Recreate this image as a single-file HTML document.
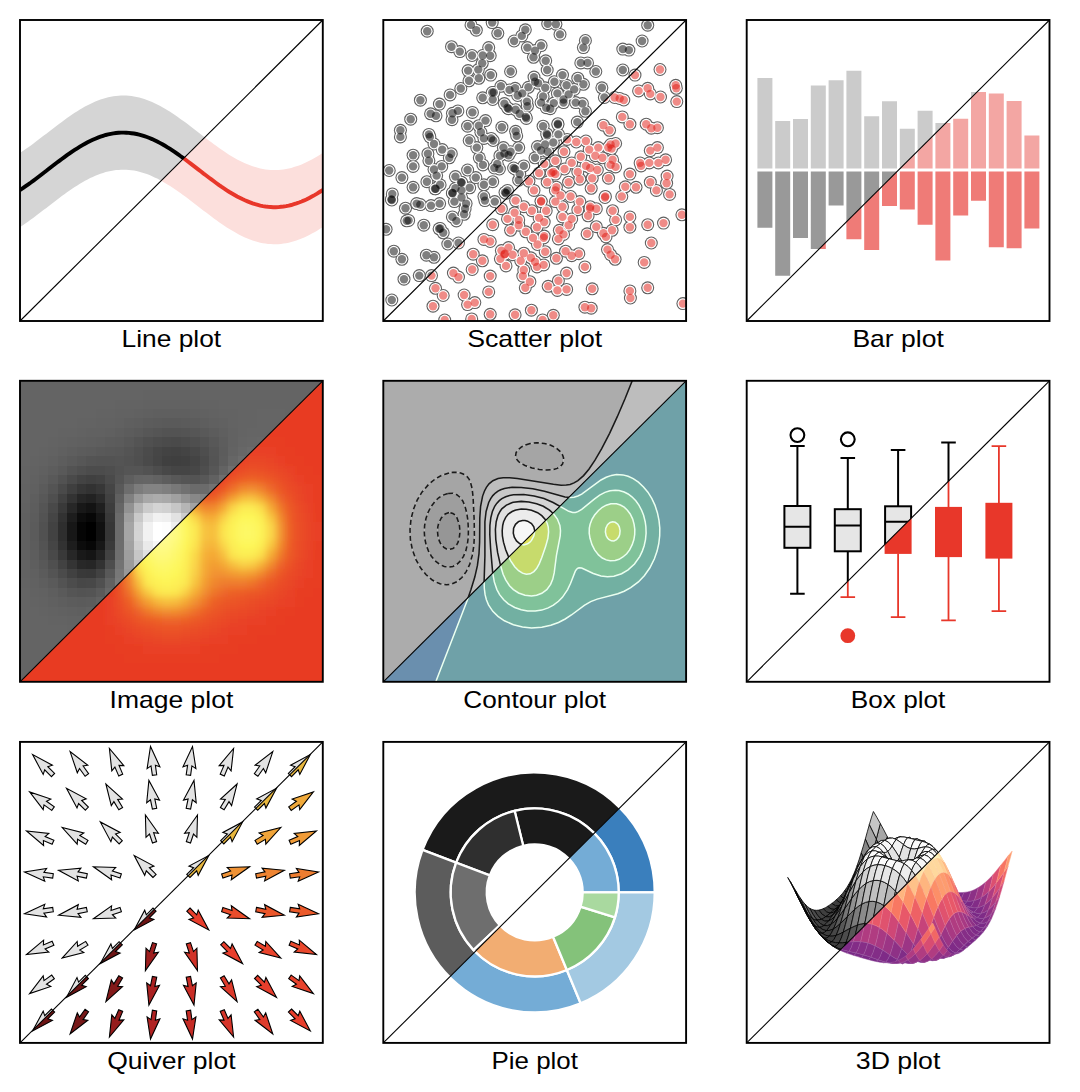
<!DOCTYPE html><html><head><meta charset="utf-8"><style>html,body{margin:0;padding:0;background:#fff;width:1080px;height:1092px;overflow:hidden}svg text{font-family:"Liberation Sans",sans-serif}</style></head><body><svg width="1080" height="1092" viewBox="0 0 1080 1092" style="position:absolute;left:0;top:0" font-family="Liberation Sans, sans-serif" font-size="23.6" fill="#000"><defs><g id="scr"><circle cx="427.2" cy="31.2" r="6.5"/><circle cx="471" cy="24.9" r="6.5"/><circle cx="476.3" cy="30.2" r="6.5"/><circle cx="451.5" cy="46.7" r="6.5"/><circle cx="459.8" cy="51.6" r="6.5"/><circle cx="472" cy="55.5" r="6.5"/><circle cx="482.7" cy="55.5" r="6.5"/><circle cx="482.2" cy="63.3" r="6.5"/><circle cx="468.1" cy="70.6" r="6.5"/><circle cx="478.3" cy="69.6" r="6.5"/><circle cx="469" cy="80.8" r="6.5"/><circle cx="478.8" cy="78.3" r="6.5"/><circle cx="460.8" cy="88.5" r="6.5"/><circle cx="450.1" cy="94.9" r="6.5"/><circle cx="420.4" cy="100.2" r="6.5"/><circle cx="439.4" cy="104.1" r="6.5"/><circle cx="482.7" cy="97.8" r="6.5"/><circle cx="430.6" cy="113.8" r="6.5"/><circle cx="436" cy="115.8" r="6.5"/><circle cx="452.5" cy="113.3" r="6.5"/><circle cx="457.9" cy="110.9" r="6.5"/><circle cx="452" cy="119.7" r="6.5"/><circle cx="472.4" cy="112.4" r="6.5"/><circle cx="410.7" cy="119.2" r="6.5"/><circle cx="492.2" cy="22.6" r="6.5"/><circle cx="497.8" cy="33.3" r="6.5"/><circle cx="525.3" cy="29.8" r="6.5"/><circle cx="521.8" cy="35.9" r="6.5"/><circle cx="514.1" cy="41" r="6.5"/><circle cx="547.7" cy="23.7" r="6.5"/><circle cx="555.9" cy="24.2" r="6.5"/><circle cx="560" cy="34.4" r="6.5"/><circle cx="585.4" cy="40.5" r="6.5"/><circle cx="583.4" cy="47.6" r="6.5"/><circle cx="488.7" cy="47.6" r="6.5"/><circle cx="490.2" cy="55.7" r="6.5"/><circle cx="527.4" cy="47.6" r="6.5"/><circle cx="535" cy="50.6" r="6.5"/><circle cx="541.1" cy="45.6" r="6.5"/><circle cx="533.5" cy="57.3" r="6.5"/><circle cx="545.7" cy="60.8" r="6.5"/><circle cx="547.2" cy="70" r="6.5"/><circle cx="580.8" cy="62.9" r="6.5"/><circle cx="587.5" cy="62.9" r="6.5"/><circle cx="510.6" cy="71.5" r="6.5"/><circle cx="490.7" cy="75.1" r="6.5"/><circle cx="534" cy="77.1" r="6.5"/><circle cx="535" cy="81.7" r="6.5"/><circle cx="538.1" cy="83.2" r="6.5"/><circle cx="528.4" cy="87.3" r="6.5"/><circle cx="562.5" cy="75.1" r="6.5"/><circle cx="554.4" cy="81.7" r="6.5"/><circle cx="577.8" cy="78.2" r="6.5"/><circle cx="583.4" cy="84.3" r="6.5"/><circle cx="566.6" cy="85.3" r="6.5"/><circle cx="574.2" cy="89.4" r="6.5"/><circle cx="545.2" cy="87.8" r="6.5"/><circle cx="500.9" cy="86.3" r="6.5"/><circle cx="493.8" cy="92.4" r="6.5"/><circle cx="509.5" cy="89.9" r="6.5"/><circle cx="515.1" cy="88.3" r="6.5"/><circle cx="522.3" cy="93.4" r="6.5"/><circle cx="517.7" cy="95.5" r="6.5"/><circle cx="492.7" cy="99.5" r="6.5"/><circle cx="543.1" cy="96.5" r="6.5"/><circle cx="541.1" cy="102.6" r="6.5"/><circle cx="557.4" cy="93.4" r="6.5"/><circle cx="568.6" cy="94.4" r="6.5"/><circle cx="563.5" cy="99.5" r="6.5"/><circle cx="563.5" cy="102.6" r="6.5"/><circle cx="553.8" cy="103.1" r="6.5"/><circle cx="546.2" cy="107.7" r="6.5"/><circle cx="550.3" cy="108.7" r="6.5"/><circle cx="526.9" cy="101.6" r="6.5"/><circle cx="527.4" cy="106.2" r="6.5"/><circle cx="504.4" cy="103.6" r="6.5"/><circle cx="508.5" cy="108.7" r="6.5"/><circle cx="515.6" cy="109.7" r="6.5"/><circle cx="519.7" cy="113.8" r="6.5"/><circle cx="526.3" cy="118.4" r="6.5"/><circle cx="575.7" cy="102.6" r="6.5"/><circle cx="582.4" cy="103.6" r="6.5"/><circle cx="585.4" cy="111.3" r="6.5"/><circle cx="647.7" cy="25.2" r="6.5"/><circle cx="642.1" cy="41" r="6.5"/><circle cx="622.8" cy="49.1" r="6.5"/><circle cx="628.9" cy="50.1" r="6.5"/><circle cx="595.8" cy="71.5" r="6.5"/><circle cx="622.8" cy="70" r="6.5"/><circle cx="635" cy="75.1" r="6.5"/><circle cx="660" cy="69.5" r="6.5"/><circle cx="601.9" cy="87.8" r="6.5"/><circle cx="604.4" cy="97.5" r="6.5"/><circle cx="614.6" cy="97.5" r="6.5"/><circle cx="619.7" cy="98.5" r="6.5"/><circle cx="623.8" cy="100" r="6.5"/><circle cx="638.6" cy="90.9" r="6.5"/><circle cx="647.7" cy="88.3" r="6.5"/><circle cx="650.3" cy="93.9" r="6.5"/><circle cx="660.5" cy="97" r="6.5"/><circle cx="675.7" cy="85.3" r="6.5"/><circle cx="676.3" cy="88.3" r="6.5"/><circle cx="676.8" cy="101.6" r="6.5"/><circle cx="622.3" cy="116.9" r="6.5"/><circle cx="485.5" cy="120.6" r="6.5"/><circle cx="400.4" cy="130.3" r="6.5"/><circle cx="400.4" cy="136.9" r="6.5"/><circle cx="428.9" cy="134.4" r="6.5"/><circle cx="429.9" cy="136.9" r="6.5"/><circle cx="434" cy="144" r="6.5"/><circle cx="442.2" cy="149.6" r="6.5"/><circle cx="451.3" cy="153.7" r="6.5"/><circle cx="449.3" cy="157.8" r="6.5"/><circle cx="467.6" cy="126.2" r="6.5"/><circle cx="478.8" cy="125.7" r="6.5"/><circle cx="480.9" cy="132.3" r="6.5"/><circle cx="483.9" cy="138.4" r="6.5"/><circle cx="469.2" cy="140.5" r="6.5"/><circle cx="476.8" cy="147.6" r="6.5"/><circle cx="413.1" cy="155.2" r="6.5"/><circle cx="413.1" cy="166.4" r="6.5"/><circle cx="427.9" cy="153.7" r="6.5"/><circle cx="428.9" cy="160.8" r="6.5"/><circle cx="389.2" cy="170.5" r="6.5"/><circle cx="401.9" cy="177.6" r="6.5"/><circle cx="434" cy="169.5" r="6.5"/><circle cx="441.7" cy="166.4" r="6.5"/><circle cx="436.6" cy="175.6" r="6.5"/><circle cx="467.6" cy="170" r="6.5"/><circle cx="479.3" cy="157.8" r="6.5"/><circle cx="482.9" cy="164.9" r="6.5"/><circle cx="475.8" cy="177.6" r="6.5"/><circle cx="413.1" cy="187.3" r="6.5"/><circle cx="426.9" cy="181.7" r="6.5"/><circle cx="440.1" cy="184.8" r="6.5"/><circle cx="435" cy="188.8" r="6.5"/><circle cx="455.4" cy="176.6" r="6.5"/><circle cx="461" cy="182.2" r="6.5"/><circle cx="452.4" cy="192.9" r="6.5"/><circle cx="455.4" cy="188.3" r="6.5"/><circle cx="461.5" cy="190.4" r="6.5"/><circle cx="469.7" cy="187.8" r="6.5"/><circle cx="483.9" cy="184.8" r="6.5"/><circle cx="392.3" cy="193.9" r="6.5"/><circle cx="391.8" cy="200" r="6.5"/><circle cx="405.5" cy="208.2" r="6.5"/><circle cx="416.7" cy="203.6" r="6.5"/><circle cx="420.3" cy="204.6" r="6.5"/><circle cx="431" cy="205.6" r="6.5"/><circle cx="439.6" cy="203.6" r="6.5"/><circle cx="454.4" cy="201.6" r="6.5"/><circle cx="461.5" cy="197.5" r="6.5"/><circle cx="466.1" cy="203.6" r="6.5"/><circle cx="465.1" cy="208.7" r="6.5"/><circle cx="464.1" cy="214.3" r="6.5"/><circle cx="483.9" cy="196.5" r="6.5"/><circle cx="484.9" cy="200.6" r="6.5"/><circle cx="452.4" cy="216.9" r="6.5"/><circle cx="456.4" cy="220.9" r="6.5"/><circle cx="408.6" cy="220.4" r="6.5"/><circle cx="501.9" cy="127.2" r="6.5"/><circle cx="515.6" cy="131.3" r="6.5"/><circle cx="516.7" cy="135.9" r="6.5"/><circle cx="491.2" cy="138.4" r="6.5"/><circle cx="493.2" cy="140.5" r="6.5"/><circle cx="503.4" cy="147.6" r="6.5"/><circle cx="510.6" cy="151.7" r="6.5"/><circle cx="508.5" cy="155.2" r="6.5"/><circle cx="499.9" cy="155.7" r="6.5"/><circle cx="518.7" cy="147.6" r="6.5"/><circle cx="497.3" cy="163.9" r="6.5"/><circle cx="499.4" cy="169" r="6.5"/><circle cx="494.3" cy="168" r="6.5"/><circle cx="513.6" cy="168" r="6.5"/><circle cx="523.8" cy="165.9" r="6.5"/><circle cx="519.7" cy="174.1" r="6.5"/><circle cx="518.7" cy="180.2" r="6.5"/><circle cx="492.7" cy="181.7" r="6.5"/><circle cx="494.8" cy="201.6" r="6.5"/><circle cx="505" cy="192.4" r="6.5"/><circle cx="507.5" cy="190.4" r="6.5"/><circle cx="543.1" cy="126.2" r="6.5"/><circle cx="557.9" cy="123.7" r="6.5"/><circle cx="577.3" cy="122.1" r="6.5"/><circle cx="546.7" cy="133.8" r="6.5"/><circle cx="558.4" cy="134.4" r="6.5"/><circle cx="553.3" cy="142.5" r="6.5"/><circle cx="537.5" cy="146.6" r="6.5"/><circle cx="545.2" cy="144.5" r="6.5"/><circle cx="547.7" cy="151.7" r="6.5"/><circle cx="535" cy="157.8" r="6.5"/><circle cx="567.1" cy="139.4" r="6.5"/><circle cx="576.3" cy="142" r="6.5"/><circle cx="585.9" cy="141" r="6.5"/><circle cx="564" cy="151.7" r="6.5"/><circle cx="555.4" cy="160.8" r="6.5"/><circle cx="580.8" cy="156.8" r="6.5"/><circle cx="544.2" cy="163.9" r="6.5"/><circle cx="539.1" cy="173.1" r="6.5"/><circle cx="551.3" cy="173.1" r="6.5"/><circle cx="555.4" cy="174.1" r="6.5"/><circle cx="564.5" cy="169" r="6.5"/><circle cx="571.7" cy="162.9" r="6.5"/><circle cx="577.8" cy="172" r="6.5"/><circle cx="585.9" cy="165.9" r="6.5"/><circle cx="528.9" cy="181.2" r="6.5"/><circle cx="547.2" cy="182.2" r="6.5"/><circle cx="555.4" cy="190.4" r="6.5"/><circle cx="568.6" cy="182.2" r="6.5"/><circle cx="579.8" cy="179.2" r="6.5"/><circle cx="534" cy="190.4" r="6.5"/><circle cx="560.5" cy="195.5" r="6.5"/><circle cx="541.1" cy="201.6" r="6.5"/><circle cx="555.4" cy="201.6" r="6.5"/><circle cx="570.6" cy="196.5" r="6.5"/><circle cx="579.8" cy="201.6" r="6.5"/><circle cx="501.4" cy="208.7" r="6.5"/><circle cx="515.6" cy="200.6" r="6.5"/><circle cx="523.8" cy="206.7" r="6.5"/><circle cx="514.6" cy="212.8" r="6.5"/><circle cx="531.9" cy="210.7" r="6.5"/><circle cx="546.2" cy="210.7" r="6.5"/><circle cx="562.5" cy="206.7" r="6.5"/><circle cx="577.8" cy="209.7" r="6.5"/><circle cx="507.5" cy="218.9" r="6.5"/><circle cx="518.7" cy="219.9" r="6.5"/><circle cx="539.1" cy="217.9" r="6.5"/><circle cx="562.5" cy="216.9" r="6.5"/><circle cx="571.7" cy="218.9" r="6.5"/><circle cx="629.9" cy="124.2" r="6.5"/><circle cx="603.4" cy="125.2" r="6.5"/><circle cx="609.5" cy="130.3" r="6.5"/><circle cx="646.2" cy="124.2" r="6.5"/><circle cx="651.3" cy="128.2" r="6.5"/><circle cx="657.4" cy="127.7" r="6.5"/><circle cx="598.3" cy="147.6" r="6.5"/><circle cx="589.2" cy="149.6" r="6.5"/><circle cx="610.6" cy="144.5" r="6.5"/><circle cx="615.6" cy="143.5" r="6.5"/><circle cx="611.6" cy="148.6" r="6.5"/><circle cx="595.3" cy="155.7" r="6.5"/><circle cx="602.4" cy="157.8" r="6.5"/><circle cx="590.2" cy="168" r="6.5"/><circle cx="597.3" cy="170" r="6.5"/><circle cx="612.6" cy="159.8" r="6.5"/><circle cx="610.6" cy="164.9" r="6.5"/><circle cx="615.6" cy="166.9" r="6.5"/><circle cx="592.2" cy="178.2" r="6.5"/><circle cx="608.5" cy="178.2" r="6.5"/><circle cx="591.2" cy="188.3" r="6.5"/><circle cx="650.3" cy="150.6" r="6.5"/><circle cx="657.4" cy="147.6" r="6.5"/><circle cx="640.1" cy="162.9" r="6.5"/><circle cx="641.1" cy="165.9" r="6.5"/><circle cx="649.3" cy="162.9" r="6.5"/><circle cx="658.4" cy="162.9" r="6.5"/><circle cx="665.6" cy="159.8" r="6.5"/><circle cx="629.9" cy="174.1" r="6.5"/><circle cx="625.3" cy="186.8" r="6.5"/><circle cx="636" cy="187.3" r="6.5"/><circle cx="621.8" cy="196.5" r="6.5"/><circle cx="605" cy="197.5" r="6.5"/><circle cx="650.3" cy="182.2" r="6.5"/><circle cx="656.4" cy="190.4" r="6.5"/><circle cx="667.1" cy="176.1" r="6.5"/><circle cx="666.6" cy="183.2" r="6.5"/><circle cx="669.6" cy="194.4" r="6.5"/><circle cx="590.2" cy="206.7" r="6.5"/><circle cx="596.3" cy="208.7" r="6.5"/><circle cx="588.1" cy="215.8" r="6.5"/><circle cx="612.6" cy="210.7" r="6.5"/><circle cx="615.6" cy="219.9" r="6.5"/><circle cx="629.9" cy="216.9" r="6.5"/><circle cx="681.9" cy="214.8" r="6.5"/><circle cx="423.8" cy="225.2" r="6.5"/><circle cx="386.1" cy="229.3" r="6.5"/><circle cx="439.1" cy="228.8" r="6.5"/><circle cx="443.2" cy="232.8" r="6.5"/><circle cx="447.8" cy="244" r="6.5"/><circle cx="458.5" cy="243" r="6.5"/><circle cx="393.8" cy="251.2" r="6.5"/><circle cx="401.9" cy="259.3" r="6.5"/><circle cx="426.4" cy="255.2" r="6.5"/><circle cx="434" cy="257.3" r="6.5"/><circle cx="404" cy="279.2" r="6.5"/><circle cx="419.3" cy="275.6" r="6.5"/><circle cx="431.5" cy="275.6" r="6.5"/><circle cx="391.8" cy="300" r="6.5"/><circle cx="483.9" cy="239.4" r="6.5"/><circle cx="473.2" cy="254.2" r="6.5"/><circle cx="482.4" cy="260.8" r="6.5"/><circle cx="472.2" cy="269.5" r="6.5"/><circle cx="453.4" cy="273.1" r="6.5"/><circle cx="458.5" cy="277.1" r="6.5"/><circle cx="435.5" cy="288.3" r="6.5"/><circle cx="443.2" cy="295.5" r="6.5"/><circle cx="464.1" cy="295" r="6.5"/><circle cx="467.6" cy="304.6" r="6.5"/><circle cx="474.8" cy="302.6" r="6.5"/><circle cx="433" cy="306.2" r="6.5"/><circle cx="444.7" cy="320" r="6.5"/><circle cx="471.7" cy="318.9" r="6.5"/><circle cx="492.7" cy="224.7" r="6.5"/><circle cx="518.7" cy="225.2" r="6.5"/><circle cx="510.6" cy="230.3" r="6.5"/><circle cx="525.8" cy="231.8" r="6.5"/><circle cx="544.2" cy="222.1" r="6.5"/><circle cx="537" cy="227.2" r="6.5"/><circle cx="533" cy="237.9" r="6.5"/><circle cx="543.7" cy="237.9" r="6.5"/><circle cx="537.5" cy="244.5" r="6.5"/><circle cx="568.6" cy="225.2" r="6.5"/><circle cx="559.4" cy="230.3" r="6.5"/><circle cx="563.5" cy="234.4" r="6.5"/><circle cx="558.4" cy="238.9" r="6.5"/><circle cx="490.2" cy="241.5" r="6.5"/><circle cx="501.4" cy="250.6" r="6.5"/><circle cx="505" cy="253.7" r="6.5"/><circle cx="508.5" cy="247.6" r="6.5"/><circle cx="512.6" cy="254.7" r="6.5"/><circle cx="500.4" cy="258.8" r="6.5"/><circle cx="506" cy="265.9" r="6.5"/><circle cx="523.8" cy="253.2" r="6.5"/><circle cx="520.7" cy="260.8" r="6.5"/><circle cx="530.9" cy="257.8" r="6.5"/><circle cx="535" cy="261.9" r="6.5"/><circle cx="537" cy="266.9" r="6.5"/><circle cx="543.7" cy="264.9" r="6.5"/><circle cx="523.8" cy="270" r="6.5"/><circle cx="522.8" cy="276.1" r="6.5"/><circle cx="529.9" cy="281.7" r="6.5"/><circle cx="525.3" cy="287.8" r="6.5"/><circle cx="545.2" cy="251.7" r="6.5"/><circle cx="556.4" cy="258.3" r="6.5"/><circle cx="565.6" cy="251.2" r="6.5"/><circle cx="571.7" cy="255.7" r="6.5"/><circle cx="578.8" cy="253.7" r="6.5"/><circle cx="584.9" cy="266.9" r="6.5"/><circle cx="490.2" cy="276.1" r="6.5"/><circle cx="488.7" cy="291.9" r="6.5"/><circle cx="566.6" cy="273.1" r="6.5"/><circle cx="558.4" cy="280.7" r="6.5"/><circle cx="548.2" cy="286.3" r="6.5"/><circle cx="557.4" cy="290.4" r="6.5"/><circle cx="566.6" cy="289.4" r="6.5"/><circle cx="490.2" cy="314.3" r="6.5"/><circle cx="515.1" cy="314.8" r="6.5"/><circle cx="531.4" cy="310.2" r="6.5"/><circle cx="553.3" cy="315.3" r="6.5"/><circle cx="542.6" cy="319.9" r="6.5"/><circle cx="584.9" cy="307.2" r="6.5"/><circle cx="629.9" cy="227.2" r="6.5"/><circle cx="647.7" cy="224.7" r="6.5"/><circle cx="663.5" cy="223.1" r="6.5"/><circle cx="596.3" cy="226.7" r="6.5"/><circle cx="587.1" cy="233.8" r="6.5"/><circle cx="603.4" cy="233.3" r="6.5"/><circle cx="606" cy="236.9" r="6.5"/><circle cx="612.1" cy="230.3" r="6.5"/><circle cx="651.3" cy="243" r="6.5"/><circle cx="607.5" cy="249.6" r="6.5"/><circle cx="610.6" cy="254.7" r="6.5"/><circle cx="615.1" cy="259.3" r="6.5"/><circle cx="644.2" cy="262.4" r="6.5"/><circle cx="592.2" cy="288.8" r="6.5"/><circle cx="629.9" cy="290.9" r="6.5"/><circle cx="630.4" cy="298" r="6.5"/><circle cx="647.7" cy="287.8" r="6.5"/><circle cx="591.2" cy="308.2" r="6.5"/><circle cx="682.9" cy="303.6" r="6.5"/><circle cx="507.5" cy="107.8" r="6.5"/><circle cx="525.8" cy="116.9" r="6.5"/><circle cx="492.2" cy="92.5" r="6.5"/><circle cx="504.4" cy="153.6" r="6.5"/><circle cx="515.1" cy="168.9" r="6.5"/><circle cx="547.2" cy="135.3" r="6.5"/><circle cx="541.1" cy="150.5" r="6.5"/><circle cx="461.7" cy="182.6" r="6.5"/><circle cx="452.5" cy="193.3" r="6.5"/><circle cx="435.7" cy="188.7" r="6.5"/><circle cx="391.4" cy="199.4" r="6.5"/><circle cx="406.7" cy="220.8" r="6.5"/><circle cx="440.3" cy="228.5" r="6.5"/><circle cx="506" cy="193.3" r="6.5"/><circle cx="557.9" cy="124.6" r="6.5"/><circle cx="553.3" cy="171.9" r="6.5"/><circle cx="556.4" cy="187.2" r="6.5"/><circle cx="541.1" cy="201" r="6.5"/><circle cx="608.3" cy="147.5" r="6.5"/><circle cx="590" cy="208.6" r="6.5"/><circle cx="605.3" cy="196.4" r="6.5"/><circle cx="504.4" cy="254.4" r="6.5"/><circle cx="544.2" cy="236.1" r="6.5"/></g><g id="scw"><circle cx="427.2" cy="31.2" r="5.4"/><circle cx="471" cy="24.9" r="5.4"/><circle cx="476.3" cy="30.2" r="5.4"/><circle cx="451.5" cy="46.7" r="5.4"/><circle cx="459.8" cy="51.6" r="5.4"/><circle cx="472" cy="55.5" r="5.4"/><circle cx="482.7" cy="55.5" r="5.4"/><circle cx="482.2" cy="63.3" r="5.4"/><circle cx="468.1" cy="70.6" r="5.4"/><circle cx="478.3" cy="69.6" r="5.4"/><circle cx="469" cy="80.8" r="5.4"/><circle cx="478.8" cy="78.3" r="5.4"/><circle cx="460.8" cy="88.5" r="5.4"/><circle cx="450.1" cy="94.9" r="5.4"/><circle cx="420.4" cy="100.2" r="5.4"/><circle cx="439.4" cy="104.1" r="5.4"/><circle cx="482.7" cy="97.8" r="5.4"/><circle cx="430.6" cy="113.8" r="5.4"/><circle cx="436" cy="115.8" r="5.4"/><circle cx="452.5" cy="113.3" r="5.4"/><circle cx="457.9" cy="110.9" r="5.4"/><circle cx="452" cy="119.7" r="5.4"/><circle cx="472.4" cy="112.4" r="5.4"/><circle cx="410.7" cy="119.2" r="5.4"/><circle cx="492.2" cy="22.6" r="5.4"/><circle cx="497.8" cy="33.3" r="5.4"/><circle cx="525.3" cy="29.8" r="5.4"/><circle cx="521.8" cy="35.9" r="5.4"/><circle cx="514.1" cy="41" r="5.4"/><circle cx="547.7" cy="23.7" r="5.4"/><circle cx="555.9" cy="24.2" r="5.4"/><circle cx="560" cy="34.4" r="5.4"/><circle cx="585.4" cy="40.5" r="5.4"/><circle cx="583.4" cy="47.6" r="5.4"/><circle cx="488.7" cy="47.6" r="5.4"/><circle cx="490.2" cy="55.7" r="5.4"/><circle cx="527.4" cy="47.6" r="5.4"/><circle cx="535" cy="50.6" r="5.4"/><circle cx="541.1" cy="45.6" r="5.4"/><circle cx="533.5" cy="57.3" r="5.4"/><circle cx="545.7" cy="60.8" r="5.4"/><circle cx="547.2" cy="70" r="5.4"/><circle cx="580.8" cy="62.9" r="5.4"/><circle cx="587.5" cy="62.9" r="5.4"/><circle cx="510.6" cy="71.5" r="5.4"/><circle cx="490.7" cy="75.1" r="5.4"/><circle cx="534" cy="77.1" r="5.4"/><circle cx="535" cy="81.7" r="5.4"/><circle cx="538.1" cy="83.2" r="5.4"/><circle cx="528.4" cy="87.3" r="5.4"/><circle cx="562.5" cy="75.1" r="5.4"/><circle cx="554.4" cy="81.7" r="5.4"/><circle cx="577.8" cy="78.2" r="5.4"/><circle cx="583.4" cy="84.3" r="5.4"/><circle cx="566.6" cy="85.3" r="5.4"/><circle cx="574.2" cy="89.4" r="5.4"/><circle cx="545.2" cy="87.8" r="5.4"/><circle cx="500.9" cy="86.3" r="5.4"/><circle cx="493.8" cy="92.4" r="5.4"/><circle cx="509.5" cy="89.9" r="5.4"/><circle cx="515.1" cy="88.3" r="5.4"/><circle cx="522.3" cy="93.4" r="5.4"/><circle cx="517.7" cy="95.5" r="5.4"/><circle cx="492.7" cy="99.5" r="5.4"/><circle cx="543.1" cy="96.5" r="5.4"/><circle cx="541.1" cy="102.6" r="5.4"/><circle cx="557.4" cy="93.4" r="5.4"/><circle cx="568.6" cy="94.4" r="5.4"/><circle cx="563.5" cy="99.5" r="5.4"/><circle cx="563.5" cy="102.6" r="5.4"/><circle cx="553.8" cy="103.1" r="5.4"/><circle cx="546.2" cy="107.7" r="5.4"/><circle cx="550.3" cy="108.7" r="5.4"/><circle cx="526.9" cy="101.6" r="5.4"/><circle cx="527.4" cy="106.2" r="5.4"/><circle cx="504.4" cy="103.6" r="5.4"/><circle cx="508.5" cy="108.7" r="5.4"/><circle cx="515.6" cy="109.7" r="5.4"/><circle cx="519.7" cy="113.8" r="5.4"/><circle cx="526.3" cy="118.4" r="5.4"/><circle cx="575.7" cy="102.6" r="5.4"/><circle cx="582.4" cy="103.6" r="5.4"/><circle cx="585.4" cy="111.3" r="5.4"/><circle cx="647.7" cy="25.2" r="5.4"/><circle cx="642.1" cy="41" r="5.4"/><circle cx="622.8" cy="49.1" r="5.4"/><circle cx="628.9" cy="50.1" r="5.4"/><circle cx="595.8" cy="71.5" r="5.4"/><circle cx="622.8" cy="70" r="5.4"/><circle cx="635" cy="75.1" r="5.4"/><circle cx="660" cy="69.5" r="5.4"/><circle cx="601.9" cy="87.8" r="5.4"/><circle cx="604.4" cy="97.5" r="5.4"/><circle cx="614.6" cy="97.5" r="5.4"/><circle cx="619.7" cy="98.5" r="5.4"/><circle cx="623.8" cy="100" r="5.4"/><circle cx="638.6" cy="90.9" r="5.4"/><circle cx="647.7" cy="88.3" r="5.4"/><circle cx="650.3" cy="93.9" r="5.4"/><circle cx="660.5" cy="97" r="5.4"/><circle cx="675.7" cy="85.3" r="5.4"/><circle cx="676.3" cy="88.3" r="5.4"/><circle cx="676.8" cy="101.6" r="5.4"/><circle cx="622.3" cy="116.9" r="5.4"/><circle cx="485.5" cy="120.6" r="5.4"/><circle cx="400.4" cy="130.3" r="5.4"/><circle cx="400.4" cy="136.9" r="5.4"/><circle cx="428.9" cy="134.4" r="5.4"/><circle cx="429.9" cy="136.9" r="5.4"/><circle cx="434" cy="144" r="5.4"/><circle cx="442.2" cy="149.6" r="5.4"/><circle cx="451.3" cy="153.7" r="5.4"/><circle cx="449.3" cy="157.8" r="5.4"/><circle cx="467.6" cy="126.2" r="5.4"/><circle cx="478.8" cy="125.7" r="5.4"/><circle cx="480.9" cy="132.3" r="5.4"/><circle cx="483.9" cy="138.4" r="5.4"/><circle cx="469.2" cy="140.5" r="5.4"/><circle cx="476.8" cy="147.6" r="5.4"/><circle cx="413.1" cy="155.2" r="5.4"/><circle cx="413.1" cy="166.4" r="5.4"/><circle cx="427.9" cy="153.7" r="5.4"/><circle cx="428.9" cy="160.8" r="5.4"/><circle cx="389.2" cy="170.5" r="5.4"/><circle cx="401.9" cy="177.6" r="5.4"/><circle cx="434" cy="169.5" r="5.4"/><circle cx="441.7" cy="166.4" r="5.4"/><circle cx="436.6" cy="175.6" r="5.4"/><circle cx="467.6" cy="170" r="5.4"/><circle cx="479.3" cy="157.8" r="5.4"/><circle cx="482.9" cy="164.9" r="5.4"/><circle cx="475.8" cy="177.6" r="5.4"/><circle cx="413.1" cy="187.3" r="5.4"/><circle cx="426.9" cy="181.7" r="5.4"/><circle cx="440.1" cy="184.8" r="5.4"/><circle cx="435" cy="188.8" r="5.4"/><circle cx="455.4" cy="176.6" r="5.4"/><circle cx="461" cy="182.2" r="5.4"/><circle cx="452.4" cy="192.9" r="5.4"/><circle cx="455.4" cy="188.3" r="5.4"/><circle cx="461.5" cy="190.4" r="5.4"/><circle cx="469.7" cy="187.8" r="5.4"/><circle cx="483.9" cy="184.8" r="5.4"/><circle cx="392.3" cy="193.9" r="5.4"/><circle cx="391.8" cy="200" r="5.4"/><circle cx="405.5" cy="208.2" r="5.4"/><circle cx="416.7" cy="203.6" r="5.4"/><circle cx="420.3" cy="204.6" r="5.4"/><circle cx="431" cy="205.6" r="5.4"/><circle cx="439.6" cy="203.6" r="5.4"/><circle cx="454.4" cy="201.6" r="5.4"/><circle cx="461.5" cy="197.5" r="5.4"/><circle cx="466.1" cy="203.6" r="5.4"/><circle cx="465.1" cy="208.7" r="5.4"/><circle cx="464.1" cy="214.3" r="5.4"/><circle cx="483.9" cy="196.5" r="5.4"/><circle cx="484.9" cy="200.6" r="5.4"/><circle cx="452.4" cy="216.9" r="5.4"/><circle cx="456.4" cy="220.9" r="5.4"/><circle cx="408.6" cy="220.4" r="5.4"/><circle cx="501.9" cy="127.2" r="5.4"/><circle cx="515.6" cy="131.3" r="5.4"/><circle cx="516.7" cy="135.9" r="5.4"/><circle cx="491.2" cy="138.4" r="5.4"/><circle cx="493.2" cy="140.5" r="5.4"/><circle cx="503.4" cy="147.6" r="5.4"/><circle cx="510.6" cy="151.7" r="5.4"/><circle cx="508.5" cy="155.2" r="5.4"/><circle cx="499.9" cy="155.7" r="5.4"/><circle cx="518.7" cy="147.6" r="5.4"/><circle cx="497.3" cy="163.9" r="5.4"/><circle cx="499.4" cy="169" r="5.4"/><circle cx="494.3" cy="168" r="5.4"/><circle cx="513.6" cy="168" r="5.4"/><circle cx="523.8" cy="165.9" r="5.4"/><circle cx="519.7" cy="174.1" r="5.4"/><circle cx="518.7" cy="180.2" r="5.4"/><circle cx="492.7" cy="181.7" r="5.4"/><circle cx="494.8" cy="201.6" r="5.4"/><circle cx="505" cy="192.4" r="5.4"/><circle cx="507.5" cy="190.4" r="5.4"/><circle cx="543.1" cy="126.2" r="5.4"/><circle cx="557.9" cy="123.7" r="5.4"/><circle cx="577.3" cy="122.1" r="5.4"/><circle cx="546.7" cy="133.8" r="5.4"/><circle cx="558.4" cy="134.4" r="5.4"/><circle cx="553.3" cy="142.5" r="5.4"/><circle cx="537.5" cy="146.6" r="5.4"/><circle cx="545.2" cy="144.5" r="5.4"/><circle cx="547.7" cy="151.7" r="5.4"/><circle cx="535" cy="157.8" r="5.4"/><circle cx="567.1" cy="139.4" r="5.4"/><circle cx="576.3" cy="142" r="5.4"/><circle cx="585.9" cy="141" r="5.4"/><circle cx="564" cy="151.7" r="5.4"/><circle cx="555.4" cy="160.8" r="5.4"/><circle cx="580.8" cy="156.8" r="5.4"/><circle cx="544.2" cy="163.9" r="5.4"/><circle cx="539.1" cy="173.1" r="5.4"/><circle cx="551.3" cy="173.1" r="5.4"/><circle cx="555.4" cy="174.1" r="5.4"/><circle cx="564.5" cy="169" r="5.4"/><circle cx="571.7" cy="162.9" r="5.4"/><circle cx="577.8" cy="172" r="5.4"/><circle cx="585.9" cy="165.9" r="5.4"/><circle cx="528.9" cy="181.2" r="5.4"/><circle cx="547.2" cy="182.2" r="5.4"/><circle cx="555.4" cy="190.4" r="5.4"/><circle cx="568.6" cy="182.2" r="5.4"/><circle cx="579.8" cy="179.2" r="5.4"/><circle cx="534" cy="190.4" r="5.4"/><circle cx="560.5" cy="195.5" r="5.4"/><circle cx="541.1" cy="201.6" r="5.4"/><circle cx="555.4" cy="201.6" r="5.4"/><circle cx="570.6" cy="196.5" r="5.4"/><circle cx="579.8" cy="201.6" r="5.4"/><circle cx="501.4" cy="208.7" r="5.4"/><circle cx="515.6" cy="200.6" r="5.4"/><circle cx="523.8" cy="206.7" r="5.4"/><circle cx="514.6" cy="212.8" r="5.4"/><circle cx="531.9" cy="210.7" r="5.4"/><circle cx="546.2" cy="210.7" r="5.4"/><circle cx="562.5" cy="206.7" r="5.4"/><circle cx="577.8" cy="209.7" r="5.4"/><circle cx="507.5" cy="218.9" r="5.4"/><circle cx="518.7" cy="219.9" r="5.4"/><circle cx="539.1" cy="217.9" r="5.4"/><circle cx="562.5" cy="216.9" r="5.4"/><circle cx="571.7" cy="218.9" r="5.4"/><circle cx="629.9" cy="124.2" r="5.4"/><circle cx="603.4" cy="125.2" r="5.4"/><circle cx="609.5" cy="130.3" r="5.4"/><circle cx="646.2" cy="124.2" r="5.4"/><circle cx="651.3" cy="128.2" r="5.4"/><circle cx="657.4" cy="127.7" r="5.4"/><circle cx="598.3" cy="147.6" r="5.4"/><circle cx="589.2" cy="149.6" r="5.4"/><circle cx="610.6" cy="144.5" r="5.4"/><circle cx="615.6" cy="143.5" r="5.4"/><circle cx="611.6" cy="148.6" r="5.4"/><circle cx="595.3" cy="155.7" r="5.4"/><circle cx="602.4" cy="157.8" r="5.4"/><circle cx="590.2" cy="168" r="5.4"/><circle cx="597.3" cy="170" r="5.4"/><circle cx="612.6" cy="159.8" r="5.4"/><circle cx="610.6" cy="164.9" r="5.4"/><circle cx="615.6" cy="166.9" r="5.4"/><circle cx="592.2" cy="178.2" r="5.4"/><circle cx="608.5" cy="178.2" r="5.4"/><circle cx="591.2" cy="188.3" r="5.4"/><circle cx="650.3" cy="150.6" r="5.4"/><circle cx="657.4" cy="147.6" r="5.4"/><circle cx="640.1" cy="162.9" r="5.4"/><circle cx="641.1" cy="165.9" r="5.4"/><circle cx="649.3" cy="162.9" r="5.4"/><circle cx="658.4" cy="162.9" r="5.4"/><circle cx="665.6" cy="159.8" r="5.4"/><circle cx="629.9" cy="174.1" r="5.4"/><circle cx="625.3" cy="186.8" r="5.4"/><circle cx="636" cy="187.3" r="5.4"/><circle cx="621.8" cy="196.5" r="5.4"/><circle cx="605" cy="197.5" r="5.4"/><circle cx="650.3" cy="182.2" r="5.4"/><circle cx="656.4" cy="190.4" r="5.4"/><circle cx="667.1" cy="176.1" r="5.4"/><circle cx="666.6" cy="183.2" r="5.4"/><circle cx="669.6" cy="194.4" r="5.4"/><circle cx="590.2" cy="206.7" r="5.4"/><circle cx="596.3" cy="208.7" r="5.4"/><circle cx="588.1" cy="215.8" r="5.4"/><circle cx="612.6" cy="210.7" r="5.4"/><circle cx="615.6" cy="219.9" r="5.4"/><circle cx="629.9" cy="216.9" r="5.4"/><circle cx="681.9" cy="214.8" r="5.4"/><circle cx="423.8" cy="225.2" r="5.4"/><circle cx="386.1" cy="229.3" r="5.4"/><circle cx="439.1" cy="228.8" r="5.4"/><circle cx="443.2" cy="232.8" r="5.4"/><circle cx="447.8" cy="244" r="5.4"/><circle cx="458.5" cy="243" r="5.4"/><circle cx="393.8" cy="251.2" r="5.4"/><circle cx="401.9" cy="259.3" r="5.4"/><circle cx="426.4" cy="255.2" r="5.4"/><circle cx="434" cy="257.3" r="5.4"/><circle cx="404" cy="279.2" r="5.4"/><circle cx="419.3" cy="275.6" r="5.4"/><circle cx="431.5" cy="275.6" r="5.4"/><circle cx="391.8" cy="300" r="5.4"/><circle cx="483.9" cy="239.4" r="5.4"/><circle cx="473.2" cy="254.2" r="5.4"/><circle cx="482.4" cy="260.8" r="5.4"/><circle cx="472.2" cy="269.5" r="5.4"/><circle cx="453.4" cy="273.1" r="5.4"/><circle cx="458.5" cy="277.1" r="5.4"/><circle cx="435.5" cy="288.3" r="5.4"/><circle cx="443.2" cy="295.5" r="5.4"/><circle cx="464.1" cy="295" r="5.4"/><circle cx="467.6" cy="304.6" r="5.4"/><circle cx="474.8" cy="302.6" r="5.4"/><circle cx="433" cy="306.2" r="5.4"/><circle cx="444.7" cy="320" r="5.4"/><circle cx="471.7" cy="318.9" r="5.4"/><circle cx="492.7" cy="224.7" r="5.4"/><circle cx="518.7" cy="225.2" r="5.4"/><circle cx="510.6" cy="230.3" r="5.4"/><circle cx="525.8" cy="231.8" r="5.4"/><circle cx="544.2" cy="222.1" r="5.4"/><circle cx="537" cy="227.2" r="5.4"/><circle cx="533" cy="237.9" r="5.4"/><circle cx="543.7" cy="237.9" r="5.4"/><circle cx="537.5" cy="244.5" r="5.4"/><circle cx="568.6" cy="225.2" r="5.4"/><circle cx="559.4" cy="230.3" r="5.4"/><circle cx="563.5" cy="234.4" r="5.4"/><circle cx="558.4" cy="238.9" r="5.4"/><circle cx="490.2" cy="241.5" r="5.4"/><circle cx="501.4" cy="250.6" r="5.4"/><circle cx="505" cy="253.7" r="5.4"/><circle cx="508.5" cy="247.6" r="5.4"/><circle cx="512.6" cy="254.7" r="5.4"/><circle cx="500.4" cy="258.8" r="5.4"/><circle cx="506" cy="265.9" r="5.4"/><circle cx="523.8" cy="253.2" r="5.4"/><circle cx="520.7" cy="260.8" r="5.4"/><circle cx="530.9" cy="257.8" r="5.4"/><circle cx="535" cy="261.9" r="5.4"/><circle cx="537" cy="266.9" r="5.4"/><circle cx="543.7" cy="264.9" r="5.4"/><circle cx="523.8" cy="270" r="5.4"/><circle cx="522.8" cy="276.1" r="5.4"/><circle cx="529.9" cy="281.7" r="5.4"/><circle cx="525.3" cy="287.8" r="5.4"/><circle cx="545.2" cy="251.7" r="5.4"/><circle cx="556.4" cy="258.3" r="5.4"/><circle cx="565.6" cy="251.2" r="5.4"/><circle cx="571.7" cy="255.7" r="5.4"/><circle cx="578.8" cy="253.7" r="5.4"/><circle cx="584.9" cy="266.9" r="5.4"/><circle cx="490.2" cy="276.1" r="5.4"/><circle cx="488.7" cy="291.9" r="5.4"/><circle cx="566.6" cy="273.1" r="5.4"/><circle cx="558.4" cy="280.7" r="5.4"/><circle cx="548.2" cy="286.3" r="5.4"/><circle cx="557.4" cy="290.4" r="5.4"/><circle cx="566.6" cy="289.4" r="5.4"/><circle cx="490.2" cy="314.3" r="5.4"/><circle cx="515.1" cy="314.8" r="5.4"/><circle cx="531.4" cy="310.2" r="5.4"/><circle cx="553.3" cy="315.3" r="5.4"/><circle cx="542.6" cy="319.9" r="5.4"/><circle cx="584.9" cy="307.2" r="5.4"/><circle cx="629.9" cy="227.2" r="5.4"/><circle cx="647.7" cy="224.7" r="5.4"/><circle cx="663.5" cy="223.1" r="5.4"/><circle cx="596.3" cy="226.7" r="5.4"/><circle cx="587.1" cy="233.8" r="5.4"/><circle cx="603.4" cy="233.3" r="5.4"/><circle cx="606" cy="236.9" r="5.4"/><circle cx="612.1" cy="230.3" r="5.4"/><circle cx="651.3" cy="243" r="5.4"/><circle cx="607.5" cy="249.6" r="5.4"/><circle cx="610.6" cy="254.7" r="5.4"/><circle cx="615.1" cy="259.3" r="5.4"/><circle cx="644.2" cy="262.4" r="5.4"/><circle cx="592.2" cy="288.8" r="5.4"/><circle cx="629.9" cy="290.9" r="5.4"/><circle cx="630.4" cy="298" r="5.4"/><circle cx="647.7" cy="287.8" r="5.4"/><circle cx="591.2" cy="308.2" r="5.4"/><circle cx="682.9" cy="303.6" r="5.4"/><circle cx="507.5" cy="107.8" r="5.4"/><circle cx="525.8" cy="116.9" r="5.4"/><circle cx="492.2" cy="92.5" r="5.4"/><circle cx="504.4" cy="153.6" r="5.4"/><circle cx="515.1" cy="168.9" r="5.4"/><circle cx="547.2" cy="135.3" r="5.4"/><circle cx="541.1" cy="150.5" r="5.4"/><circle cx="461.7" cy="182.6" r="5.4"/><circle cx="452.5" cy="193.3" r="5.4"/><circle cx="435.7" cy="188.7" r="5.4"/><circle cx="391.4" cy="199.4" r="5.4"/><circle cx="406.7" cy="220.8" r="5.4"/><circle cx="440.3" cy="228.5" r="5.4"/><circle cx="506" cy="193.3" r="5.4"/><circle cx="557.9" cy="124.6" r="5.4"/><circle cx="553.3" cy="171.9" r="5.4"/><circle cx="556.4" cy="187.2" r="5.4"/><circle cx="541.1" cy="201" r="5.4"/><circle cx="608.3" cy="147.5" r="5.4"/><circle cx="590" cy="208.6" r="5.4"/><circle cx="605.3" cy="196.4" r="5.4"/><circle cx="504.4" cy="254.4" r="5.4"/><circle cx="544.2" cy="236.1" r="5.4"/></g><g id="scc"><circle cx="427.2" cy="31.2" r="4.2"/><circle cx="471" cy="24.9" r="4.2"/><circle cx="476.3" cy="30.2" r="4.2"/><circle cx="451.5" cy="46.7" r="4.2"/><circle cx="459.8" cy="51.6" r="4.2"/><circle cx="472" cy="55.5" r="4.2"/><circle cx="482.7" cy="55.5" r="4.2"/><circle cx="482.2" cy="63.3" r="4.2"/><circle cx="468.1" cy="70.6" r="4.2"/><circle cx="478.3" cy="69.6" r="4.2"/><circle cx="469" cy="80.8" r="4.2"/><circle cx="478.8" cy="78.3" r="4.2"/><circle cx="460.8" cy="88.5" r="4.2"/><circle cx="450.1" cy="94.9" r="4.2"/><circle cx="420.4" cy="100.2" r="4.2"/><circle cx="439.4" cy="104.1" r="4.2"/><circle cx="482.7" cy="97.8" r="4.2"/><circle cx="430.6" cy="113.8" r="4.2"/><circle cx="436" cy="115.8" r="4.2"/><circle cx="452.5" cy="113.3" r="4.2"/><circle cx="457.9" cy="110.9" r="4.2"/><circle cx="452" cy="119.7" r="4.2"/><circle cx="472.4" cy="112.4" r="4.2"/><circle cx="410.7" cy="119.2" r="4.2"/><circle cx="492.2" cy="22.6" r="4.2"/><circle cx="497.8" cy="33.3" r="4.2"/><circle cx="525.3" cy="29.8" r="4.2"/><circle cx="521.8" cy="35.9" r="4.2"/><circle cx="514.1" cy="41" r="4.2"/><circle cx="547.7" cy="23.7" r="4.2"/><circle cx="555.9" cy="24.2" r="4.2"/><circle cx="560" cy="34.4" r="4.2"/><circle cx="585.4" cy="40.5" r="4.2"/><circle cx="583.4" cy="47.6" r="4.2"/><circle cx="488.7" cy="47.6" r="4.2"/><circle cx="490.2" cy="55.7" r="4.2"/><circle cx="527.4" cy="47.6" r="4.2"/><circle cx="535" cy="50.6" r="4.2"/><circle cx="541.1" cy="45.6" r="4.2"/><circle cx="533.5" cy="57.3" r="4.2"/><circle cx="545.7" cy="60.8" r="4.2"/><circle cx="547.2" cy="70" r="4.2"/><circle cx="580.8" cy="62.9" r="4.2"/><circle cx="587.5" cy="62.9" r="4.2"/><circle cx="510.6" cy="71.5" r="4.2"/><circle cx="490.7" cy="75.1" r="4.2"/><circle cx="534" cy="77.1" r="4.2"/><circle cx="535" cy="81.7" r="4.2"/><circle cx="538.1" cy="83.2" r="4.2"/><circle cx="528.4" cy="87.3" r="4.2"/><circle cx="562.5" cy="75.1" r="4.2"/><circle cx="554.4" cy="81.7" r="4.2"/><circle cx="577.8" cy="78.2" r="4.2"/><circle cx="583.4" cy="84.3" r="4.2"/><circle cx="566.6" cy="85.3" r="4.2"/><circle cx="574.2" cy="89.4" r="4.2"/><circle cx="545.2" cy="87.8" r="4.2"/><circle cx="500.9" cy="86.3" r="4.2"/><circle cx="493.8" cy="92.4" r="4.2"/><circle cx="509.5" cy="89.9" r="4.2"/><circle cx="515.1" cy="88.3" r="4.2"/><circle cx="522.3" cy="93.4" r="4.2"/><circle cx="517.7" cy="95.5" r="4.2"/><circle cx="492.7" cy="99.5" r="4.2"/><circle cx="543.1" cy="96.5" r="4.2"/><circle cx="541.1" cy="102.6" r="4.2"/><circle cx="557.4" cy="93.4" r="4.2"/><circle cx="568.6" cy="94.4" r="4.2"/><circle cx="563.5" cy="99.5" r="4.2"/><circle cx="563.5" cy="102.6" r="4.2"/><circle cx="553.8" cy="103.1" r="4.2"/><circle cx="546.2" cy="107.7" r="4.2"/><circle cx="550.3" cy="108.7" r="4.2"/><circle cx="526.9" cy="101.6" r="4.2"/><circle cx="527.4" cy="106.2" r="4.2"/><circle cx="504.4" cy="103.6" r="4.2"/><circle cx="508.5" cy="108.7" r="4.2"/><circle cx="515.6" cy="109.7" r="4.2"/><circle cx="519.7" cy="113.8" r="4.2"/><circle cx="526.3" cy="118.4" r="4.2"/><circle cx="575.7" cy="102.6" r="4.2"/><circle cx="582.4" cy="103.6" r="4.2"/><circle cx="585.4" cy="111.3" r="4.2"/><circle cx="647.7" cy="25.2" r="4.2"/><circle cx="642.1" cy="41" r="4.2"/><circle cx="622.8" cy="49.1" r="4.2"/><circle cx="628.9" cy="50.1" r="4.2"/><circle cx="595.8" cy="71.5" r="4.2"/><circle cx="622.8" cy="70" r="4.2"/><circle cx="635" cy="75.1" r="4.2"/><circle cx="660" cy="69.5" r="4.2"/><circle cx="601.9" cy="87.8" r="4.2"/><circle cx="604.4" cy="97.5" r="4.2"/><circle cx="614.6" cy="97.5" r="4.2"/><circle cx="619.7" cy="98.5" r="4.2"/><circle cx="623.8" cy="100" r="4.2"/><circle cx="638.6" cy="90.9" r="4.2"/><circle cx="647.7" cy="88.3" r="4.2"/><circle cx="650.3" cy="93.9" r="4.2"/><circle cx="660.5" cy="97" r="4.2"/><circle cx="675.7" cy="85.3" r="4.2"/><circle cx="676.3" cy="88.3" r="4.2"/><circle cx="676.8" cy="101.6" r="4.2"/><circle cx="622.3" cy="116.9" r="4.2"/><circle cx="485.5" cy="120.6" r="4.2"/><circle cx="400.4" cy="130.3" r="4.2"/><circle cx="400.4" cy="136.9" r="4.2"/><circle cx="428.9" cy="134.4" r="4.2"/><circle cx="429.9" cy="136.9" r="4.2"/><circle cx="434" cy="144" r="4.2"/><circle cx="442.2" cy="149.6" r="4.2"/><circle cx="451.3" cy="153.7" r="4.2"/><circle cx="449.3" cy="157.8" r="4.2"/><circle cx="467.6" cy="126.2" r="4.2"/><circle cx="478.8" cy="125.7" r="4.2"/><circle cx="480.9" cy="132.3" r="4.2"/><circle cx="483.9" cy="138.4" r="4.2"/><circle cx="469.2" cy="140.5" r="4.2"/><circle cx="476.8" cy="147.6" r="4.2"/><circle cx="413.1" cy="155.2" r="4.2"/><circle cx="413.1" cy="166.4" r="4.2"/><circle cx="427.9" cy="153.7" r="4.2"/><circle cx="428.9" cy="160.8" r="4.2"/><circle cx="389.2" cy="170.5" r="4.2"/><circle cx="401.9" cy="177.6" r="4.2"/><circle cx="434" cy="169.5" r="4.2"/><circle cx="441.7" cy="166.4" r="4.2"/><circle cx="436.6" cy="175.6" r="4.2"/><circle cx="467.6" cy="170" r="4.2"/><circle cx="479.3" cy="157.8" r="4.2"/><circle cx="482.9" cy="164.9" r="4.2"/><circle cx="475.8" cy="177.6" r="4.2"/><circle cx="413.1" cy="187.3" r="4.2"/><circle cx="426.9" cy="181.7" r="4.2"/><circle cx="440.1" cy="184.8" r="4.2"/><circle cx="435" cy="188.8" r="4.2"/><circle cx="455.4" cy="176.6" r="4.2"/><circle cx="461" cy="182.2" r="4.2"/><circle cx="452.4" cy="192.9" r="4.2"/><circle cx="455.4" cy="188.3" r="4.2"/><circle cx="461.5" cy="190.4" r="4.2"/><circle cx="469.7" cy="187.8" r="4.2"/><circle cx="483.9" cy="184.8" r="4.2"/><circle cx="392.3" cy="193.9" r="4.2"/><circle cx="391.8" cy="200" r="4.2"/><circle cx="405.5" cy="208.2" r="4.2"/><circle cx="416.7" cy="203.6" r="4.2"/><circle cx="420.3" cy="204.6" r="4.2"/><circle cx="431" cy="205.6" r="4.2"/><circle cx="439.6" cy="203.6" r="4.2"/><circle cx="454.4" cy="201.6" r="4.2"/><circle cx="461.5" cy="197.5" r="4.2"/><circle cx="466.1" cy="203.6" r="4.2"/><circle cx="465.1" cy="208.7" r="4.2"/><circle cx="464.1" cy="214.3" r="4.2"/><circle cx="483.9" cy="196.5" r="4.2"/><circle cx="484.9" cy="200.6" r="4.2"/><circle cx="452.4" cy="216.9" r="4.2"/><circle cx="456.4" cy="220.9" r="4.2"/><circle cx="408.6" cy="220.4" r="4.2"/><circle cx="501.9" cy="127.2" r="4.2"/><circle cx="515.6" cy="131.3" r="4.2"/><circle cx="516.7" cy="135.9" r="4.2"/><circle cx="491.2" cy="138.4" r="4.2"/><circle cx="493.2" cy="140.5" r="4.2"/><circle cx="503.4" cy="147.6" r="4.2"/><circle cx="510.6" cy="151.7" r="4.2"/><circle cx="508.5" cy="155.2" r="4.2"/><circle cx="499.9" cy="155.7" r="4.2"/><circle cx="518.7" cy="147.6" r="4.2"/><circle cx="497.3" cy="163.9" r="4.2"/><circle cx="499.4" cy="169" r="4.2"/><circle cx="494.3" cy="168" r="4.2"/><circle cx="513.6" cy="168" r="4.2"/><circle cx="523.8" cy="165.9" r="4.2"/><circle cx="519.7" cy="174.1" r="4.2"/><circle cx="518.7" cy="180.2" r="4.2"/><circle cx="492.7" cy="181.7" r="4.2"/><circle cx="494.8" cy="201.6" r="4.2"/><circle cx="505" cy="192.4" r="4.2"/><circle cx="507.5" cy="190.4" r="4.2"/><circle cx="543.1" cy="126.2" r="4.2"/><circle cx="557.9" cy="123.7" r="4.2"/><circle cx="577.3" cy="122.1" r="4.2"/><circle cx="546.7" cy="133.8" r="4.2"/><circle cx="558.4" cy="134.4" r="4.2"/><circle cx="553.3" cy="142.5" r="4.2"/><circle cx="537.5" cy="146.6" r="4.2"/><circle cx="545.2" cy="144.5" r="4.2"/><circle cx="547.7" cy="151.7" r="4.2"/><circle cx="535" cy="157.8" r="4.2"/><circle cx="567.1" cy="139.4" r="4.2"/><circle cx="576.3" cy="142" r="4.2"/><circle cx="585.9" cy="141" r="4.2"/><circle cx="564" cy="151.7" r="4.2"/><circle cx="555.4" cy="160.8" r="4.2"/><circle cx="580.8" cy="156.8" r="4.2"/><circle cx="544.2" cy="163.9" r="4.2"/><circle cx="539.1" cy="173.1" r="4.2"/><circle cx="551.3" cy="173.1" r="4.2"/><circle cx="555.4" cy="174.1" r="4.2"/><circle cx="564.5" cy="169" r="4.2"/><circle cx="571.7" cy="162.9" r="4.2"/><circle cx="577.8" cy="172" r="4.2"/><circle cx="585.9" cy="165.9" r="4.2"/><circle cx="528.9" cy="181.2" r="4.2"/><circle cx="547.2" cy="182.2" r="4.2"/><circle cx="555.4" cy="190.4" r="4.2"/><circle cx="568.6" cy="182.2" r="4.2"/><circle cx="579.8" cy="179.2" r="4.2"/><circle cx="534" cy="190.4" r="4.2"/><circle cx="560.5" cy="195.5" r="4.2"/><circle cx="541.1" cy="201.6" r="4.2"/><circle cx="555.4" cy="201.6" r="4.2"/><circle cx="570.6" cy="196.5" r="4.2"/><circle cx="579.8" cy="201.6" r="4.2"/><circle cx="501.4" cy="208.7" r="4.2"/><circle cx="515.6" cy="200.6" r="4.2"/><circle cx="523.8" cy="206.7" r="4.2"/><circle cx="514.6" cy="212.8" r="4.2"/><circle cx="531.9" cy="210.7" r="4.2"/><circle cx="546.2" cy="210.7" r="4.2"/><circle cx="562.5" cy="206.7" r="4.2"/><circle cx="577.8" cy="209.7" r="4.2"/><circle cx="507.5" cy="218.9" r="4.2"/><circle cx="518.7" cy="219.9" r="4.2"/><circle cx="539.1" cy="217.9" r="4.2"/><circle cx="562.5" cy="216.9" r="4.2"/><circle cx="571.7" cy="218.9" r="4.2"/><circle cx="629.9" cy="124.2" r="4.2"/><circle cx="603.4" cy="125.2" r="4.2"/><circle cx="609.5" cy="130.3" r="4.2"/><circle cx="646.2" cy="124.2" r="4.2"/><circle cx="651.3" cy="128.2" r="4.2"/><circle cx="657.4" cy="127.7" r="4.2"/><circle cx="598.3" cy="147.6" r="4.2"/><circle cx="589.2" cy="149.6" r="4.2"/><circle cx="610.6" cy="144.5" r="4.2"/><circle cx="615.6" cy="143.5" r="4.2"/><circle cx="611.6" cy="148.6" r="4.2"/><circle cx="595.3" cy="155.7" r="4.2"/><circle cx="602.4" cy="157.8" r="4.2"/><circle cx="590.2" cy="168" r="4.2"/><circle cx="597.3" cy="170" r="4.2"/><circle cx="612.6" cy="159.8" r="4.2"/><circle cx="610.6" cy="164.9" r="4.2"/><circle cx="615.6" cy="166.9" r="4.2"/><circle cx="592.2" cy="178.2" r="4.2"/><circle cx="608.5" cy="178.2" r="4.2"/><circle cx="591.2" cy="188.3" r="4.2"/><circle cx="650.3" cy="150.6" r="4.2"/><circle cx="657.4" cy="147.6" r="4.2"/><circle cx="640.1" cy="162.9" r="4.2"/><circle cx="641.1" cy="165.9" r="4.2"/><circle cx="649.3" cy="162.9" r="4.2"/><circle cx="658.4" cy="162.9" r="4.2"/><circle cx="665.6" cy="159.8" r="4.2"/><circle cx="629.9" cy="174.1" r="4.2"/><circle cx="625.3" cy="186.8" r="4.2"/><circle cx="636" cy="187.3" r="4.2"/><circle cx="621.8" cy="196.5" r="4.2"/><circle cx="605" cy="197.5" r="4.2"/><circle cx="650.3" cy="182.2" r="4.2"/><circle cx="656.4" cy="190.4" r="4.2"/><circle cx="667.1" cy="176.1" r="4.2"/><circle cx="666.6" cy="183.2" r="4.2"/><circle cx="669.6" cy="194.4" r="4.2"/><circle cx="590.2" cy="206.7" r="4.2"/><circle cx="596.3" cy="208.7" r="4.2"/><circle cx="588.1" cy="215.8" r="4.2"/><circle cx="612.6" cy="210.7" r="4.2"/><circle cx="615.6" cy="219.9" r="4.2"/><circle cx="629.9" cy="216.9" r="4.2"/><circle cx="681.9" cy="214.8" r="4.2"/><circle cx="423.8" cy="225.2" r="4.2"/><circle cx="386.1" cy="229.3" r="4.2"/><circle cx="439.1" cy="228.8" r="4.2"/><circle cx="443.2" cy="232.8" r="4.2"/><circle cx="447.8" cy="244" r="4.2"/><circle cx="458.5" cy="243" r="4.2"/><circle cx="393.8" cy="251.2" r="4.2"/><circle cx="401.9" cy="259.3" r="4.2"/><circle cx="426.4" cy="255.2" r="4.2"/><circle cx="434" cy="257.3" r="4.2"/><circle cx="404" cy="279.2" r="4.2"/><circle cx="419.3" cy="275.6" r="4.2"/><circle cx="431.5" cy="275.6" r="4.2"/><circle cx="391.8" cy="300" r="4.2"/><circle cx="483.9" cy="239.4" r="4.2"/><circle cx="473.2" cy="254.2" r="4.2"/><circle cx="482.4" cy="260.8" r="4.2"/><circle cx="472.2" cy="269.5" r="4.2"/><circle cx="453.4" cy="273.1" r="4.2"/><circle cx="458.5" cy="277.1" r="4.2"/><circle cx="435.5" cy="288.3" r="4.2"/><circle cx="443.2" cy="295.5" r="4.2"/><circle cx="464.1" cy="295" r="4.2"/><circle cx="467.6" cy="304.6" r="4.2"/><circle cx="474.8" cy="302.6" r="4.2"/><circle cx="433" cy="306.2" r="4.2"/><circle cx="444.7" cy="320" r="4.2"/><circle cx="471.7" cy="318.9" r="4.2"/><circle cx="492.7" cy="224.7" r="4.2"/><circle cx="518.7" cy="225.2" r="4.2"/><circle cx="510.6" cy="230.3" r="4.2"/><circle cx="525.8" cy="231.8" r="4.2"/><circle cx="544.2" cy="222.1" r="4.2"/><circle cx="537" cy="227.2" r="4.2"/><circle cx="533" cy="237.9" r="4.2"/><circle cx="543.7" cy="237.9" r="4.2"/><circle cx="537.5" cy="244.5" r="4.2"/><circle cx="568.6" cy="225.2" r="4.2"/><circle cx="559.4" cy="230.3" r="4.2"/><circle cx="563.5" cy="234.4" r="4.2"/><circle cx="558.4" cy="238.9" r="4.2"/><circle cx="490.2" cy="241.5" r="4.2"/><circle cx="501.4" cy="250.6" r="4.2"/><circle cx="505" cy="253.7" r="4.2"/><circle cx="508.5" cy="247.6" r="4.2"/><circle cx="512.6" cy="254.7" r="4.2"/><circle cx="500.4" cy="258.8" r="4.2"/><circle cx="506" cy="265.9" r="4.2"/><circle cx="523.8" cy="253.2" r="4.2"/><circle cx="520.7" cy="260.8" r="4.2"/><circle cx="530.9" cy="257.8" r="4.2"/><circle cx="535" cy="261.9" r="4.2"/><circle cx="537" cy="266.9" r="4.2"/><circle cx="543.7" cy="264.9" r="4.2"/><circle cx="523.8" cy="270" r="4.2"/><circle cx="522.8" cy="276.1" r="4.2"/><circle cx="529.9" cy="281.7" r="4.2"/><circle cx="525.3" cy="287.8" r="4.2"/><circle cx="545.2" cy="251.7" r="4.2"/><circle cx="556.4" cy="258.3" r="4.2"/><circle cx="565.6" cy="251.2" r="4.2"/><circle cx="571.7" cy="255.7" r="4.2"/><circle cx="578.8" cy="253.7" r="4.2"/><circle cx="584.9" cy="266.9" r="4.2"/><circle cx="490.2" cy="276.1" r="4.2"/><circle cx="488.7" cy="291.9" r="4.2"/><circle cx="566.6" cy="273.1" r="4.2"/><circle cx="558.4" cy="280.7" r="4.2"/><circle cx="548.2" cy="286.3" r="4.2"/><circle cx="557.4" cy="290.4" r="4.2"/><circle cx="566.6" cy="289.4" r="4.2"/><circle cx="490.2" cy="314.3" r="4.2"/><circle cx="515.1" cy="314.8" r="4.2"/><circle cx="531.4" cy="310.2" r="4.2"/><circle cx="553.3" cy="315.3" r="4.2"/><circle cx="542.6" cy="319.9" r="4.2"/><circle cx="584.9" cy="307.2" r="4.2"/><circle cx="629.9" cy="227.2" r="4.2"/><circle cx="647.7" cy="224.7" r="4.2"/><circle cx="663.5" cy="223.1" r="4.2"/><circle cx="596.3" cy="226.7" r="4.2"/><circle cx="587.1" cy="233.8" r="4.2"/><circle cx="603.4" cy="233.3" r="4.2"/><circle cx="606" cy="236.9" r="4.2"/><circle cx="612.1" cy="230.3" r="4.2"/><circle cx="651.3" cy="243" r="4.2"/><circle cx="607.5" cy="249.6" r="4.2"/><circle cx="610.6" cy="254.7" r="4.2"/><circle cx="615.1" cy="259.3" r="4.2"/><circle cx="644.2" cy="262.4" r="4.2"/><circle cx="592.2" cy="288.8" r="4.2"/><circle cx="629.9" cy="290.9" r="4.2"/><circle cx="630.4" cy="298" r="4.2"/><circle cx="647.7" cy="287.8" r="4.2"/><circle cx="591.2" cy="308.2" r="4.2"/><circle cx="682.9" cy="303.6" r="4.2"/><circle cx="507.5" cy="107.8" r="4.2"/><circle cx="525.8" cy="116.9" r="4.2"/><circle cx="492.2" cy="92.5" r="4.2"/><circle cx="504.4" cy="153.6" r="4.2"/><circle cx="515.1" cy="168.9" r="4.2"/><circle cx="547.2" cy="135.3" r="4.2"/><circle cx="541.1" cy="150.5" r="4.2"/><circle cx="461.7" cy="182.6" r="4.2"/><circle cx="452.5" cy="193.3" r="4.2"/><circle cx="435.7" cy="188.7" r="4.2"/><circle cx="391.4" cy="199.4" r="4.2"/><circle cx="406.7" cy="220.8" r="4.2"/><circle cx="440.3" cy="228.5" r="4.2"/><circle cx="506" cy="193.3" r="4.2"/><circle cx="557.9" cy="124.6" r="4.2"/><circle cx="553.3" cy="171.9" r="4.2"/><circle cx="556.4" cy="187.2" r="4.2"/><circle cx="541.1" cy="201" r="4.2"/><circle cx="608.3" cy="147.5" r="4.2"/><circle cx="590" cy="208.6" r="4.2"/><circle cx="605.3" cy="196.4" r="4.2"/><circle cx="504.4" cy="254.4" r="4.2"/><circle cx="544.2" cy="236.1" r="4.2"/></g><clipPath id="u0"><path d="M20 20H322.8L20 321Z"/></clipPath><clipPath id="l0"><path d="M322.8 20V321H20Z"/></clipPath><clipPath id="u1"><path d="M383.3 20H686.1L383.3 321Z"/></clipPath><clipPath id="l1"><path d="M686.1 20V321H383.3Z"/></clipPath><clipPath id="u2"><path d="M746.7 20H1049.5L746.7 321Z"/></clipPath><clipPath id="l2"><path d="M1049.5 20V321H746.7Z"/></clipPath><clipPath id="u3"><path d="M20 380.8H322.8L20 681.8Z"/></clipPath><clipPath id="l3"><path d="M322.8 380.8V681.8H20Z"/></clipPath><clipPath id="u4"><path d="M383.3 380.8H686.1L383.3 681.8Z"/></clipPath><clipPath id="l4"><path d="M686.1 380.8V681.8H383.3Z"/></clipPath><clipPath id="u5"><path d="M746.7 380.8H1049.5L746.7 681.8Z"/></clipPath><clipPath id="l5"><path d="M1049.5 380.8V681.8H746.7Z"/></clipPath><clipPath id="u6"><path d="M20 741.9H322.8L20 1042.9Z"/></clipPath><clipPath id="l6"><path d="M322.8 741.9V1042.9H20Z"/></clipPath><clipPath id="u7"><path d="M383.3 741.9H686.1L383.3 1042.9Z"/></clipPath><clipPath id="l7"><path d="M686.1 741.9V1042.9H383.3Z"/></clipPath><clipPath id="u8"><path d="M746.7 741.9H1049.5L746.7 1042.9Z"/></clipPath><clipPath id="l8"><path d="M1049.5 741.9V1042.9H746.7Z"/></clipPath></defs><rect width="1080" height="1092" fill="#fff"/><g clip-path="url(#u0)"><path d="M18 154.2 20.6 152.5 23.2 150.8 25.7 149 28.3 147.2 30.9 145.4 33.5 143.5 36 141.6 38.6 139.6 41.2 137.6 43.8 135.6 46.4 133.7 48.9 131.7 51.5 129.7 54.1 127.7 56.7 125.7 59.3 123.8 61.8 121.9 64.4 120 67 118.1 69.6 116.3 72.1 114.5 74.7 112.8 77.3 111.2 79.9 109.6 82.5 108 85 106.6 87.6 105.2 90.2 103.9 92.8 102.7 95.3 101.6 97.9 100.5 100.5 99.6 103.1 98.7 105.7 97.9 108.2 97.3 110.8 96.7 113.4 96.3 116 95.9 118.5 95.7 121.1 95.5 123.7 95.5 126.3 95.6 128.9 95.8 131.4 96.1 134 96.4 136.6 96.9 139.2 97.5 141.8 98.2 144.3 99 146.9 99.9 149.5 100.9 152.1 102 154.6 103.2 157.2 104.4 159.8 105.8 162.4 107.2 165 108.7 167.5 110.2 170.1 111.8 172.7 113.5 175.3 115.2 177.8 117 180.4 118.9 183 120.7 185.6 122.6 188.2 124.6 190.7 126.5 193.3 128.5 195.9 130.5 198.5 132.5 201 134.5 203.6 136.5 206.2 138.4 208.8 140.4 211.4 142.3 213.9 144.2 216.5 146.1 219.1 148 221.7 149.8 224.3 151.5 226.8 153.2 229.4 154.9 232 156.4 234.6 157.9 237.1 159.4 239.7 160.7 242.3 162 244.9 163.2 247.5 164.3 250 165.3 252.6 166.3 255.2 167.1 257.8 167.8 260.3 168.5 262.9 169 265.5 169.4 268.1 169.7 270.7 169.9 273.2 170.1 275.8 170.1 278.4 170 281 169.7 283.5 169.4 286.1 169 288.7 168.5 291.3 167.9 293.9 167.1 296.4 166.3 299 165.4 301.6 164.4 304.2 163.3 306.8 162.1 309.3 160.8 311.9 159.4 314.5 158 317.1 156.5 319.6 154.9 322.2 153.3 324.8 151.6 324.8 225.8 322.2 227.5 319.6 229.1 317.1 230.7 314.5 232.2 311.9 233.6 309.3 235 306.8 236.3 304.2 237.5 301.6 238.6 299 239.6 296.4 240.5 293.9 241.3 291.3 242.1 288.7 242.7 286.1 243.2 283.5 243.6 281 243.9 278.4 244.2 275.8 244.3 273.2 244.3 270.7 244.1 268.1 243.9 265.5 243.6 262.9 243.2 260.3 242.7 257.8 242 255.2 241.3 252.6 240.5 250 239.5 247.5 238.5 244.9 237.4 242.3 236.2 239.7 234.9 237.1 233.6 234.6 232.1 232 230.6 229.4 229.1 226.8 227.4 224.3 225.7 221.7 224 219.1 222.2 216.5 220.3 213.9 218.4 211.4 216.5 208.8 214.6 206.2 212.6 203.6 210.7 201 208.7 198.5 206.7 195.9 204.7 193.3 202.7 190.7 200.7 188.2 198.8 185.6 196.8 183 194.9 180.4 193.1 177.8 191.2 175.3 189.4 172.7 187.7 170.1 186 167.5 184.4 165 182.9 162.4 181.4 159.8 180 157.2 178.6 154.6 177.4 152.1 176.2 149.5 175.1 146.9 174.1 144.3 173.2 141.8 172.4 139.2 171.7 136.6 171.1 134 170.6 131.4 170.3 128.9 170 126.3 169.8 123.7 169.7 121.1 169.7 118.5 169.9 116 170.1 113.4 170.5 110.8 170.9 108.2 171.5 105.7 172.1 103.1 172.9 100.5 173.8 97.9 174.7 95.3 175.8 92.8 176.9 90.2 178.1 87.6 179.4 85 180.8 82.5 182.2 79.9 183.8 77.3 185.4 74.7 187 72.1 188.7 69.6 190.5 67 192.3 64.4 194.2 61.8 196.1 59.3 198 56.7 199.9 54.1 201.9 51.5 203.9 48.9 205.9 46.4 207.9 43.8 209.8 41.2 211.8 38.6 213.8 36 215.8 33.5 217.7 30.9 219.6 28.3 221.4 25.7 223.2 23.2 225 20.6 226.7 18 228.4Z" fill="#d5d5d5"/><path d="M18 191.3 20.6 189.6 23.2 187.9 25.7 186.1 28.3 184.3 30.9 182.5 33.5 180.6 36 178.7 38.6 176.7 41.2 174.7 43.8 172.7 46.4 170.8 48.9 168.8 51.5 166.8 54.1 164.8 56.7 162.8 59.3 160.9 61.8 159 64.4 157.1 67 155.2 69.6 153.4 72.1 151.6 74.7 149.9 77.3 148.3 79.9 146.7 82.5 145.1 85 143.7 87.6 142.3 90.2 141 92.8 139.8 95.3 138.7 97.9 137.6 100.5 136.7 103.1 135.8 105.7 135 108.2 134.4 110.8 133.8 113.4 133.4 116 133 118.5 132.8 121.1 132.6 123.7 132.6 126.3 132.7 128.9 132.9 131.4 133.2 134 133.5 136.6 134 139.2 134.6 141.8 135.3 144.3 136.1 146.9 137 149.5 138 152.1 139.1 154.6 140.3 157.2 141.5 159.8 142.9 162.4 144.3 165 145.8 167.5 147.3 170.1 148.9 172.7 150.6 175.3 152.3 177.8 154.1 180.4 156 183 157.8 185.6 159.7 188.2 161.7 190.7 163.6 193.3 165.6 195.9 167.6 198.5 169.6 201 171.6 203.6 173.6 206.2 175.5 208.8 177.5 211.4 179.4 213.9 181.3 216.5 183.2 219.1 185.1 221.7 186.9 224.3 188.6 226.8 190.3 229.4 192 232 193.5 234.6 195 237.1 196.5 239.7 197.8 242.3 199.1 244.9 200.3 247.5 201.4 250 202.4 252.6 203.4 255.2 204.2 257.8 204.9 260.3 205.6 262.9 206.1 265.5 206.5 268.1 206.8 270.7 207 273.2 207.2 275.8 207.2 278.4 207.1 281 206.8 283.5 206.5 286.1 206.1 288.7 205.6 291.3 205 293.9 204.2 296.4 203.4 299 202.5 301.6 201.5 304.2 200.4 306.8 199.2 309.3 197.9 311.9 196.5 314.5 195.1 317.1 193.6 319.6 192 322.2 190.4 324.8 188.7" fill="none" stroke="#000" stroke-width="3.9"/></g><g clip-path="url(#l0)"><path d="M18 154.2 20.6 152.5 23.2 150.8 25.7 149 28.3 147.2 30.9 145.4 33.5 143.5 36 141.6 38.6 139.6 41.2 137.6 43.8 135.6 46.4 133.7 48.9 131.7 51.5 129.7 54.1 127.7 56.7 125.7 59.3 123.8 61.8 121.9 64.4 120 67 118.1 69.6 116.3 72.1 114.5 74.7 112.8 77.3 111.2 79.9 109.6 82.5 108 85 106.6 87.6 105.2 90.2 103.9 92.8 102.7 95.3 101.6 97.9 100.5 100.5 99.6 103.1 98.7 105.7 97.9 108.2 97.3 110.8 96.7 113.4 96.3 116 95.9 118.5 95.7 121.1 95.5 123.7 95.5 126.3 95.6 128.9 95.8 131.4 96.1 134 96.4 136.6 96.9 139.2 97.5 141.8 98.2 144.3 99 146.9 99.9 149.5 100.9 152.1 102 154.6 103.2 157.2 104.4 159.8 105.8 162.4 107.2 165 108.7 167.5 110.2 170.1 111.8 172.7 113.5 175.3 115.2 177.8 117 180.4 118.9 183 120.7 185.6 122.6 188.2 124.6 190.7 126.5 193.3 128.5 195.9 130.5 198.5 132.5 201 134.5 203.6 136.5 206.2 138.4 208.8 140.4 211.4 142.3 213.9 144.2 216.5 146.1 219.1 148 221.7 149.8 224.3 151.5 226.8 153.2 229.4 154.9 232 156.4 234.6 157.9 237.1 159.4 239.7 160.7 242.3 162 244.9 163.2 247.5 164.3 250 165.3 252.6 166.3 255.2 167.1 257.8 167.8 260.3 168.5 262.9 169 265.5 169.4 268.1 169.7 270.7 169.9 273.2 170.1 275.8 170.1 278.4 170 281 169.7 283.5 169.4 286.1 169 288.7 168.5 291.3 167.9 293.9 167.1 296.4 166.3 299 165.4 301.6 164.4 304.2 163.3 306.8 162.1 309.3 160.8 311.9 159.4 314.5 158 317.1 156.5 319.6 154.9 322.2 153.3 324.8 151.6 324.8 225.8 322.2 227.5 319.6 229.1 317.1 230.7 314.5 232.2 311.9 233.6 309.3 235 306.8 236.3 304.2 237.5 301.6 238.6 299 239.6 296.4 240.5 293.9 241.3 291.3 242.1 288.7 242.7 286.1 243.2 283.5 243.6 281 243.9 278.4 244.2 275.8 244.3 273.2 244.3 270.7 244.1 268.1 243.9 265.5 243.6 262.9 243.2 260.3 242.7 257.8 242 255.2 241.3 252.6 240.5 250 239.5 247.5 238.5 244.9 237.4 242.3 236.2 239.7 234.9 237.1 233.6 234.6 232.1 232 230.6 229.4 229.1 226.8 227.4 224.3 225.7 221.7 224 219.1 222.2 216.5 220.3 213.9 218.4 211.4 216.5 208.8 214.6 206.2 212.6 203.6 210.7 201 208.7 198.5 206.7 195.9 204.7 193.3 202.7 190.7 200.7 188.2 198.8 185.6 196.8 183 194.9 180.4 193.1 177.8 191.2 175.3 189.4 172.7 187.7 170.1 186 167.5 184.4 165 182.9 162.4 181.4 159.8 180 157.2 178.6 154.6 177.4 152.1 176.2 149.5 175.1 146.9 174.1 144.3 173.2 141.8 172.4 139.2 171.7 136.6 171.1 134 170.6 131.4 170.3 128.9 170 126.3 169.8 123.7 169.7 121.1 169.7 118.5 169.9 116 170.1 113.4 170.5 110.8 170.9 108.2 171.5 105.7 172.1 103.1 172.9 100.5 173.8 97.9 174.7 95.3 175.8 92.8 176.9 90.2 178.1 87.6 179.4 85 180.8 82.5 182.2 79.9 183.8 77.3 185.4 74.7 187 72.1 188.7 69.6 190.5 67 192.3 64.4 194.2 61.8 196.1 59.3 198 56.7 199.9 54.1 201.9 51.5 203.9 48.9 205.9 46.4 207.9 43.8 209.8 41.2 211.8 38.6 213.8 36 215.8 33.5 217.7 30.9 219.6 28.3 221.4 25.7 223.2 23.2 225 20.6 226.7 18 228.4Z" fill="#fcdfdc"/><path d="M18 191.3 20.6 189.6 23.2 187.9 25.7 186.1 28.3 184.3 30.9 182.5 33.5 180.6 36 178.7 38.6 176.7 41.2 174.7 43.8 172.7 46.4 170.8 48.9 168.8 51.5 166.8 54.1 164.8 56.7 162.8 59.3 160.9 61.8 159 64.4 157.1 67 155.2 69.6 153.4 72.1 151.6 74.7 149.9 77.3 148.3 79.9 146.7 82.5 145.1 85 143.7 87.6 142.3 90.2 141 92.8 139.8 95.3 138.7 97.9 137.6 100.5 136.7 103.1 135.8 105.7 135 108.2 134.4 110.8 133.8 113.4 133.4 116 133 118.5 132.8 121.1 132.6 123.7 132.6 126.3 132.7 128.9 132.9 131.4 133.2 134 133.5 136.6 134 139.2 134.6 141.8 135.3 144.3 136.1 146.9 137 149.5 138 152.1 139.1 154.6 140.3 157.2 141.5 159.8 142.9 162.4 144.3 165 145.8 167.5 147.3 170.1 148.9 172.7 150.6 175.3 152.3 177.8 154.1 180.4 156 183 157.8 185.6 159.7 188.2 161.7 190.7 163.6 193.3 165.6 195.9 167.6 198.5 169.6 201 171.6 203.6 173.6 206.2 175.5 208.8 177.5 211.4 179.4 213.9 181.3 216.5 183.2 219.1 185.1 221.7 186.9 224.3 188.6 226.8 190.3 229.4 192 232 193.5 234.6 195 237.1 196.5 239.7 197.8 242.3 199.1 244.9 200.3 247.5 201.4 250 202.4 252.6 203.4 255.2 204.2 257.8 204.9 260.3 205.6 262.9 206.1 265.5 206.5 268.1 206.8 270.7 207 273.2 207.2 275.8 207.2 278.4 207.1 281 206.8 283.5 206.5 286.1 206.1 288.7 205.6 291.3 205 293.9 204.2 296.4 203.4 299 202.5 301.6 201.5 304.2 200.4 306.8 199.2 309.3 197.9 311.9 196.5 314.5 195.1 317.1 193.6 319.6 192 322.2 190.4 324.8 188.7" fill="none" stroke="#e8372a" stroke-width="3.9"/></g><path d="M20 321L322.8 20" stroke="#000" stroke-width="1.1"/><rect x="20" y="20" width="302.8" height="301" fill="none" stroke="#000" stroke-width="1.9"/><text x="171.4" y="347.4" text-anchor="middle" textLength="99.6" lengthAdjust="spacingAndGlyphs">Line plot</text><g clip-path="url(#u1)"><use href="#scr" fill="#606060"/><use href="#scw" fill="#fff"/><use href="#scc" fill="#000" fill-opacity="0.5"/></g><g clip-path="url(#l1)"><use href="#scr" fill="#606060"/><use href="#scw" fill="#fff"/><use href="#scc" fill="#e01810" fill-opacity="0.5"/></g><path d="M383.3 321L686.1 20" stroke="#000" stroke-width="1.1"/><rect x="383.3" y="20" width="302.8" height="301" fill="none" stroke="#000" stroke-width="1.9"/><text x="534.7" y="347.4" text-anchor="middle" textLength="135.0" lengthAdjust="spacingAndGlyphs">Scatter plot</text><g clip-path="url(#u2)"><path d="M757.4 78.1h15V168.6h-15ZM775.2 121.1h15V168.6h-15ZM793 119h15V168.6h-15ZM810.8 85.5h15V168.6h-15ZM828.6 80.2h15V168.6h-15ZM846.4 70.7h15V168.6h-15ZM864.2 116.3h15V168.6h-15ZM882 101.2h15V168.6h-15ZM899.8 128.8h15V168.6h-15ZM917.6 110.7h15V168.6h-15ZM935.4 123.1h15V168.6h-15ZM953.2 118.7h15V168.6h-15ZM971 92h15V168.6h-15ZM988.8 93.5h15V168.6h-15ZM1006.6 100.9h15V168.6h-15ZM1024.4 135.6h15V168.6h-15Z" fill="#cbcbcb"/><path d="M757.4 171.4h15V227.7h-15ZM775.2 171.4h15V275.7h-15ZM793 171.4h15V238.1h-15ZM810.8 171.4h15V249.1h-15ZM828.6 171.4h15V205.5h-15ZM846.4 171.4h15V239.3h-15ZM864.2 171.4h15V250h-15ZM882 171.4h15V206.1h-15ZM899.8 171.4h15V209.4h-15ZM917.6 171.4h15V224.8h-15ZM935.4 171.4h15V260.6h-15ZM953.2 171.4h15V215.6h-15ZM971 171.4h15V200.8h-15ZM988.8 171.4h15V247.3h-15ZM1006.6 171.4h15V248.2h-15ZM1024.4 171.4h15V228.6h-15Z" fill="#999999"/></g><g clip-path="url(#l2)"><path d="M757.4 78.1h15V168.6h-15ZM775.2 121.1h15V168.6h-15ZM793 119h15V168.6h-15ZM810.8 85.5h15V168.6h-15ZM828.6 80.2h15V168.6h-15ZM846.4 70.7h15V168.6h-15ZM864.2 116.3h15V168.6h-15ZM882 101.2h15V168.6h-15ZM899.8 128.8h15V168.6h-15ZM917.6 110.7h15V168.6h-15ZM935.4 123.1h15V168.6h-15ZM953.2 118.7h15V168.6h-15ZM971 92h15V168.6h-15ZM988.8 93.5h15V168.6h-15ZM1006.6 100.9h15V168.6h-15ZM1024.4 135.6h15V168.6h-15Z" fill="#f3a6a3"/><path d="M757.4 171.4h15V227.7h-15ZM775.2 171.4h15V275.7h-15ZM793 171.4h15V238.1h-15ZM810.8 171.4h15V249.1h-15ZM828.6 171.4h15V205.5h-15ZM846.4 171.4h15V239.3h-15ZM864.2 171.4h15V250h-15ZM882 171.4h15V206.1h-15ZM899.8 171.4h15V209.4h-15ZM917.6 171.4h15V224.8h-15ZM935.4 171.4h15V260.6h-15ZM953.2 171.4h15V215.6h-15ZM971 171.4h15V200.8h-15ZM988.8 171.4h15V247.3h-15ZM1006.6 171.4h15V248.2h-15ZM1024.4 171.4h15V228.6h-15Z" fill="#ef7b77"/></g><path d="M746.7 321L1049.5 20" stroke="#000" stroke-width="1.1"/><rect x="746.7" y="20" width="302.8" height="301" fill="none" stroke="#000" stroke-width="1.9"/><text x="898.1" y="347.4" text-anchor="middle" textLength="91.4" lengthAdjust="spacingAndGlyphs">Bar plot</text><g clip-path="url(#u3)"><g shape-rendering="crispEdges"><path d="M20 380.8h302.8v9.4h-302.8ZM20 390.2h123v9.4h-123ZM199.8 390.2h123v9.4h-123ZM20 399.6h94.6v9.4h-94.6ZM218.7 399.6h104.1v9.4h-104.1ZM20 409h75.7v9.4h-75.7ZM237.6 409h18.9v9.4h-18.9ZM284.9 409h37.9v9.4h-37.9ZM20 418.4h56.8v9.4h-56.8ZM237.6 418.4h18.9v9.4h-18.9ZM303.9 418.4h18.9v9.4h-18.9ZM20 427.8h37.9v9.4h-37.9ZM237.6 427.8h9.5v9.4h-9.5ZM313.3 427.8h9.5v9.4h-9.5ZM20 437.2h28.4v9.4h-28.4ZM20 446.6h18.9v9.4h-18.9ZM20 456.1h9.5v9.4h-9.5ZM133.6 474.9h9.5v9.4h-9.5ZM20 587.7h9.5v9.4h-9.5ZM20 597.1h9.5v9.4h-9.5ZM20 606.5h18.9v9.4h-18.9ZM95.7 606.5h9.5v9.4h-9.5ZM20 616h28.4v9.4h-28.4ZM20 625.4h47.3v9.4h-47.3ZM76.8 625.4h18.9v9.4h-18.9ZM313.3 625.4h9.5v9.4h-9.5ZM20 634.8h75.7v9.4h-75.7ZM303.9 634.8h18.9v9.4h-18.9ZM20 644.2h66.2v9.4h-66.2ZM294.4 644.2h28.4v9.4h-28.4ZM20 653.6h75.7v9.4h-75.7ZM275.5 653.6h47.3v9.4h-47.3ZM20 663h75.7v9.4h-75.7ZM256.6 663h66.2v9.4h-66.2ZM20 672.4h85.2v9.4h-85.2ZM237.6 672.4h85.2v9.4h-85.2Z" fill="#646464"/><path d="M143 390.2h56.8v9.4h-56.8ZM114.6 399.6h28.4v9.4h-28.4ZM199.8 399.6h18.9v9.4h-18.9ZM95.7 409h18.9v9.4h-18.9ZM218.7 409h18.9v9.4h-18.9ZM76.8 418.4h18.9v9.4h-18.9ZM228.2 418.4h9.5v9.4h-9.5ZM57.9 427.8h18.9v9.4h-18.9ZM48.4 437.2h9.5v9.4h-9.5ZM38.9 446.6h9.5v9.4h-9.5ZM228.2 446.6h9.5v9.4h-9.5ZM29.5 456.1h9.5v9.4h-9.5ZM20 465.5h9.5v9.4h-9.5ZM218.7 465.5h9.5v9.4h-9.5ZM20 474.9h9.5v9.4h-9.5ZM20 578.3h9.5v9.4h-9.5ZM29.5 597.1h9.5v9.4h-9.5ZM38.9 606.5h9.5v9.4h-9.5ZM48.4 616h18.9v9.4h-18.9ZM86.2 616h9.5v9.4h-9.5ZM67.3 625.4h9.5v9.4h-9.5Z" fill="#636363"/><path d="M143 399.6h56.8v9.4h-56.8ZM114.6 409h18.9v9.4h-18.9ZM209.2 409h9.5v9.4h-9.5ZM95.7 418.4h18.9v9.4h-18.9ZM76.8 427.8h9.5v9.4h-9.5ZM228.2 427.8h9.5v9.4h-9.5ZM57.9 437.2h9.5v9.4h-9.5ZM228.2 437.2h9.5v9.4h-9.5ZM48.4 446.6h9.5v9.4h-9.5ZM38.9 456.1h9.5v9.4h-9.5ZM29.5 465.5h9.5v9.4h-9.5ZM152.5 474.9h9.5v9.4h-9.5ZM20 484.3h9.5v9.4h-9.5ZM20 493.7h9.5v9.4h-9.5ZM20 559.5h9.5v9.4h-9.5ZM20 568.9h9.5v9.4h-9.5ZM29.5 587.7h9.5v9.4h-9.5ZM38.9 597.1h9.5v9.4h-9.5ZM48.4 606.5h9.5v9.4h-9.5ZM67.3 616h18.9v9.4h-18.9Z" fill="#626262"/><path d="M133.6 409h9.5v9.4h-9.5ZM199.8 409h9.5v9.4h-9.5ZM114.6 418.4h9.5v9.4h-9.5ZM218.7 418.4h9.5v9.4h-9.5ZM86.2 427.8h18.9v9.4h-18.9ZM67.3 437.2h9.5v9.4h-9.5ZM29.5 474.9h9.5v9.4h-9.5ZM209.2 474.9h9.5v9.4h-9.5ZM20 503.1h9.5v9.4h-9.5ZM20 550.1h9.5v9.4h-9.5ZM29.5 578.3h9.5v9.4h-9.5ZM105.2 578.3h9.5v9.4h-9.5ZM38.9 587.7h9.5v9.4h-9.5ZM95.7 597.1h9.5v9.4h-9.5ZM57.9 606.5h9.5v9.4h-9.5ZM86.2 606.5h9.5v9.4h-9.5Z" fill="#616161"/><path d="M143 409h9.5v9.4h-9.5ZM190.3 409h9.5v9.4h-9.5ZM209.2 418.4h9.5v9.4h-9.5ZM105.2 427.8h9.5v9.4h-9.5ZM76.8 437.2h9.5v9.4h-9.5ZM57.9 446.6h9.5v9.4h-9.5ZM48.4 456.1h9.5v9.4h-9.5ZM38.9 465.5h9.5v9.4h-9.5ZM29.5 484.3h9.5v9.4h-9.5ZM114.6 493.7h9.5v9.4h-9.5ZM20 512.5h9.5v9.4h-9.5ZM20 521.9h9.5v9.4h-9.5ZM20 531.3h9.5v9.4h-9.5ZM20 540.7h9.5v9.4h-9.5ZM29.5 568.9h9.5v9.4h-9.5ZM48.4 597.1h9.5v9.4h-9.5ZM67.3 606.5h9.5v9.4h-9.5Z" fill="#606060"/><path d="M152.5 409h37.9v9.4h-37.9ZM124.1 418.4h9.5v9.4h-9.5ZM218.7 427.8h9.5v9.4h-9.5ZM86.2 437.2h9.5v9.4h-9.5ZM76.8 606.5h9.5v9.4h-9.5Z" fill="#5f5f5f"/><path d="M256.6 409h28.4v9.4h-28.4ZM256.6 418.4h47.3v9.4h-47.3ZM247.1 427.8h66.2v9.4h-66.2ZM237.6 437.2h9.5v9.4h-9.5ZM294.4 437.2h28.4v9.4h-28.4ZM303.9 446.6h18.9v9.4h-18.9ZM313.3 456.1h9.5v9.4h-9.5ZM313.3 465.5h9.5v9.4h-9.5ZM143 474.9h9.5v9.4h-9.5ZM313.3 587.7h9.5v9.4h-9.5ZM313.3 597.1h9.5v9.4h-9.5ZM303.9 606.5h18.9v9.4h-18.9ZM95.7 616h9.5v9.4h-9.5ZM294.4 616h28.4v9.4h-28.4ZM95.7 625.4h9.5v9.4h-9.5ZM275.5 625.4h37.9v9.4h-37.9ZM95.7 634.8h9.5v9.4h-9.5ZM266 634.8h37.9v9.4h-37.9ZM86.2 644.2h18.9v9.4h-18.9ZM237.6 644.2h56.8v9.4h-56.8ZM95.7 653.6h28.4v9.4h-28.4ZM218.7 653.6h56.8v9.4h-56.8ZM95.7 663h56.8v9.4h-56.8ZM190.3 663h66.2v9.4h-66.2ZM105.2 672.4h132.5v9.4h-132.5Z" fill="#656565"/><path d="M133.6 418.4h9.5v9.4h-9.5ZM199.8 418.4h9.5v9.4h-9.5ZM114.6 427.8h9.5v9.4h-9.5ZM95.7 437.2h9.5v9.4h-9.5ZM67.3 446.6h9.5v9.4h-9.5ZM38.9 474.9h9.5v9.4h-9.5ZM124.1 474.9h9.5v9.4h-9.5ZM29.5 493.7h9.5v9.4h-9.5ZM29.5 559.5h9.5v9.4h-9.5ZM38.9 578.3h9.5v9.4h-9.5ZM48.4 587.7h9.5v9.4h-9.5ZM57.9 597.1h9.5v9.4h-9.5Z" fill="#5e5e5e"/><path d="M143 418.4h9.5v9.4h-9.5ZM190.3 418.4h9.5v9.4h-9.5ZM124.1 427.8h9.5v9.4h-9.5ZM209.2 427.8h9.5v9.4h-9.5ZM105.2 437.2h9.5v9.4h-9.5ZM76.8 446.6h9.5v9.4h-9.5ZM218.7 446.6h9.5v9.4h-9.5ZM29.5 512.5h9.5v9.4h-9.5ZM29.5 540.7h9.5v9.4h-9.5ZM67.3 597.1h9.5v9.4h-9.5ZM86.2 597.1h9.5v9.4h-9.5Z" fill="#5c5c5c"/><path d="M152.5 418.4h9.5v9.4h-9.5ZM180.9 418.4h9.5v9.4h-9.5ZM114.6 437.2h9.5v9.4h-9.5ZM86.2 446.6h9.5v9.4h-9.5ZM38.9 484.3h9.5v9.4h-9.5ZM29.5 521.9h9.5v9.4h-9.5ZM29.5 531.3h9.5v9.4h-9.5ZM38.9 568.9h9.5v9.4h-9.5ZM76.8 597.1h9.5v9.4h-9.5Z" fill="#5b5b5b"/><path d="M161.9 418.4h18.9v9.4h-18.9ZM133.6 427.8h9.5v9.4h-9.5ZM67.3 456.1h9.5v9.4h-9.5ZM48.4 578.3h9.5v9.4h-9.5ZM57.9 587.7h9.5v9.4h-9.5ZM95.7 587.7h9.5v9.4h-9.5Z" fill="#5a5a5a"/><path d="M143 427.8h9.5v9.4h-9.5ZM114.6 446.6h9.5v9.4h-9.5ZM76.8 456.1h9.5v9.4h-9.5ZM209.2 465.5h9.5v9.4h-9.5Z" fill="#575757"/><path d="M152.5 427.8h9.5v9.4h-9.5ZM209.2 446.6h9.5v9.4h-9.5ZM124.1 465.5h18.9v9.4h-18.9ZM180.9 474.9h9.5v9.4h-9.5ZM38.9 503.1h9.5v9.4h-9.5ZM38.9 550.1h9.5v9.4h-9.5ZM67.3 587.7h9.5v9.4h-9.5Z" fill="#555555"/><path d="M161.9 427.8h18.9v9.4h-18.9ZM199.8 437.2h9.5v9.4h-9.5ZM95.7 456.1h18.9v9.4h-18.9ZM67.3 465.5h9.5v9.4h-9.5ZM38.9 512.5h9.5v9.4h-9.5ZM38.9 540.7h9.5v9.4h-9.5ZM57.9 578.3h9.5v9.4h-9.5ZM76.8 587.7h9.5v9.4h-9.5Z" fill="#535353"/><path d="M180.9 427.8h9.5v9.4h-9.5ZM133.6 437.2h9.5v9.4h-9.5ZM124.1 446.6h9.5v9.4h-9.5ZM86.2 456.1h9.5v9.4h-9.5ZM114.6 456.1h9.5v9.4h-9.5ZM209.2 456.1h9.5v9.4h-9.5ZM114.6 474.9h9.5v9.4h-9.5ZM190.3 474.9h9.5v9.4h-9.5ZM48.4 484.3h9.5v9.4h-9.5ZM48.4 568.9h9.5v9.4h-9.5ZM86.2 587.7h9.5v9.4h-9.5Z" fill="#545454"/><path d="M190.3 427.8h9.5v9.4h-9.5Z" fill="#565656"/><path d="M199.8 427.8h9.5v9.4h-9.5ZM95.7 446.6h9.5v9.4h-9.5ZM57.9 465.5h9.5v9.4h-9.5ZM48.4 474.9h9.5v9.4h-9.5ZM114.6 484.3h9.5v9.4h-9.5Z" fill="#595959"/><path d="M124.1 437.2h9.5v9.4h-9.5ZM209.2 437.2h9.5v9.4h-9.5ZM105.2 446.6h9.5v9.4h-9.5ZM171.4 474.9h9.5v9.4h-9.5ZM199.8 474.9h9.5v9.4h-9.5ZM38.9 493.7h9.5v9.4h-9.5ZM38.9 559.5h9.5v9.4h-9.5ZM105.2 568.9h9.5v9.4h-9.5Z" fill="#585858"/><path d="M143 437.2h9.5v9.4h-9.5ZM133.6 446.6h9.5v9.4h-9.5ZM95.7 578.3h9.5v9.4h-9.5Z" fill="#505050"/><path d="M152.5 437.2h9.5v9.4h-9.5ZM152.5 465.5h9.5v9.4h-9.5ZM105.2 559.5h9.5v9.4h-9.5Z" fill="#4d4d4d"/><path d="M161.9 437.2h9.5v9.4h-9.5ZM143 446.6h9.5v9.4h-9.5ZM199.8 456.1h9.5v9.4h-9.5ZM57.9 568.9h9.5v9.4h-9.5Z" fill="#4b4b4b"/><path d="M171.4 437.2h9.5v9.4h-9.5ZM143 456.1h9.5v9.4h-9.5ZM67.3 474.9h9.5v9.4h-9.5ZM105.2 474.9h9.5v9.4h-9.5ZM57.9 484.3h9.5v9.4h-9.5Z" fill="#4a4a4a"/><path d="M180.9 437.2h9.5v9.4h-9.5ZM86.2 465.5h18.9v9.4h-18.9ZM67.3 578.3h9.5v9.4h-9.5Z" fill="#4c4c4c"/><path d="M190.3 437.2h9.5v9.4h-9.5ZM133.6 456.1h9.5v9.4h-9.5ZM76.8 465.5h9.5v9.4h-9.5ZM48.4 493.7h9.5v9.4h-9.5ZM48.4 559.5h9.5v9.4h-9.5Z" fill="#4f4f4f"/><path d="M218.7 437.2h9.5v9.4h-9.5ZM57.9 456.1h9.5v9.4h-9.5ZM218.7 456.1h9.5v9.4h-9.5ZM48.4 465.5h9.5v9.4h-9.5ZM161.9 474.9h9.5v9.4h-9.5ZM29.5 503.1h9.5v9.4h-9.5ZM29.5 550.1h9.5v9.4h-9.5Z" fill="#5d5d5d"/><path d="M247.1 437.2h9.5v9.4h-9.5ZM275.5 437.2h18.9v9.4h-18.9ZM294.4 446.6h9.5v9.4h-9.5ZM228.2 456.1h9.5v9.4h-9.5ZM303.9 456.1h9.5v9.4h-9.5ZM303.9 465.5h9.5v9.4h-9.5ZM313.3 474.9h9.5v9.4h-9.5ZM313.3 484.3h9.5v9.4h-9.5ZM114.6 503.1h9.5v9.4h-9.5ZM313.3 568.9h9.5v9.4h-9.5ZM313.3 578.3h9.5v9.4h-9.5ZM303.9 587.7h9.5v9.4h-9.5ZM303.9 597.1h9.5v9.4h-9.5ZM294.4 606.5h9.5v9.4h-9.5ZM284.9 616h9.5v9.4h-9.5ZM266 625.4h9.5v9.4h-9.5ZM105.2 634.8h9.5v9.4h-9.5ZM247.1 634.8h18.9v9.4h-18.9ZM105.2 644.2h18.9v9.4h-18.9ZM228.2 644.2h9.5v9.4h-9.5ZM124.1 653.6h18.9v9.4h-18.9ZM199.8 653.6h18.9v9.4h-18.9ZM152.5 663h37.9v9.4h-37.9Z" fill="#666666"/><path d="M256.6 437.2h18.9v9.4h-18.9ZM237.6 446.6h9.5v9.4h-9.5ZM284.9 446.6h9.5v9.4h-9.5ZM294.4 456.1h9.5v9.4h-9.5ZM313.3 493.7h9.5v9.4h-9.5ZM313.3 559.5h9.5v9.4h-9.5ZM105.2 587.7h9.5v9.4h-9.5ZM294.4 597.1h9.5v9.4h-9.5ZM284.9 606.5h9.5v9.4h-9.5ZM275.5 616h9.5v9.4h-9.5ZM256.6 625.4h9.5v9.4h-9.5ZM237.6 634.8h9.5v9.4h-9.5ZM124.1 644.2h9.5v9.4h-9.5ZM209.2 644.2h18.9v9.4h-18.9ZM143 653.6h56.8v9.4h-56.8Z" fill="#676767"/><path d="M152.5 446.6h9.5v9.4h-9.5Z" fill="#464646"/><path d="M161.9 446.6h9.5v9.4h-9.5ZM76.8 474.9h9.5v9.4h-9.5Z" fill="#434343"/><path d="M171.4 446.6h9.5v9.4h-9.5ZM95.7 474.9h9.5v9.4h-9.5ZM48.4 521.9h9.5v9.4h-9.5ZM48.4 531.3h9.5v9.4h-9.5ZM105.2 550.1h9.5v9.4h-9.5ZM57.9 559.5h9.5v9.4h-9.5ZM95.7 568.9h9.5v9.4h-9.5Z" fill="#424242"/><path d="M180.9 446.6h9.5v9.4h-9.5ZM190.3 456.1h9.5v9.4h-9.5Z" fill="#444444"/><path d="M190.3 446.6h9.5v9.4h-9.5ZM161.9 465.5h9.5v9.4h-9.5ZM86.2 578.3h9.5v9.4h-9.5Z" fill="#484848"/><path d="M199.8 446.6h9.5v9.4h-9.5ZM105.2 465.5h9.5v9.4h-9.5ZM199.8 465.5h9.5v9.4h-9.5Z" fill="#4e4e4e"/><path d="M247.1 446.6h18.9v9.4h-18.9ZM105.2 597.1h9.5v9.4h-9.5ZM105.2 606.5h9.5v9.4h-9.5ZM228.2 625.4h9.5v9.4h-9.5ZM124.1 634.8h9.5v9.4h-9.5ZM209.2 634.8h9.5v9.4h-9.5ZM143 644.2h18.9v9.4h-18.9ZM180.9 644.2h9.5v9.4h-9.5Z" fill="#6a6a6a"/><path d="M266 446.6h9.5v9.4h-9.5ZM284.9 456.1h9.5v9.4h-9.5ZM303.9 484.3h9.5v9.4h-9.5ZM313.3 521.9h9.5v9.4h-9.5ZM313.3 531.3h9.5v9.4h-9.5ZM303.9 568.9h9.5v9.4h-9.5ZM284.9 597.1h9.5v9.4h-9.5ZM275.5 606.5h9.5v9.4h-9.5ZM105.2 616h9.5v9.4h-9.5ZM256.6 616h9.5v9.4h-9.5ZM237.6 625.4h9.5v9.4h-9.5ZM218.7 634.8h9.5v9.4h-9.5ZM133.6 644.2h9.5v9.4h-9.5ZM190.3 644.2h9.5v9.4h-9.5Z" fill="#696969"/><path d="M275.5 446.6h9.5v9.4h-9.5ZM294.4 465.5h9.5v9.4h-9.5ZM303.9 474.9h9.5v9.4h-9.5ZM313.3 503.1h9.5v9.4h-9.5ZM313.3 512.5h9.5v9.4h-9.5ZM313.3 540.7h9.5v9.4h-9.5ZM313.3 550.1h9.5v9.4h-9.5ZM303.9 578.3h9.5v9.4h-9.5ZM294.4 587.7h9.5v9.4h-9.5ZM266 616h9.5v9.4h-9.5ZM105.2 625.4h9.5v9.4h-9.5ZM247.1 625.4h9.5v9.4h-9.5ZM114.6 634.8h9.5v9.4h-9.5ZM228.2 634.8h9.5v9.4h-9.5ZM199.8 644.2h9.5v9.4h-9.5Z" fill="#686868"/><path d="M124.1 456.1h9.5v9.4h-9.5ZM114.6 465.5h9.5v9.4h-9.5ZM143 465.5h9.5v9.4h-9.5ZM57.9 474.9h9.5v9.4h-9.5Z" fill="#525252"/><path d="M152.5 456.1h9.5v9.4h-9.5ZM171.4 465.5h18.9v9.4h-18.9ZM105.2 484.3h9.5v9.4h-9.5ZM48.4 512.5h9.5v9.4h-9.5ZM48.4 540.7h9.5v9.4h-9.5Z" fill="#454545"/><path d="M161.9 456.1h9.5v9.4h-9.5ZM180.9 456.1h9.5v9.4h-9.5ZM86.2 474.9h9.5v9.4h-9.5Z" fill="#404040"/><path d="M171.4 456.1h9.5v9.4h-9.5ZM67.3 484.3h9.5v9.4h-9.5Z" fill="#3f3f3f"/><path d="M237.6 456.1h9.5v9.4h-9.5ZM303.9 503.1h9.5v9.4h-9.5ZM114.6 521.9h9.5v9.4h-9.5ZM114.6 531.3h9.5v9.4h-9.5ZM303.9 550.1h9.5v9.4h-9.5ZM284.9 587.7h9.5v9.4h-9.5ZM275.5 597.1h9.5v9.4h-9.5ZM237.6 616h9.5v9.4h-9.5ZM218.7 625.4h9.5v9.4h-9.5ZM133.6 634.8h9.5v9.4h-9.5ZM199.8 634.8h9.5v9.4h-9.5Z" fill="#6c6c6c"/><path d="M247.1 456.1h18.9v9.4h-18.9ZM114.6 550.1h9.5v9.4h-9.5ZM266 597.1h9.5v9.4h-9.5ZM247.1 606.5h9.5v9.4h-9.5ZM114.6 616h9.5v9.4h-9.5ZM228.2 616h9.5v9.4h-9.5ZM124.1 625.4h9.5v9.4h-9.5ZM209.2 625.4h9.5v9.4h-9.5ZM143 634.8h9.5v9.4h-9.5Z" fill="#6f6f6f"/><path d="M266 456.1h9.5v9.4h-9.5ZM228.2 465.5h9.5v9.4h-9.5ZM218.7 474.9h9.5v9.4h-9.5ZM294.4 484.3h9.5v9.4h-9.5ZM303.9 521.9h9.5v9.4h-9.5ZM303.9 531.3h9.5v9.4h-9.5ZM294.4 568.9h9.5v9.4h-9.5ZM190.3 634.8h9.5v9.4h-9.5Z" fill="#6e6e6e"/><path d="M275.5 456.1h9.5v9.4h-9.5ZM284.9 465.5h9.5v9.4h-9.5ZM294.4 474.9h9.5v9.4h-9.5ZM190.3 484.3h18.9v9.4h-18.9ZM303.9 493.7h9.5v9.4h-9.5ZM114.6 512.5h9.5v9.4h-9.5ZM303.9 559.5h9.5v9.4h-9.5ZM294.4 578.3h9.5v9.4h-9.5ZM266 606.5h9.5v9.4h-9.5ZM247.1 616h9.5v9.4h-9.5ZM114.6 625.4h9.5v9.4h-9.5ZM161.9 644.2h18.9v9.4h-18.9Z" fill="#6b6b6b"/><path d="M190.3 465.5h9.5v9.4h-9.5ZM76.8 578.3h9.5v9.4h-9.5Z" fill="#474747"/><path d="M237.6 465.5h9.5v9.4h-9.5ZM275.5 474.9h9.5v9.4h-9.5ZM294.4 512.5h9.5v9.4h-9.5ZM294.4 540.7h9.5v9.4h-9.5ZM266 587.7h9.5v9.4h-9.5ZM209.2 616h9.5v9.4h-9.5ZM190.3 625.4h9.5v9.4h-9.5Z" fill="#767676"/><path d="M247.1 465.5h9.5v9.4h-9.5ZM152.5 625.4h9.5v9.4h-9.5ZM180.9 625.4h9.5v9.4h-9.5Z" fill="#797979"/><path d="M256.6 465.5h9.5v9.4h-9.5ZM171.4 484.3h9.5v9.4h-9.5ZM294.4 521.9h9.5v9.4h-9.5ZM294.4 531.3h9.5v9.4h-9.5ZM218.7 606.5h9.5v9.4h-9.5Z" fill="#787878"/><path d="M266 465.5h9.5v9.4h-9.5ZM294.4 503.1h9.5v9.4h-9.5ZM294.4 550.1h9.5v9.4h-9.5Z" fill="#747474"/><path d="M275.5 465.5h9.5v9.4h-9.5ZM284.9 474.9h9.5v9.4h-9.5ZM284.9 578.3h9.5v9.4h-9.5ZM152.5 634.8h9.5v9.4h-9.5ZM180.9 634.8h9.5v9.4h-9.5Z" fill="#707070"/><path d="M228.2 474.9h9.5v9.4h-9.5ZM284.9 493.7h9.5v9.4h-9.5ZM284.9 559.5h9.5v9.4h-9.5ZM199.8 616h9.5v9.4h-9.5ZM161.9 625.4h18.9v9.4h-18.9Z" fill="#7b7b7b"/><path d="M237.6 474.9h9.5v9.4h-9.5Z" fill="#848484"/><path d="M247.1 474.9h9.5v9.4h-9.5ZM190.3 493.7h9.5v9.4h-9.5ZM275.5 493.7h9.5v9.4h-9.5ZM133.6 606.5h9.5v9.4h-9.5ZM171.4 616h9.5v9.4h-9.5Z" fill="#888888"/><path d="M256.6 474.9h9.5v9.4h-9.5ZM284.9 512.5h9.5v9.4h-9.5ZM284.9 540.7h9.5v9.4h-9.5ZM237.6 587.7h9.5v9.4h-9.5ZM199.8 606.5h9.5v9.4h-9.5ZM180.9 616h9.5v9.4h-9.5Z" fill="#858585"/><path d="M266 474.9h9.5v9.4h-9.5ZM209.2 606.5h9.5v9.4h-9.5Z" fill="#7e7e7e"/><path d="M76.8 484.3h9.5v9.4h-9.5ZM105.2 521.9h9.5v9.4h-9.5ZM105.2 531.3h9.5v9.4h-9.5Z" fill="#363636"/><path d="M86.2 484.3h9.5v9.4h-9.5ZM57.9 512.5h9.5v9.4h-9.5ZM57.9 540.7h9.5v9.4h-9.5ZM95.7 559.5h9.5v9.4h-9.5Z" fill="#323232"/><path d="M95.7 484.3h9.5v9.4h-9.5Z" fill="#373737"/><path d="M124.1 484.3h9.5v9.4h-9.5ZM303.9 512.5h9.5v9.4h-9.5ZM114.6 540.7h9.5v9.4h-9.5ZM303.9 540.7h9.5v9.4h-9.5ZM256.6 606.5h9.5v9.4h-9.5Z" fill="#6d6d6d"/><path d="M133.6 484.3h9.5v9.4h-9.5ZM256.6 587.7h9.5v9.4h-9.5ZM133.6 616h9.5v9.4h-9.5Z" fill="#7c7c7c"/><path d="M143 484.3h18.9v9.4h-18.9Z" fill="#838383"/><path d="M161.9 484.3h9.5v9.4h-9.5ZM218.7 484.3h9.5v9.4h-9.5ZM275.5 484.3h9.5v9.4h-9.5ZM275.5 568.9h9.5v9.4h-9.5Z" fill="#7f7f7f"/><path d="M180.9 484.3h9.5v9.4h-9.5ZM294.4 493.7h9.5v9.4h-9.5ZM294.4 559.5h9.5v9.4h-9.5ZM275.5 587.7h9.5v9.4h-9.5ZM218.7 616h9.5v9.4h-9.5ZM161.9 634.8h18.9v9.4h-18.9Z" fill="#717171"/><path d="M209.2 484.3h9.5v9.4h-9.5ZM237.6 606.5h9.5v9.4h-9.5ZM199.8 625.4h9.5v9.4h-9.5Z" fill="#727272"/><path d="M228.2 484.3h9.5v9.4h-9.5ZM190.3 606.5h9.5v9.4h-9.5Z" fill="#8d8d8d"/><path d="M237.6 484.3h9.5v9.4h-9.5ZM266 493.7h9.5v9.4h-9.5ZM199.8 503.1h9.5v9.4h-9.5ZM124.1 568.9h9.5v9.4h-9.5ZM256.6 568.9h9.5v9.4h-9.5Z" fill="#989898"/><path d="M247.1 484.3h9.5v9.4h-9.5ZM199.8 587.7h9.5v9.4h-9.5ZM161.9 606.5h9.5v9.4h-9.5Z" fill="#9a9a9a"/><path d="M256.6 484.3h9.5v9.4h-9.5ZM133.6 597.1h9.5v9.4h-9.5ZM180.9 606.5h9.5v9.4h-9.5Z" fill="#959595"/><path d="M266 484.3h9.5v9.4h-9.5ZM218.7 587.7h9.5v9.4h-9.5Z" fill="#8a8a8a"/><path d="M284.9 484.3h9.5v9.4h-9.5ZM284.9 568.9h9.5v9.4h-9.5ZM228.2 606.5h9.5v9.4h-9.5ZM124.1 616h9.5v9.4h-9.5Z" fill="#757575"/><path d="M57.9 493.7h9.5v9.4h-9.5ZM105.2 493.7h9.5v9.4h-9.5ZM67.3 568.9h9.5v9.4h-9.5Z" fill="#414141"/><path d="M67.3 493.7h9.5v9.4h-9.5Z" fill="#333333"/><path d="M76.8 493.7h9.5v9.4h-9.5ZM86.2 559.5h9.5v9.4h-9.5Z" fill="#262626"/><path d="M86.2 493.7h9.5v9.4h-9.5Z" fill="#222222"/><path d="M95.7 493.7h9.5v9.4h-9.5Z" fill="#2b2b2b"/><path d="M124.1 493.7h9.5v9.4h-9.5ZM284.9 503.1h9.5v9.4h-9.5ZM284.9 550.1h9.5v9.4h-9.5ZM266 578.3h9.5v9.4h-9.5ZM190.3 616h9.5v9.4h-9.5Z" fill="#808080"/><path d="M133.6 493.7h9.5v9.4h-9.5ZM209.2 503.1h9.5v9.4h-9.5ZM275.5 512.5h9.5v9.4h-9.5ZM275.5 540.7h9.5v9.4h-9.5ZM266 559.5h9.5v9.4h-9.5ZM171.4 606.5h9.5v9.4h-9.5Z" fill="#999999"/><path d="M143 493.7h9.5v9.4h-9.5ZM199.8 512.5h9.5v9.4h-9.5ZM199.8 550.1h9.5v9.4h-9.5Z" fill="#a8a8a8"/><path d="M152.5 493.7h9.5v9.4h-9.5ZM199.8 540.7h9.5v9.4h-9.5ZM171.4 597.1h9.5v9.4h-9.5Z" fill="#acacac"/><path d="M161.9 493.7h9.5v9.4h-9.5ZM256.6 559.5h9.5v9.4h-9.5Z" fill="#a9a9a9"/><path d="M171.4 493.7h9.5v9.4h-9.5ZM228.2 568.9h9.5v9.4h-9.5ZM247.1 568.9h9.5v9.4h-9.5Z" fill="#a0a0a0"/><path d="M180.9 493.7h9.5v9.4h-9.5ZM218.7 578.3h18.9v9.4h-18.9Z" fill="#939393"/><path d="M199.8 493.7h9.5v9.4h-9.5ZM143 616h9.5v9.4h-9.5Z" fill="#828282"/><path d="M209.2 493.7h9.5v9.4h-9.5ZM124.1 597.1h9.5v9.4h-9.5Z" fill="#868686"/><path d="M218.7 493.7h9.5v9.4h-9.5ZM124.1 503.1h9.5v9.4h-9.5ZM275.5 550.1h9.5v9.4h-9.5ZM237.6 578.3h9.5v9.4h-9.5Z" fill="#929292"/><path d="M228.2 493.7h9.5v9.4h-9.5ZM124.1 540.7h9.5v9.4h-9.5ZM133.6 587.7h9.5v9.4h-9.5Z" fill="#a2a2a2"/><path d="M237.6 493.7h9.5v9.4h-9.5ZM133.6 578.3h9.5v9.4h-9.5Z" fill="#adadad"/><path d="M247.1 493.7h9.5v9.4h-9.5ZM199.8 521.9h9.5v9.4h-9.5ZM199.8 531.3h9.5v9.4h-9.5Z" fill="#afafaf"/><path d="M256.6 493.7h9.5v9.4h-9.5ZM209.2 512.5h9.5v9.4h-9.5ZM190.3 587.7h9.5v9.4h-9.5Z" fill="#a7a7a7"/><path d="M48.4 503.1h9.5v9.4h-9.5ZM48.4 550.1h9.5v9.4h-9.5Z" fill="#494949"/><path d="M57.9 503.1h9.5v9.4h-9.5ZM105.2 512.5h9.5v9.4h-9.5ZM57.9 550.1h9.5v9.4h-9.5ZM76.8 568.9h9.5v9.4h-9.5Z" fill="#393939"/><path d="M67.3 503.1h9.5v9.4h-9.5ZM67.3 550.1h9.5v9.4h-9.5Z" fill="#272727"/><path d="M76.8 503.1h9.5v9.4h-9.5Z" fill="#181818"/><path d="M86.2 503.1h9.5v9.4h-9.5Z" fill="#131313"/><path d="M95.7 503.1h9.5v9.4h-9.5Z" fill="#1f1f1f"/><path d="M105.2 503.1h9.5v9.4h-9.5Z" fill="#3d3d3d"/><path d="M133.6 503.1h9.5v9.4h-9.5ZM180.9 503.1h9.5v9.4h-9.5ZM237.6 559.5h9.5v9.4h-9.5Z" fill="#b5b5b5"/><path d="M143 503.1h9.5v9.4h-9.5ZM171.4 578.3h9.5v9.4h-9.5Z" fill="#cbcbcb"/><path d="M152.5 503.1h9.5v9.4h-9.5ZM247.1 512.5h9.5v9.4h-9.5ZM133.6 531.3h9.5v9.4h-9.5ZM237.6 540.7h18.9v9.4h-18.9Z" fill="#d4d4d4"/><path d="M161.9 503.1h9.5v9.4h-9.5Z" fill="#d1d1d1"/><path d="M171.4 503.1h9.5v9.4h-9.5ZM228.2 512.5h9.5v9.4h-9.5ZM256.6 512.5h9.5v9.4h-9.5ZM256.6 540.7h9.5v9.4h-9.5ZM133.6 550.1h9.5v9.4h-9.5ZM237.6 550.1h9.5v9.4h-9.5Z" fill="#c6c6c6"/><path d="M190.3 503.1h9.5v9.4h-9.5ZM237.6 568.9h9.5v9.4h-9.5Z" fill="#a3a3a3"/><path d="M218.7 503.1h9.5v9.4h-9.5ZM124.1 521.9h9.5v9.4h-9.5ZM124.1 531.3h9.5v9.4h-9.5ZM209.2 550.1h9.5v9.4h-9.5ZM218.7 559.5h9.5v9.4h-9.5ZM199.8 568.9h9.5v9.4h-9.5ZM180.9 597.1h9.5v9.4h-9.5Z" fill="#a5a5a5"/><path d="M228.2 503.1h9.5v9.4h-9.5Z" fill="#b7b7b7"/><path d="M237.6 503.1h18.9v9.4h-18.9Z" fill="#c3c3c3"/><path d="M256.6 503.1h9.5v9.4h-9.5ZM190.3 550.1h9.5v9.4h-9.5Z" fill="#b8b8b8"/><path d="M266 503.1h9.5v9.4h-9.5ZM266 550.1h9.5v9.4h-9.5ZM199.8 559.5h9.5v9.4h-9.5Z" fill="#a6a6a6"/><path d="M275.5 503.1h9.5v9.4h-9.5ZM143 606.5h9.5v9.4h-9.5Z" fill="#919191"/><path d="M67.3 512.5h9.5v9.4h-9.5ZM67.3 540.7h9.5v9.4h-9.5Z" fill="#1d1d1d"/><path d="M76.8 512.5h9.5v9.4h-9.5ZM76.8 540.7h9.5v9.4h-9.5Z" fill="#0c0c0c"/><path d="M86.2 512.5h9.5v9.4h-9.5ZM86.2 540.7h9.5v9.4h-9.5Z" fill="#070707"/><path d="M95.7 512.5h9.5v9.4h-9.5Z" fill="#161616"/><path d="M124.1 512.5h9.5v9.4h-9.5Z" fill="#9f9f9f"/><path d="M133.6 512.5h9.5v9.4h-9.5ZM180.9 559.5h9.5v9.4h-9.5Z" fill="#c9c9c9"/><path d="M143 512.5h9.5v9.4h-9.5Z" fill="#e5e5e5"/><path d="M152.5 512.5h9.5v9.4h-9.5Z" fill="#f1f1f1"/><path d="M161.9 512.5h9.5v9.4h-9.5ZM171.4 521.9h9.5v9.4h-9.5ZM171.4 531.3h9.5v9.4h-9.5Z" fill="#efefef"/><path d="M171.4 512.5h9.5v9.4h-9.5ZM152.5 559.5h9.5v9.4h-9.5Z" fill="#e2e2e2"/><path d="M180.9 512.5h9.5v9.4h-9.5ZM180.9 550.1h9.5v9.4h-9.5Z" fill="#cdcdcd"/><path d="M190.3 512.5h9.5v9.4h-9.5ZM266 521.9h9.5v9.4h-9.5ZM266 531.3h9.5v9.4h-9.5ZM218.7 540.7h9.5v9.4h-9.5ZM190.3 559.5h9.5v9.4h-9.5ZM133.6 568.9h9.5v9.4h-9.5Z" fill="#b6b6b6"/><path d="M218.7 512.5h9.5v9.4h-9.5ZM190.3 568.9h9.5v9.4h-9.5ZM180.9 587.7h9.5v9.4h-9.5Z" fill="#b4b4b4"/><path d="M237.6 512.5h9.5v9.4h-9.5ZM133.6 521.9h9.5v9.4h-9.5ZM180.9 540.7h9.5v9.4h-9.5ZM171.4 568.9h9.5v9.4h-9.5Z" fill="#d3d3d3"/><path d="M266 512.5h9.5v9.4h-9.5ZM266 540.7h9.5v9.4h-9.5ZM190.3 578.3h9.5v9.4h-9.5Z" fill="#b0b0b0"/><path d="M38.9 521.9h9.5v9.4h-9.5ZM38.9 531.3h9.5v9.4h-9.5Z" fill="#515151"/><path d="M57.9 521.9h9.5v9.4h-9.5ZM57.9 531.3h9.5v9.4h-9.5Z" fill="#2e2e2e"/><path d="M67.3 521.9h9.5v9.4h-9.5ZM67.3 531.3h9.5v9.4h-9.5ZM95.7 540.7h9.5v9.4h-9.5Z" fill="#171717"/><path d="M76.8 521.9h9.5v9.4h-9.5ZM76.8 531.3h9.5v9.4h-9.5Z" fill="#050505"/><path d="M86.2 521.9h9.5v9.4h-9.5ZM86.2 531.3h9.5v9.4h-9.5Z" fill="#000000"/><path d="M95.7 521.9h9.5v9.4h-9.5ZM95.7 531.3h9.5v9.4h-9.5Z" fill="#101010"/><path d="M143 521.9h9.5v9.4h-9.5ZM143 531.3h9.5v9.4h-9.5Z" fill="#f2f2f2"/><path d="M152.5 521.9h9.5v9.4h-9.5ZM152.5 531.3h9.5v9.4h-9.5Z" fill="#ffffff"/><path d="M161.9 521.9h9.5v9.4h-9.5ZM161.9 531.3h9.5v9.4h-9.5Z" fill="#fdfdfd"/><path d="M180.9 521.9h9.5v9.4h-9.5ZM180.9 531.3h9.5v9.4h-9.5ZM152.5 568.9h9.5v9.4h-9.5Z" fill="#d8d8d8"/><path d="M190.3 521.9h9.5v9.4h-9.5ZM190.3 531.3h9.5v9.4h-9.5ZM143 578.3h9.5v9.4h-9.5ZM161.9 587.7h9.5v9.4h-9.5Z" fill="#c0c0c0"/><path d="M209.2 521.9h9.5v9.4h-9.5ZM209.2 531.3h9.5v9.4h-9.5ZM218.7 550.1h9.5v9.4h-9.5ZM228.2 559.5h9.5v9.4h-9.5ZM161.9 597.1h9.5v9.4h-9.5Z" fill="#aeaeae"/><path d="M218.7 521.9h9.5v9.4h-9.5ZM218.7 531.3h9.5v9.4h-9.5Z" fill="#bbbbbb"/><path d="M228.2 521.9h9.5v9.4h-9.5ZM228.2 531.3h9.5v9.4h-9.5ZM161.9 578.3h9.5v9.4h-9.5Z" fill="#cfcfcf"/><path d="M237.6 521.9h9.5v9.4h-9.5ZM237.6 531.3h9.5v9.4h-9.5Z" fill="#dddddd"/><path d="M247.1 521.9h9.5v9.4h-9.5ZM247.1 531.3h9.5v9.4h-9.5Z" fill="#dcdcdc"/><path d="M256.6 521.9h9.5v9.4h-9.5ZM256.6 531.3h9.5v9.4h-9.5ZM133.6 540.7h9.5v9.4h-9.5Z" fill="#cecece"/><path d="M275.5 521.9h9.5v9.4h-9.5ZM275.5 531.3h9.5v9.4h-9.5ZM209.2 568.9h9.5v9.4h-9.5Z" fill="#9d9d9d"/><path d="M284.9 521.9h9.5v9.4h-9.5ZM284.9 531.3h9.5v9.4h-9.5ZM228.2 587.7h9.5v9.4h-9.5ZM209.2 597.1h9.5v9.4h-9.5ZM152.5 616h9.5v9.4h-9.5Z" fill="#878787"/><path d="M105.2 540.7h9.5v9.4h-9.5Z" fill="#3a3a3a"/><path d="M143 540.7h9.5v9.4h-9.5Z" fill="#eaeaea"/><path d="M152.5 540.7h9.5v9.4h-9.5Z" fill="#f7f7f7"/><path d="M161.9 540.7h9.5v9.4h-9.5Z" fill="#f5f5f5"/><path d="M171.4 540.7h9.5v9.4h-9.5Z" fill="#e8e8e8"/><path d="M190.3 540.7h9.5v9.4h-9.5ZM228.2 550.1h9.5v9.4h-9.5ZM152.5 587.7h9.5v9.4h-9.5Z" fill="#bcbcbc"/><path d="M209.2 540.7h9.5v9.4h-9.5ZM152.5 597.1h9.5v9.4h-9.5Z" fill="#aaaaaa"/><path d="M228.2 540.7h9.5v9.4h-9.5Z" fill="#c8c8c8"/><path d="M76.8 550.1h9.5v9.4h-9.5Z" fill="#191919"/><path d="M86.2 550.1h9.5v9.4h-9.5Z" fill="#151515"/><path d="M95.7 550.1h9.5v9.4h-9.5Z" fill="#232323"/><path d="M124.1 550.1h9.5v9.4h-9.5Z" fill="#9e9e9e"/><path d="M143 550.1h9.5v9.4h-9.5ZM171.4 550.1h9.5v9.4h-9.5Z" fill="#e0e0e0"/><path d="M152.5 550.1h18.9v9.4h-18.9Z" fill="#ececec"/><path d="M247.1 550.1h9.5v9.4h-9.5ZM180.9 568.9h9.5v9.4h-9.5Z" fill="#c5c5c5"/><path d="M256.6 550.1h9.5v9.4h-9.5Z" fill="#b9b9b9"/><path d="M67.3 559.5h9.5v9.4h-9.5Z" fill="#343434"/><path d="M76.8 559.5h9.5v9.4h-9.5Z" fill="#282828"/><path d="M114.6 559.5h9.5v9.4h-9.5ZM256.6 597.1h9.5v9.4h-9.5ZM114.6 606.5h9.5v9.4h-9.5ZM133.6 625.4h9.5v9.4h-9.5Z" fill="#737373"/><path d="M124.1 559.5h9.5v9.4h-9.5ZM190.3 597.1h9.5v9.4h-9.5Z" fill="#9b9b9b"/><path d="M133.6 559.5h9.5v9.4h-9.5Z" fill="#bebebe"/><path d="M143 559.5h9.5v9.4h-9.5Z" fill="#d6d6d6"/><path d="M161.9 559.5h9.5v9.4h-9.5Z" fill="#e3e3e3"/><path d="M171.4 559.5h9.5v9.4h-9.5ZM161.9 568.9h9.5v9.4h-9.5Z" fill="#dadada"/><path d="M209.2 559.5h9.5v9.4h-9.5ZM199.8 578.3h9.5v9.4h-9.5ZM143 597.1h9.5v9.4h-9.5Z" fill="#a1a1a1"/><path d="M247.1 559.5h9.5v9.4h-9.5Z" fill="#b3b3b3"/><path d="M275.5 559.5h9.5v9.4h-9.5ZM256.6 578.3h9.5v9.4h-9.5ZM161.9 616h9.5v9.4h-9.5Z" fill="#898989"/><path d="M86.2 568.9h9.5v9.4h-9.5Z" fill="#383838"/><path d="M114.6 568.9h9.5v9.4h-9.5ZM275.5 578.3h9.5v9.4h-9.5ZM114.6 597.1h9.5v9.4h-9.5ZM247.1 597.1h9.5v9.4h-9.5ZM143 625.4h9.5v9.4h-9.5Z" fill="#777777"/><path d="M143 568.9h9.5v9.4h-9.5ZM152.5 578.3h9.5v9.4h-9.5Z" fill="#cccccc"/><path d="M218.7 568.9h9.5v9.4h-9.5Z" fill="#9c9c9c"/><path d="M266 568.9h9.5v9.4h-9.5Z" fill="#8c8c8c"/><path d="M114.6 578.3h9.5v9.4h-9.5ZM114.6 587.7h9.5v9.4h-9.5ZM237.6 597.1h9.5v9.4h-9.5Z" fill="#7a7a7a"/><path d="M124.1 578.3h9.5v9.4h-9.5Z" fill="#949494"/><path d="M180.9 578.3h9.5v9.4h-9.5Z" fill="#bfbfbf"/><path d="M209.2 578.3h9.5v9.4h-9.5ZM152.5 606.5h9.5v9.4h-9.5Z" fill="#979797"/><path d="M247.1 578.3h9.5v9.4h-9.5Z" fill="#8f8f8f"/><path d="M124.1 587.7h9.5v9.4h-9.5Z" fill="#8e8e8e"/><path d="M143 587.7h9.5v9.4h-9.5Z" fill="#b2b2b2"/><path d="M171.4 587.7h9.5v9.4h-9.5Z" fill="#bdbdbd"/><path d="M209.2 587.7h9.5v9.4h-9.5ZM199.8 597.1h9.5v9.4h-9.5Z" fill="#909090"/><path d="M247.1 587.7h9.5v9.4h-9.5ZM218.7 597.1h9.5v9.4h-9.5Z" fill="#818181"/><path d="M228.2 597.1h9.5v9.4h-9.5ZM124.1 606.5h9.5v9.4h-9.5Z" fill="#7d7d7d"/></g></g><g clip-path="url(#l3)"><filter id="imblur" filterUnits="userSpaceOnUse" x="-40" y="320.8" width="422.8" height="421"><feGaussianBlur stdDeviation="3.6"/></filter><g filter="url(#imblur)" shape-rendering="crispEdges"><rect x="-8.4" y="352.6" width="359.6" height="357.4" fill="#e83a24"/><path d="M247.1 427.8h47.3v9.4h-47.3ZM285 437.2h18.9v9.4h-18.9ZM294.4 446.6h18.9v9.4h-18.9ZM303.9 456.1h18.9v9.4h-18.9ZM313.3 465.5h9.5v9.4h-9.5ZM322.8 474.9h9.5v9.4h-9.5ZM322.8 484.3h9.5v9.4h-9.5ZM322.8 493.7h9.5v9.4h-9.5ZM332.3 503.1h9.5v9.4h-9.5ZM332.3 512.5h9.5v9.4h-9.5ZM332.3 521.9h9.5v9.4h-9.5ZM332.3 531.3h9.5v9.4h-9.5ZM332.3 540.7h9.5v9.4h-9.5ZM332.3 550.1h9.5v9.4h-9.5ZM322.8 559.5h9.5v9.4h-9.5ZM322.8 568.9h9.5v9.4h-9.5ZM322.8 578.3h9.5v9.4h-9.5ZM313.3 587.7h9.5v9.4h-9.5ZM303.9 597.1h18.9v9.4h-18.9ZM294.4 606.5h18.9v9.4h-18.9ZM95.7 616h9.5v9.4h-9.5ZM285 616h18.9v9.4h-18.9ZM95.7 625.4h9.5v9.4h-9.5ZM275.5 625.4h18.9v9.4h-18.9ZM95.7 634.8h9.5v9.4h-9.5ZM256.6 634.8h28.4v9.4h-28.4ZM95.7 644.2h18.9v9.4h-18.9ZM237.6 644.2h28.4v9.4h-28.4ZM105.2 653.6h18.9v9.4h-18.9ZM218.7 653.6h28.4v9.4h-28.4ZM124.1 663h94.6v9.4h-94.6ZM152.5 672.4h37.9v9.4h-37.9Z" fill="#e83b24"/><path d="M247.1 437.2h9.5v9.4h-9.5ZM275.5 437.2h9.5v9.4h-9.5ZM285 446.6h9.5v9.4h-9.5ZM228.2 456.1h9.5v9.4h-9.5ZM303.9 465.5h9.5v9.4h-9.5ZM313.3 474.9h9.5v9.4h-9.5ZM313.3 484.3h9.5v9.4h-9.5ZM114.6 503.1h9.5v9.4h-9.5ZM322.8 503.1h9.5v9.4h-9.5ZM322.8 512.5h9.5v9.4h-9.5ZM322.8 521.9h9.5v9.4h-9.5ZM322.8 531.3h9.5v9.4h-9.5ZM322.8 540.7h9.5v9.4h-9.5ZM322.8 550.1h9.5v9.4h-9.5ZM313.3 568.9h9.5v9.4h-9.5ZM313.3 578.3h9.5v9.4h-9.5ZM303.9 587.7h9.5v9.4h-9.5ZM275.5 616h9.5v9.4h-9.5ZM266 625.4h9.5v9.4h-9.5ZM105.2 634.8h9.5v9.4h-9.5ZM237.6 634.8h18.9v9.4h-18.9ZM114.6 644.2h9.5v9.4h-9.5ZM218.7 644.2h18.9v9.4h-18.9ZM124.1 653.6h18.9v9.4h-18.9ZM199.8 653.6h18.9v9.4h-18.9Z" fill="#e83c24"/><path d="M256.6 437.2h18.9v9.4h-18.9ZM237.6 446.6h9.5v9.4h-9.5ZM294.4 456.1h9.5v9.4h-9.5ZM303.9 474.9h9.5v9.4h-9.5ZM313.3 493.7h9.5v9.4h-9.5ZM313.3 559.5h9.5v9.4h-9.5ZM303.9 578.3h9.5v9.4h-9.5ZM105.2 587.7h9.5v9.4h-9.5ZM294.4 597.1h9.5v9.4h-9.5ZM285 606.5h9.5v9.4h-9.5ZM256.6 625.4h9.5v9.4h-9.5ZM228.2 634.8h9.5v9.4h-9.5ZM124.1 644.2h9.5v9.4h-9.5ZM209.2 644.2h9.5v9.4h-9.5ZM143 653.6h56.8v9.4h-56.8Z" fill="#e83d24"/><path d="M247.1 446.6h18.9v9.4h-18.9ZM105.2 597.1h9.5v9.4h-9.5ZM105.2 606.5h9.5v9.4h-9.5ZM228.2 625.4h9.5v9.4h-9.5ZM124.1 634.8h9.5v9.4h-9.5ZM209.2 634.8h9.5v9.4h-9.5ZM143 644.2h9.5v9.4h-9.5ZM180.9 644.2h9.5v9.4h-9.5Z" fill="#e94025"/><path d="M266 446.6h9.5v9.4h-9.5ZM303.9 484.3h9.5v9.4h-9.5ZM313.3 521.9h9.5v9.4h-9.5ZM313.3 531.3h9.5v9.4h-9.5ZM303.9 568.9h9.5v9.4h-9.5ZM285 597.1h9.5v9.4h-9.5ZM105.2 616h9.5v9.4h-9.5ZM256.6 616h9.5v9.4h-9.5ZM237.6 625.4h9.5v9.4h-9.5ZM218.7 634.8h9.5v9.4h-9.5ZM190.3 644.2h9.5v9.4h-9.5Z" fill="#e93f25"/><path d="M275.5 446.6h9.5v9.4h-9.5ZM285 456.1h9.5v9.4h-9.5ZM294.4 465.5h9.5v9.4h-9.5ZM313.3 503.1h9.5v9.4h-9.5ZM313.3 512.5h9.5v9.4h-9.5ZM313.3 540.7h9.5v9.4h-9.5ZM313.3 550.1h9.5v9.4h-9.5ZM294.4 587.7h9.5v9.4h-9.5ZM275.5 606.5h9.5v9.4h-9.5ZM266 616h9.5v9.4h-9.5ZM105.2 625.4h9.5v9.4h-9.5ZM247.1 625.4h9.5v9.4h-9.5ZM114.6 634.8h9.5v9.4h-9.5ZM133.6 644.2h9.5v9.4h-9.5ZM199.8 644.2h9.5v9.4h-9.5Z" fill="#e83e24"/><path d="M237.6 456.1h9.5v9.4h-9.5ZM114.6 531.3h9.5v9.4h-9.5ZM114.6 540.7h9.5v9.4h-9.5ZM256.6 606.5h9.5v9.4h-9.5ZM237.6 616h9.5v9.4h-9.5ZM218.7 625.4h9.5v9.4h-9.5ZM133.6 634.8h9.5v9.4h-9.5ZM199.8 634.8h9.5v9.4h-9.5Z" fill="#e94325"/><path d="M247.1 456.1h18.9v9.4h-18.9ZM275.5 465.5h9.5v9.4h-9.5ZM285 474.9h9.5v9.4h-9.5ZM266 597.1h9.5v9.4h-9.5ZM247.1 606.5h9.5v9.4h-9.5ZM209.2 625.4h9.5v9.4h-9.5ZM180.9 634.8h9.5v9.4h-9.5Z" fill="#e94625"/><path d="M266 456.1h9.5v9.4h-9.5ZM228.2 465.5h9.5v9.4h-9.5ZM124.1 484.3h9.5v9.4h-9.5ZM294.4 484.3h9.5v9.4h-9.5ZM303.9 512.5h9.5v9.4h-9.5ZM303.9 540.7h9.5v9.4h-9.5ZM294.4 568.9h9.5v9.4h-9.5Z" fill="#e94425"/><path d="M275.5 456.1h9.5v9.4h-9.5ZM294.4 474.9h9.5v9.4h-9.5ZM190.3 484.3h18.9v9.4h-18.9ZM303.9 493.7h9.5v9.4h-9.5ZM114.6 512.5h9.5v9.4h-9.5ZM303.9 559.5h9.5v9.4h-9.5ZM294.4 578.3h9.5v9.4h-9.5ZM266 606.5h9.5v9.4h-9.5ZM247.1 616h9.5v9.4h-9.5ZM114.6 625.4h9.5v9.4h-9.5ZM152.5 644.2h28.4v9.4h-28.4Z" fill="#e94125"/><path d="M237.6 465.5h9.5v9.4h-9.5ZM209.2 616h9.5v9.4h-9.5ZM190.3 625.4h9.5v9.4h-9.5Z" fill="#ea4d26"/><path d="M247.1 465.5h9.5v9.4h-9.5ZM114.6 578.3h9.5v9.4h-9.5ZM114.6 587.7h9.5v9.4h-9.5ZM152.5 625.4h9.5v9.4h-9.5Z" fill="#ea5126"/><path d="M256.6 465.5h9.5v9.4h-9.5ZM171.4 484.3h9.5v9.4h-9.5ZM218.7 606.5h9.5v9.4h-9.5ZM180.9 625.4h9.5v9.4h-9.5Z" fill="#ea5026"/><path d="M266 465.5h9.5v9.4h-9.5ZM294.4 503.1h9.5v9.4h-9.5ZM294.4 550.1h9.5v9.4h-9.5Z" fill="#ea4b26"/><path d="M285 465.5h9.5v9.4h-9.5ZM303.9 503.1h9.5v9.4h-9.5ZM114.6 521.9h9.5v9.4h-9.5ZM303.9 550.1h9.5v9.4h-9.5ZM285 587.7h9.5v9.4h-9.5ZM275.5 597.1h9.5v9.4h-9.5Z" fill="#e94225"/><path d="M218.7 474.9h9.5v9.4h-9.5ZM303.9 521.9h9.5v9.4h-9.5ZM303.9 531.3h9.5v9.4h-9.5ZM114.6 550.1h9.5v9.4h-9.5ZM114.6 616h9.5v9.4h-9.5ZM228.2 616h9.5v9.4h-9.5ZM124.1 625.4h9.5v9.4h-9.5ZM143 634.8h9.5v9.4h-9.5ZM190.3 634.8h9.5v9.4h-9.5Z" fill="#e94525"/><path d="M228.2 474.9h9.5v9.4h-9.5Z" fill="#eb5327"/><path d="M237.6 474.9h9.5v9.4h-9.5ZM256.6 474.9h9.5v9.4h-9.5ZM285 512.5h9.5v9.4h-9.5ZM285 540.7h9.5v9.4h-9.5ZM237.6 587.7h9.5v9.4h-9.5Z" fill="#ec5d28"/><path d="M247.1 474.9h9.5v9.4h-9.5ZM190.3 493.7h9.5v9.4h-9.5Z" fill="#ec6228"/><path d="M266 474.9h9.5v9.4h-9.5ZM209.2 606.5h9.5v9.4h-9.5Z" fill="#eb5627"/><path d="M275.5 474.9h9.5v9.4h-9.5ZM294.4 512.5h9.5v9.4h-9.5ZM294.4 540.7h9.5v9.4h-9.5ZM114.6 568.9h9.5v9.4h-9.5ZM275.5 578.3h9.5v9.4h-9.5ZM266 587.7h9.5v9.4h-9.5ZM114.6 597.1h9.5v9.4h-9.5ZM247.1 597.1h9.5v9.4h-9.5ZM143 625.4h9.5v9.4h-9.5Z" fill="#ea4e26"/><path d="M133.6 484.3h9.5v9.4h-9.5ZM256.6 587.7h9.5v9.4h-9.5ZM133.6 616h9.5v9.4h-9.5Z" fill="#eb5427"/><path d="M143 484.3h9.5v9.4h-9.5Z" fill="#ec5b28"/><path d="M152.5 484.3h9.5v9.4h-9.5Z" fill="#ec5c28"/><path d="M161.9 484.3h9.5v9.4h-9.5ZM218.7 484.3h9.5v9.4h-9.5ZM275.5 484.3h9.5v9.4h-9.5ZM275.5 568.9h9.5v9.4h-9.5Z" fill="#eb5727"/><path d="M180.9 484.3h9.5v9.4h-9.5ZM161.9 634.8h18.9v9.4h-18.9Z" fill="#e94825"/><path d="M209.2 484.3h9.5v9.4h-9.5ZM218.7 616h9.5v9.4h-9.5Z" fill="#ea4826"/><path d="M228.2 484.3h9.5v9.4h-9.5Z" fill="#ee6f2b"/><path d="M237.6 484.3h9.5v9.4h-9.5ZM199.8 503.1h9.5v9.4h-9.5Z" fill="#f0882f"/><path d="M247.1 484.3h9.5v9.4h-9.5Z" fill="#f18d30"/><path d="M256.6 484.3h9.5v9.4h-9.5ZM133.6 597.1h9.5v9.4h-9.5ZM180.9 606.5h9.5v9.4h-9.5Z" fill="#f0812e"/><path d="M266 484.3h9.5v9.4h-9.5Z" fill="#ed682a"/><path d="M285 484.3h9.5v9.4h-9.5ZM285 568.9h9.5v9.4h-9.5ZM228.2 606.5h9.5v9.4h-9.5ZM124.1 616h9.5v9.4h-9.5Z" fill="#ea4c26"/><path d="M124.1 493.7h9.5v9.4h-9.5ZM285 503.1h9.5v9.4h-9.5ZM285 550.1h9.5v9.4h-9.5ZM266 578.3h9.5v9.4h-9.5ZM190.3 616h9.5v9.4h-9.5Z" fill="#eb5827"/><path d="M133.6 493.7h9.5v9.4h-9.5ZM275.5 540.7h9.5v9.4h-9.5ZM266 559.5h9.5v9.4h-9.5Z" fill="#f18b2f"/><path d="M143 493.7h9.5v9.4h-9.5ZM199.8 512.5h9.5v9.4h-9.5Z" fill="#f5ae37"/><path d="M152.5 493.7h9.5v9.4h-9.5ZM171.4 597.1h9.5v9.4h-9.5Z" fill="#f6ba3c"/><path d="M161.9 493.7h9.5v9.4h-9.5Z" fill="#f5b238"/><path d="M171.4 493.7h9.5v9.4h-9.5Z" fill="#f39b32"/><path d="M180.9 493.7h9.5v9.4h-9.5Z" fill="#ef7e2d"/><path d="M199.8 493.7h9.5v9.4h-9.5ZM143 616h9.5v9.4h-9.5Z" fill="#eb5a27"/><path d="M209.2 493.7h9.5v9.4h-9.5ZM199.8 606.5h9.5v9.4h-9.5ZM180.9 616h9.5v9.4h-9.5Z" fill="#ec5e28"/><path d="M218.7 493.7h9.5v9.4h-9.5ZM237.6 578.3h9.5v9.4h-9.5Z" fill="#ef7b2d"/><path d="M228.2 493.7h9.5v9.4h-9.5Z" fill="#f3a133"/><path d="M237.6 493.7h9.5v9.4h-9.5ZM209.2 521.9h9.5v9.4h-9.5Z" fill="#f7be3e"/><path d="M247.1 493.7h9.5v9.4h-9.5ZM199.8 521.9h9.5v9.4h-9.5ZM199.8 531.3h9.5v9.4h-9.5Z" fill="#f7c240"/><path d="M256.6 493.7h9.5v9.4h-9.5Z" fill="#f4ac36"/><path d="M266 493.7h9.5v9.4h-9.5ZM124.1 568.9h9.5v9.4h-9.5Z" fill="#f1892f"/><path d="M275.5 493.7h9.5v9.4h-9.5ZM171.4 616h9.5v9.4h-9.5Z" fill="#ec6329"/><path d="M285 493.7h9.5v9.4h-9.5ZM285 559.5h9.5v9.4h-9.5ZM199.8 616h9.5v9.4h-9.5ZM161.9 625.4h18.9v9.4h-18.9Z" fill="#eb5227"/><path d="M294.4 493.7h9.5v9.4h-9.5ZM294.4 559.5h9.5v9.4h-9.5ZM285 578.3h9.5v9.4h-9.5ZM275.5 587.7h9.5v9.4h-9.5ZM152.5 634.8h9.5v9.4h-9.5Z" fill="#e94725"/><path d="M124.1 503.1h9.5v9.4h-9.5ZM275.5 503.1h9.5v9.4h-9.5Z" fill="#ef792c"/><path d="M133.6 503.1h9.5v9.4h-9.5ZM180.9 503.1h9.5v9.4h-9.5Z" fill="#f9d147"/><path d="M143 503.1h9.5v9.4h-9.5ZM171.4 578.3h9.5v9.4h-9.5Z" fill="#fdf055"/><path d="M152.5 503.1h9.5v9.4h-9.5ZM237.6 512.5h18.9v9.4h-18.9ZM133.6 521.9h9.5v9.4h-9.5ZM133.6 531.3h9.5v9.4h-9.5ZM247.1 540.7h9.5v9.4h-9.5ZM171.4 568.9h9.5v9.4h-9.5Z" fill="#fdf758"/><path d="M161.9 503.1h9.5v9.4h-9.5Z" fill="#fdf557"/><path d="M171.4 503.1h9.5v9.4h-9.5ZM228.2 512.5h9.5v9.4h-9.5ZM256.6 512.5h9.5v9.4h-9.5ZM256.6 540.7h9.5v9.4h-9.5ZM133.6 550.1h9.5v9.4h-9.5ZM237.6 550.1h9.5v9.4h-9.5Z" fill="#fced53"/><path d="M190.3 503.1h9.5v9.4h-9.5ZM237.6 568.9h9.5v9.4h-9.5Z" fill="#f3a233"/><path d="M209.2 503.1h9.5v9.4h-9.5ZM275.5 512.5h9.5v9.4h-9.5Z" fill="#f18a2f"/><path d="M218.7 503.1h9.5v9.4h-9.5ZM209.2 550.1h9.5v9.4h-9.5ZM218.7 559.5h9.5v9.4h-9.5ZM180.9 597.1h9.5v9.4h-9.5Z" fill="#f4a834"/><path d="M228.2 503.1h9.5v9.4h-9.5ZM190.3 512.5h9.5v9.4h-9.5Z" fill="#fad649"/><path d="M237.6 503.1h18.9v9.4h-18.9Z" fill="#fceb52"/><path d="M256.6 503.1h9.5v9.4h-9.5Z" fill="#fbdb4b"/><path d="M266 503.1h9.5v9.4h-9.5Z" fill="#f4a934"/><path d="M124.1 512.5h9.5v9.4h-9.5Z" fill="#f29831"/><path d="M133.6 512.5h9.5v9.4h-9.5ZM180.9 559.5h9.5v9.4h-9.5Z" fill="#fdef54"/><path d="M143 512.5h9.5v9.4h-9.5Z" fill="#fdf971"/><path d="M152.5 512.5h9.5v9.4h-9.5Z" fill="#fefa81"/><path d="M161.9 512.5h9.5v9.4h-9.5ZM171.4 521.9h9.5v9.4h-9.5ZM171.4 531.3h9.5v9.4h-9.5Z" fill="#fefa7f"/><path d="M171.4 512.5h9.5v9.4h-9.5ZM152.5 559.5h9.5v9.4h-9.5Z" fill="#fdf86c"/><path d="M180.9 512.5h9.5v9.4h-9.5ZM180.9 550.1h9.5v9.4h-9.5Z" fill="#fdf256"/><path d="M209.2 512.5h9.5v9.4h-9.5Z" fill="#f5ac36"/><path d="M218.7 512.5h9.5v9.4h-9.5ZM190.3 568.9h9.5v9.4h-9.5Z" fill="#f9cf46"/><path d="M266 512.5h9.5v9.4h-9.5Z" fill="#f8c541"/><path d="M124.1 521.9h9.5v9.4h-9.5Z" fill="#f4a634"/><path d="M143 521.9h9.5v9.4h-9.5ZM143 531.3h9.5v9.4h-9.5Z" fill="#fefa83"/><path d="M152.5 521.9h9.5v9.4h-9.5ZM152.5 531.3h9.5v9.4h-9.5Z" fill="#fefb96"/><path d="M161.9 521.9h9.5v9.4h-9.5ZM161.9 531.3h9.5v9.4h-9.5Z" fill="#fefb93"/><path d="M180.9 521.9h9.5v9.4h-9.5ZM152.5 568.9h9.5v9.4h-9.5Z" fill="#fdf75e"/><path d="M190.3 521.9h9.5v9.4h-9.5ZM190.3 531.3h9.5v9.4h-9.5ZM180.9 578.3h9.5v9.4h-9.5Z" fill="#fce851"/><path d="M218.7 521.9h9.5v9.4h-9.5Z" fill="#fce34e"/><path d="M228.2 521.9h9.5v9.4h-9.5ZM256.6 521.9h9.5v9.4h-9.5ZM228.2 531.3h9.5v9.4h-9.5ZM256.6 531.3h9.5v9.4h-9.5ZM133.6 540.7h9.5v9.4h-9.5Z" fill="#fdf356"/><path d="M237.6 521.9h9.5v9.4h-9.5ZM237.6 531.3h18.9v9.4h-18.9Z" fill="#fdf865"/><path d="M247.1 521.9h9.5v9.4h-9.5Z" fill="#fdf864"/><path d="M266 521.9h9.5v9.4h-9.5ZM266 531.3h9.5v9.4h-9.5Z" fill="#fad549"/><path d="M275.5 521.9h9.5v9.4h-9.5ZM275.5 531.3h9.5v9.4h-9.5Z" fill="#f29431"/><path d="M285 521.9h9.5v9.4h-9.5ZM285 531.3h9.5v9.4h-9.5ZM209.2 597.1h9.5v9.4h-9.5Z" fill="#ec6128"/><path d="M294.4 521.9h9.5v9.4h-9.5ZM294.4 531.3h9.5v9.4h-9.5Z" fill="#ea4f26"/><path d="M124.1 531.3h9.5v9.4h-9.5ZM199.8 568.9h9.5v9.4h-9.5Z" fill="#f4a734"/><path d="M180.9 531.3h9.5v9.4h-9.5Z" fill="#fdf75f"/><path d="M209.2 531.3h9.5v9.4h-9.5ZM161.9 597.1h9.5v9.4h-9.5Z" fill="#f7bf3e"/><path d="M218.7 531.3h9.5v9.4h-9.5Z" fill="#fce34f"/><path d="M124.1 540.7h9.5v9.4h-9.5Z" fill="#f39f33"/><path d="M143 540.7h9.5v9.4h-9.5Z" fill="#fef978"/><path d="M152.5 540.7h9.5v9.4h-9.5Z" fill="#fefa8a"/><path d="M161.9 540.7h9.5v9.4h-9.5Z" fill="#fefa88"/><path d="M171.4 540.7h9.5v9.4h-9.5Z" fill="#fdf975"/><path d="M180.9 540.7h9.5v9.4h-9.5Z" fill="#fdf658"/><path d="M190.3 540.7h9.5v9.4h-9.5Z" fill="#fce44f"/><path d="M199.8 540.7h9.5v9.4h-9.5Z" fill="#f6b93c"/><path d="M209.2 540.7h9.5v9.4h-9.5ZM152.5 597.1h9.5v9.4h-9.5Z" fill="#f6b53a"/><path d="M218.7 540.7h9.5v9.4h-9.5Z" fill="#fad548"/><path d="M228.2 540.7h9.5v9.4h-9.5Z" fill="#fcee54"/><path d="M237.6 540.7h9.5v9.4h-9.5Z" fill="#fdf759"/><path d="M266 540.7h9.5v9.4h-9.5Z" fill="#f8c641"/><path d="M124.1 550.1h9.5v9.4h-9.5Z" fill="#f29731"/><path d="M143 550.1h9.5v9.4h-9.5Z" fill="#fdf869"/><path d="M152.5 550.1h9.5v9.4h-9.5Z" fill="#fef97b"/><path d="M161.9 550.1h9.5v9.4h-9.5Z" fill="#fef97a"/><path d="M171.4 550.1h9.5v9.4h-9.5Z" fill="#fdf86a"/><path d="M190.3 550.1h9.5v9.4h-9.5Z" fill="#fad94a"/><path d="M199.8 550.1h9.5v9.4h-9.5Z" fill="#f5b038"/><path d="M218.7 550.1h9.5v9.4h-9.5Z" fill="#f7bf3f"/><path d="M228.2 550.1h9.5v9.4h-9.5Z" fill="#fce54f"/><path d="M247.1 550.1h9.5v9.4h-9.5ZM180.9 568.9h9.5v9.4h-9.5Z" fill="#fcec53"/><path d="M256.6 550.1h9.5v9.4h-9.5Z" fill="#fbdd4c"/><path d="M266 550.1h9.5v9.4h-9.5Z" fill="#f4aa35"/><path d="M275.5 550.1h9.5v9.4h-9.5Z" fill="#ef7a2c"/><path d="M114.6 559.5h9.5v9.4h-9.5ZM256.6 597.1h9.5v9.4h-9.5ZM114.6 606.5h9.5v9.4h-9.5ZM133.6 625.4h9.5v9.4h-9.5Z" fill="#ea4a26"/><path d="M124.1 559.5h9.5v9.4h-9.5ZM190.3 597.1h9.5v9.4h-9.5Z" fill="#f19030"/><path d="M133.6 559.5h9.5v9.4h-9.5ZM171.4 587.7h9.5v9.4h-9.5Z" fill="#fce750"/><path d="M143 559.5h9.5v9.4h-9.5Z" fill="#fdf75b"/><path d="M161.9 559.5h9.5v9.4h-9.5Z" fill="#fdf86d"/><path d="M171.4 559.5h9.5v9.4h-9.5ZM161.9 568.9h9.5v9.4h-9.5Z" fill="#fdf861"/><path d="M190.3 559.5h9.5v9.4h-9.5ZM133.6 568.9h9.5v9.4h-9.5Z" fill="#fad448"/><path d="M199.8 559.5h9.5v9.4h-9.5Z" fill="#f4ab35"/><path d="M209.2 559.5h9.5v9.4h-9.5Z" fill="#f39d32"/><path d="M228.2 559.5h9.5v9.4h-9.5Z" fill="#f7c03f"/><path d="M237.6 559.5h9.5v9.4h-9.5Z" fill="#f9d146"/><path d="M247.1 559.5h9.5v9.4h-9.5Z" fill="#f9cc44"/><path d="M256.6 559.5h9.5v9.4h-9.5Z" fill="#f5b138"/><path d="M275.5 559.5h9.5v9.4h-9.5ZM256.6 578.3h9.5v9.4h-9.5ZM161.9 616h9.5v9.4h-9.5Z" fill="#ed6429"/><path d="M143 568.9h9.5v9.4h-9.5ZM152.5 578.3h9.5v9.4h-9.5Z" fill="#fdf155"/><path d="M209.2 568.9h9.5v9.4h-9.5Z" fill="#f29331"/><path d="M218.7 568.9h9.5v9.4h-9.5Z" fill="#f29330"/><path d="M228.2 568.9h9.5v9.4h-9.5ZM247.1 568.9h9.5v9.4h-9.5Z" fill="#f39c32"/><path d="M256.6 568.9h9.5v9.4h-9.5Z" fill="#f1882f"/><path d="M266 568.9h9.5v9.4h-9.5Z" fill="#ed6c2a"/><path d="M124.1 578.3h9.5v9.4h-9.5Z" fill="#f0802d"/><path d="M133.6 578.3h9.5v9.4h-9.5Z" fill="#f7bc3d"/><path d="M143 578.3h9.5v9.4h-9.5ZM161.9 587.7h9.5v9.4h-9.5Z" fill="#fce951"/><path d="M161.9 578.3h9.5v9.4h-9.5Z" fill="#fdf456"/><path d="M190.3 578.3h9.5v9.4h-9.5Z" fill="#f8c440"/><path d="M199.8 578.3h9.5v9.4h-9.5Z" fill="#f39e32"/><path d="M209.2 578.3h9.5v9.4h-9.5ZM152.5 606.5h9.5v9.4h-9.5Z" fill="#f0872f"/><path d="M218.7 578.3h9.5v9.4h-9.5Z" fill="#ef7d2d"/><path d="M228.2 578.3h9.5v9.4h-9.5Z" fill="#ef7c2d"/><path d="M247.1 578.3h9.5v9.4h-9.5Z" fill="#ee742b"/><path d="M124.1 587.7h9.5v9.4h-9.5Z" fill="#ee712b"/><path d="M133.6 587.7h9.5v9.4h-9.5Z" fill="#f3a033"/><path d="M143 587.7h9.5v9.4h-9.5Z" fill="#f8c943"/><path d="M152.5 587.7h9.5v9.4h-9.5Z" fill="#fce550"/><path d="M180.9 587.7h9.5v9.4h-9.5Z" fill="#f9d046"/><path d="M190.3 587.7h9.5v9.4h-9.5Z" fill="#f5ad36"/><path d="M199.8 587.7h9.5v9.4h-9.5ZM161.9 606.5h9.5v9.4h-9.5Z" fill="#f18e30"/><path d="M209.2 587.7h9.5v9.4h-9.5Z" fill="#ee762c"/><path d="M218.7 587.7h9.5v9.4h-9.5Z" fill="#ed6729"/><path d="M228.2 587.7h9.5v9.4h-9.5Z" fill="#ec6028"/><path d="M247.1 587.7h9.5v9.4h-9.5ZM218.7 597.1h9.5v9.4h-9.5Z" fill="#eb5927"/><path d="M124.1 597.1h9.5v9.4h-9.5ZM152.5 616h9.5v9.4h-9.5Z" fill="#ec5f28"/><path d="M143 597.1h9.5v9.4h-9.5Z" fill="#f39f32"/><path d="M199.8 597.1h9.5v9.4h-9.5Z" fill="#ef772c"/><path d="M228.2 597.1h9.5v9.4h-9.5ZM124.1 606.5h9.5v9.4h-9.5Z" fill="#eb5527"/><path d="M237.6 597.1h9.5v9.4h-9.5Z" fill="#eb5127"/><path d="M133.6 606.5h9.5v9.4h-9.5Z" fill="#ec6229"/><path d="M143 606.5h9.5v9.4h-9.5Z" fill="#ef782c"/><path d="M171.4 606.5h9.5v9.4h-9.5Z" fill="#f18c2f"/><path d="M190.3 606.5h9.5v9.4h-9.5Z" fill="#ee702b"/><path d="M237.6 606.5h9.5v9.4h-9.5ZM199.8 625.4h9.5v9.4h-9.5Z" fill="#ea4926"/></g></g><path d="M20 681.8L322.8 380.8" stroke="#000" stroke-width="1.1"/><rect x="20" y="380.8" width="302.8" height="301" fill="none" stroke="#000" stroke-width="1.9"/><text x="171.4" y="708.2" text-anchor="middle" textLength="123.7" lengthAdjust="spacingAndGlyphs">Image plot</text><g clip-path="url(#u4)"><path d="M449 512.6l2.6 0.3 1.3 0.6 2.3 1.8 1.6 2.2 1.4 2.9 1.1 3.9 0.7 6.4-0.7 7.1-1.9 5.7-1.6 2.5-1.6 1.6-1.5 1-2.4 0.8-2.5-0.1-2.6-1.1-3.8-3.5-2.6-5.1-1.3-6.4 0.3-6.4 0.9-3.7 1.3-3.1 1.3-2.1 2.6-2.9 2.6-1.7 1.9-0.6z" fill="#969696" fill-rule="evenodd"/><path d="M447.8 493.5l3.8-0.3 3.9 0.9 3.8 2.5 2.8 3.3 2.4 4.9 1.6 5.4 1.4 7.7 0.9 8.9 0 7.7-0.7 7.7-1.3 6.4-1.9 5.7-2.6 4.7-2.6 3.2-3.8 3.1-3.9 1.5-3.8 0.3-5.2-1.2-5.1-3-3.9-3.8-3.7-5.4-2.8-5.9-1.9-6.9-0.9-6.4 0.1-7.7 1.1-6.4 1.9-6.4 3-6.4 3.6-5.1 4.7-4.7 3.9-2.5 4.9-1.8zM448.4 512.7l-1.9 0.6-2.6 1.7-2.6 2.9-1.3 2.1-1.3 3.1-0.9 3.7-0.3 6.4 1.3 6.4 2.6 5.1 3.8 3.5 2.6 1.1 2.5 0.1 2.4-0.8 1.5-1 1.6-1.6 1.6-2.5 1.9-5.7 0.7-7.1-0.7-6.4-1.1-3.9-1.4-2.9-1.6-2.2-2.3-1.8-1.3-0.6-2.6-0.3z" fill="#9e9e9e" fill-rule="evenodd"/><path d="M530.2 443.5l7.7-0.8 5.2 0.4 3.8 0.8 3.9 1.3 3.9 1.9 2.5 1.7 2.8 2.5 2 2.5 1.1 2.6 0.5 2.6-0.1 2.5-1 2.6-2.3 2.5-1.9 1.3-3.6 1.4-3.9 0.6-5.2 0.1-10.3-1.3-5.1-1.3-5.6-2-2.5-1.3-3.6-2.6-2.1-2.5-0.9-2.6 0.2-2.6 1.1-2.5 2.3-2.6 3.4-2.4 3-1.4 4.2-1.3zM449 472.9l6.5-0.6 3.8 0.4 2.6 0.7 2.6 1.3 2.6 2 2.8 4 1.7 5.1 1.2 7.7 0.9 14.1 0.7 20.5-0.2 11.5-0.9 10.3-1.9 8.9-2.6 7.7-3.4 6.4-4.8 5.9-5.1 3.8-5.2 1.8-2.5 0.4-3.9-0.2-3.9-0.8-3.8-1.6-3.9-2.2-3.9-3-6.1-6.6-4.8-7.7-4.3-10.3-2.4-10.2-0.8-10.3 0.6-10.2 2.2-10.2 3.3-9 4.6-8.5 6.4-8.1 6.5-5.8 7.7-4.6 7.2-2.5zM447.5 493.5l-4.9 1.8-3.9 2.5-4.7 4.7-3.6 5.1-3 6.4-1.9 6.4-1.1 6.4-0.1 7.7 0.9 6.4 1.9 6.9 2.8 5.9 3.7 5.4 3.9 3.8 5.1 3 5.2 1.2 3.8-0.3 3.9-1.5 3.8-3.1 2.6-3.2 2.6-4.7 1.9-5.7 1.3-6.4 0.7-7.7 0-7.7-0.9-8.9-1.4-7.7-1.6-5.4-2.4-4.9-2.8-3.3-3.8-2.5-3.9-0.9-3.8 0.3z" fill="#a5a5a5" fill-rule="evenodd"/><path d="M382.1 378.3l251.1 0-8.2 20.5-7.7 17.9-7.7 16.6-7.9 15.4-6.7 11.5-6.1 9-5.3 6.4-5.7 5-3.9 2.3-3.9 1.5-3.8 0.7-5.2 0.1-7.7-0.9-36.1-5.8-7.7-0.8-6.5 0-5.1 0.9-5.1 2.1-3.9 3.2-2.6 3.4-1.9 3.7-1.9 5.1-2 10.2-0.8 11.6-0.2 24.3-0.6 11.5-1.6 12-2.6 11.4-3.9 12.7-3.8 10.9-32.3 83.6-54 0 0-306zM529.7 443.6l-4.2 1.3-3 1.4-3.4 2.4-2.3 2.6-1.1 2.5-0.2 2.6 0.9 2.6 2.1 2.5 3.6 2.6 2.5 1.3 5.6 2 5.1 1.3 10.3 1.3 5.2-0.1 3.9-0.6 3.6-1.4 1.9-1.3 2.3-2.5 1-2.6 0.1-2.5-0.5-2.6-1.1-2.6-2-2.5-2.8-2.5-2.5-1.7-3.9-1.9-3.9-1.3-3.8-0.8-5.2-0.4-7.7 0.8zM448.5 473l-7.2 2.5-7.7 4.6-6.5 5.8-6.4 8.1-4.6 8.5-3.3 9-2.2 10.2-0.6 10.2 0.8 10.3 2.4 10.2 4.3 10.3 4.8 7.7 6.1 6.6 3.9 3 3.9 2.2 3.8 1.6 3.9 0.8 3.9 0.2 2.5-0.4 5.2-1.8 5.1-3.8 4.8-5.9 3.4-6.4 2.6-7.7 1.9-8.9 0.9-10.3 0.2-11.5-0.7-20.5-0.9-14.1-1.2-7.7-1.7-5.1-2.8-4-2.6-2-2.6-1.3-2.6-0.7-3.8-0.4-6.5 0.6z" fill="#acacac" fill-rule="evenodd"/><path d="M633.2 378.3l55.4 0 0 306-253.8 0 32.3-83.6 3.8-10.9 3.9-12.7 2.6-11.4 1.6-12 0.6-11.5 0.2-24.3 0.8-11.6 2-10.2 1.9-5.1 1.9-3.7 2.6-3.4 3.9-3.2 5.1-2.1 5.1-0.9 6.5 0 7.7 0.8 36.1 5.8 7.7 0.9 5.2-0.1 3.8-0.7 3.9-1.5 3.9-2.3 5.7-5 5.3-6.4 6.1-9 6.7-11.5 7.9-15.4 7.7-16.6 7.7-17.9 8.2-20.5zM610.8 475.6l-4.6 1.7-5.2 2.7-19.3 14.1-3.8 1.9-3.9 1.2-3.9 0.3-5.1-0.5-20.6-5.8-11.6-2.4-11.6-1.4-9-0.2-7.8 1.2-3.7 1.3-2.7 1.4-2.6 1.9-2.6 2.6-2.1 3-2 3.9-2.6 9-1.2 10.2 0 34.6-0.8 25.6 0.2 6.4 0.8 6.4 1.3 5.1 2.1 5.1 4.3 6.4 5.2 5.1 6.4 4.4 9 3.9 9.1 2.3 9 0.9 10.3-0.6 9-2 7.7-2.8 6.7-3.5 6.2-4 12.9-9.7 6.4-3.7 6.5-2.5 20.6-5.3 6.4-2.6 6.5-3.5 7.7-5.8 6.1-6.4 5.4-7.7 4.5-9 2.7-7.7 1.7-7.6 0.9-7.7 0.1-7.7-0.8-7.7-1.6-7.7-2.5-7.6-3-6.5-4-6.4-4.4-5.3-5.1-4.8-5.2-3.5-5.1-2.3-5.2-1.4-6.4-0.3-5.2 0.8z" fill="#bdbdbd" fill-rule="evenodd"/><path d="M611.3 475.4l5.2-0.8 6.4 0.3 5.2 1.4 5.1 2.3 5.2 3.5 5.1 4.8 4.4 5.3 4 6.4 3 6.5 2.5 7.6 1.6 7.7 0.8 7.7-0.1 7.7-0.9 7.7-1.7 7.6-2.7 7.7-4.5 9-5.4 7.7-6.1 6.4-7.7 5.8-6.5 3.5-6.4 2.6-20.6 5.3-6.5 2.5-6.4 3.7-12.9 9.7-6.2 4-6.7 3.5-7.7 2.8-9 2-10.3 0.6-9-0.9-9.1-2.3-9-3.9-6.4-4.4-5.2-5.1-4.3-6.4-2.1-5.1-1.3-5.1-0.8-6.4-0.2-6.4 0.8-25.6 0-34.6 1.2-10.2 2.6-9 2-3.9 2.1-3 2.6-2.6 2.6-1.9 2.7-1.4 3.7-1.3 7.8-1.2 9 0.2 11.6 1.4 11.6 2.4 20.6 5.8 5.1 0.5 3.9-0.3 3.9-1.2 3.8-1.9 19.3-14.1 5.2-2.7 4.6-1.7zM609.2 491l-4.3 1.4-5.2 2.8-5.1 3.6-12.9 10.6-3.8 2.2-2.6 0.8-2.6 0-3.9-1.1-15.7-8.8-9.1-3.9-9.9-2.6-10.3-1.4-10.4 0.2-3.8 0.7-3.9 1.2-3.8 1.9-2.6 2-2.6 2.8-2 2.9-2.3 5.2-1.6 6.4-0.9 7.6-0.1 9 0.8 14.1 2.1 24.3 1.6 9 2.6 7.7 2.7 5.1 4.1 5.1 4.6 4 6.4 3.7 6.5 2.2 6.4 1.2 7.7 0.2 6.5-1 6.4-2.2 5.2-2.7 5.1-3.9 3.9-4 5.2-7.7 3-6.4 4.7-12 1.3-1.9 1.3-1.1 1.2-0.4 2.6 0.2 11.6 5.5 7.7 2.5 6.5 0.7 6.4-0.5 7.7-2.5 6.5-3.8 6.4-5.9 5.2-7.4 2.6-5.5 1.8-5.1 1.4-6.4 0.6-6.4-0.2-6.4-0.7-5.1-1.6-6.4-2-5.1-2.7-5.1-3.1-4.3-3.9-4-3.8-2.8-3.9-2-5.1-1.5-3.9-0.3-5.1 0.5z" fill="#c9c9c9" fill-rule="evenodd"/><path d="M610.1 490.7l5.1-0.5 3.9 0.3 5.1 1.5 3.9 2 3.8 2.8 3.9 4 3.1 4.3 2.7 5.1 2 5.1 1.6 6.4 0.7 5.1 0.2 6.4-0.6 6.4-1.4 6.4-1.8 5.1-2.6 5.5-5.2 7.4-6.4 5.9-6.5 3.8-7.7 2.5-6.4 0.5-6.5-0.7-7.7-2.5-11.6-5.5-2.6-0.2-1.2 0.4-1.3 1.1-1.3 1.9-4.7 12-3 6.4-5.2 7.7-3.9 4-5.1 3.9-5.2 2.7-6.4 2.2-6.5 1-7.7-0.2-6.4-1.2-6.5-2.2-6.4-3.7-4.6-4-4.1-5.1-2.7-5.1-2.6-7.7-1.6-9-2.1-24.3-0.8-14.1 0.1-9 0.9-7.6 1.6-6.4 2.3-5.2 2-2.9 2.6-2.8 2.6-2 3.8-1.9 3.9-1.2 3.8-0.7 10.4-0.2 10.3 1.4 9.9 2.6 9.1 3.9 15.7 8.8 3.9 1.1 2.6 0 2.6-0.8 3.8-2.2 12.9-10.6 5.1-3.6 5.2-2.8 4.3-1.4zM512.4 502.5l-6 2.6-4.6 3.8-1.8 2.6-2 3.8-1.8 6.4-0.8 7.7 0.4 10.2 1.8 12.8 3 13.4 2.5 8.4 2.6 5.7 3.8 5.8 3.9 3.9 5.2 3.4 6.4 2.3 6.5 0.7 5.1-0.7 5.2-2 5-3.7 3.8-5.2 2.1-5.1 1.5-6.4 2.3-17.9 3.7-19.2 0.3-5.1-0.6-5.2-2.5-6.4-3.7-5.1-4.2-3.8-6.2-3.9-6.7-2.6-7.7-1.8-7.7-0.5-7.8 0.8zM610.9 503.8l-4.7 1.4-3.9 2.1-3.8 3.2-3.9 4.5-2.5 4.1-2 5.2-0.8 3.8-0.1 5.1 0.8 5.1 2 6.4 2.6 5.2 3.9 5 3.8 3.1 3.9 1.9 3.9 0.9 5.1-0.3 3.9-1.2 3.8-2.3 3.8-3.3 2.9-3.8 2.6-5.2 1.7-5.1 0.8-5.1 0.1-5.1-0.7-5.1-1.4-5.2-2.5-5.1-2.8-3.8-3.2-3-3.8-2.2-3.9-1.2-5.2-0.1z" fill="#d5d5d5" fill-rule="evenodd"/><path d="M513.4 502.2l7.8-0.8 7.7 0.5 7.7 1.8 6.7 2.6 6.2 3.9 4.2 3.8 3.7 5.1 2.5 6.4 0.6 5.2-0.3 5.1-3.7 19.2-2.3 17.9-1.5 6.4-2.1 5.1-3.8 5.2-5 3.7-5.2 2-5.1 0.7-6.5-0.7-6.4-2.3-5.2-3.4-3.9-3.9-3.8-5.8-2.6-5.7-2.5-8.4-3-13.4-1.8-12.8-0.4-10.2 0.8-7.7 1.8-6.4 2-3.8 1.8-2.6 4.6-3.8 6-2.6zM515.1 510.2l-3 1.3-3.8 2.6-2.6 3.2-2.1 4.4-0.9 3.8-0.5 5.2 0.2 5.1 1.1 6.4 2.2 7.6 2.6 6.3 2.6 5 3.8 5.6 3.9 4 3.9 2.4 3.8 1.1 3.9-0.4 3.7-2.2 2.7-3.1 2.6-4.7 2.6-6.2 3.8-11 2.3-8.3 0.7-6.4-0.4-5.1-1.1-3.8-2.1-3.9-3.2-3.4-4.2-3-6.1-2.5-5.2-1-5.1-0.1-5.2 0.8zM611.3 503.7l5.2 0.1 3.9 1.2 3.8 2.2 3.2 3 2.8 3.8 2.5 5.1 1.4 5.2 0.7 5.1-0.1 5.1-0.8 5.1-1.7 5.1-2.6 5.2-2.9 3.8-3.8 3.3-3.8 2.3-3.9 1.2-5.1 0.3-3.9-0.9-3.9-1.9-3.8-3.1-3.9-5-2.6-5.2-2-6.4-0.8-5.1 0.1-5.1 0.8-3.8 2-5.2 2.5-4.1 3.9-4.5 3.8-3.2 3.9-2.1 4.7-1.4zM609.3 523l-1.8 1.7-1.7 3.4-0.4 3.8 0.8 3.9 1.3 2.2 1.3 1.4 2.5 1.4 2.6 0.1 2.6-1.2 2.2-2.6 1-2.6 0.4-3.8-0.8-3.9-1.5-2.6-2.6-1.9-2.6-0.5-2.5 0.7z" fill="#e0e0e0" fill-rule="evenodd"/><path d="M516 509.9l5.2-0.8 5.1 0.1 5.2 1 6.1 2.5 4.2 3 3.2 3.4 2.1 3.9 1.1 3.8 0.4 5.1-0.7 6.4-2.3 8.3-3.8 11-2.6 6.2-2.6 4.7-2.7 3.1-3.7 2.2-3.9 0.4-3.8-1.1-3.9-2.4-3.9-4-3.8-5.6-2.6-5-2.6-6.3-2.2-7.6-1.1-6.4-0.2-5.1 0.5-5.2 0.9-3.8 2.1-4.4 2.6-3.2 3.8-2.6 3-1.3zM518.5 521.7l-3 2.6-1.9 3.8-0.3 5.1 1 3.9 2.2 3.8 3.4 2.9 3.9 1.1 3.8-1.1 2.3-1.6 1.6-1.8 2.4-4.6 0.8-5.1-0.9-3.9-2.3-3.2-3.9-2.4-2.6-0.6-2.5-0.1-3.9 1.1zM610.1 522.5l2.5-0.7 2.6 0.5 2.6 1.9 1.5 2.6 0.8 3.9-0.4 3.8-1 2.6-2.2 2.6-2.6 1.2-2.6-0.1-2.5-1.4-1.3-1.4-1.3-2.2-0.8-3.9 0.4-3.8 1.7-3.4 1.8-1.7z" fill="#ececec" fill-rule="evenodd"/><path d="M518.6 521.6l3.9-1.1 2.5 0.1 2.6 0.6 3.9 2.4 2.3 3.2 0.9 3.9-0.8 5.1-2.4 4.6-1.6 1.8-2.3 1.6-3.8 1.1-3.9-1.1-3.4-2.9-2.2-3.8-1-3.9 0.3-5.1 1.9-3.8 3-2.6z" fill="#f7f7f7" fill-rule="evenodd"/><path d="M449 512.6l-3.8 1.4-3.9 3.9-2.6 5.2-0.9 3.7-0.4 3.9 0.7 6.4 1.2 3.8 1.3 2.6 3.3 3.8 2.6 1.6 2.5 0.5 3.9-0.9 2.6-2.1 1.3-1.8 1.3-2.5 1.1-3.8 0.8-6.4-0.7-7.6-2.3-6.4-2.8-3.6-1.3-0.8-2.6-0.9z" fill="none" stroke="#1a1a1a" stroke-width="1.55" stroke-dasharray="5 3"/><path d="M447.8 493.5l-5.2 1.8-3.9 2.5-3.8 3.7-3.9 5.1-3.1 6.1-2 6.1-1.3 6.7-0.3 6.4 0.4 6.4 1.4 6.4 2.4 6.4 2.9 5.2 4.4 5.1 4.2 3.2 4.3 1.9 4.7 0.6 3.9-0.7 3.9-1.9 3.8-3.7 2.9-4.5 2.3-5.4 1.5-6.2 1-7.6 0.1-7.7-0.5-9-1.2-7.7-1.7-6.4-2.1-5.1-2.8-3.8-3.3-2.7-3.9-1.4-5.1 0.2" fill="none" stroke="#1a1a1a" stroke-width="1.55" stroke-dasharray="5 3"/><path d="M530.2 443.5l-4.7 1.4-4.3 2.2-3.4 2.9-1.7 2.6-0.6 3.8 0.9 2.6 2.1 2.5 2.7 2 3.8 2 7 2.4 7.2 1.5 7.7 0.6 6.5-0.5 3.8-1.1 3-1.8 2.3-2.5 1.1-3.9-0.1-2.5-0.9-2.6-2.6-3.8-4-3.4-5.2-2.7-6.4-1.8-7.8-0.7-6.4 0.8M449 472.9l-7.7 2.6-6.4 3.7-6.5 5.4-6.5 7.6-4.6 7.7-3.7 9-2.6 10.2-1 10.3 0.4 10.2 2 10.3 3.8 10.2 4.3 7.7 5.4 6.7 6.4 5.5 3.9 2.2 3.8 1.6 6.5 1 5.1-0.7 5.2-2.3 5.1-4.3 4.3-5.9 3.5-7.2 2.5-8.7 1.6-9.7 0.6-10.2-0.2-15.4-1.1-23-1-9-1.7-6.4-1.2-2.6-1.9-2.5-4.1-2.9-2.6-1-3.8-0.6-3.9 0-3.9 0.5" fill="none" stroke="#1a1a1a" stroke-width="1.55" stroke-dasharray="5 3"/><path d="M434.8 684.3l32.3-83.6 3.8-10.9 3.9-12.7 2.6-11.4 1.6-12 0.6-11.5 0.2-24.3 0.8-11.6 2-10.2 1.9-5.1 1.9-3.7 2.6-3.4 3.9-3.2 5.1-2.1 5.1-0.9 6.5 0 7.7 0.8 36.1 5.8 7.7 0.9 5.2-0.1 3.8-0.7 3.9-1.5 3.9-2.3 5.7-5 5.3-6.4 6.1-9 6.7-11.5 7.9-15.4 7.7-16.6 7.7-17.9 8.2-20.5" fill="none" stroke="#1a1a1a" stroke-width="1.55"/><path d="M611.3 475.4l5.2-0.8 6.4 0.3 5.2 1.4 5.1 2.3 5.2 3.5 5.1 4.8 4.4 5.3 4 6.4 3 6.5 2.5 7.6 1.6 7.7 0.8 7.7-0.1 7.7-0.9 7.7-1.7 7.6-2.7 7.7-4.5 9-5.4 7.7-6.1 6.4-7.7 5.8-6.5 3.5-6.4 2.6-20.6 5.3-6.5 2.5-6.4 3.7-12.9 9.7-6.2 4-6.7 3.5-7.7 2.8-9 2-10.3 0.6-9-0.9-9.1-2.3-9-3.9-6.4-4.4-5.2-5.1-4.3-6.4-2.1-5.1-1.3-5.1-0.8-6.4-0.2-6.4 0.8-25.6 0-34.6 1.2-10.2 2.6-9 2-3.9 2.1-3 2.6-2.6 2.6-1.9 2.7-1.4 3.7-1.3 7.8-1.2 9 0.2 11.6 1.4 11.6 2.4 20.6 5.8 5.1 0.5 3.9-0.3 3.9-1.2 3.8-1.9 19.3-14.1 5.2-2.7 4.6-1.7z" fill="none" stroke="#1a1a1a" stroke-width="1.55"/><path d="M610.1 490.7l5.1-0.5 3.9 0.3 5.1 1.5 3.9 2 3.8 2.8 3.9 4 3.1 4.3 2.7 5.1 2 5.1 1.6 6.4 0.7 5.1 0.2 6.4-0.6 6.4-1.4 6.4-1.8 5.1-2.6 5.5-5.2 7.4-6.4 5.9-6.5 3.8-7.7 2.5-6.4 0.5-6.5-0.7-7.7-2.5-11.6-5.5-2.6-0.2-1.2 0.4-1.3 1.1-1.3 1.9-4.7 12-3 6.4-5.2 7.7-3.9 4-5.1 3.9-5.2 2.7-6.4 2.2-6.5 1-7.7-0.2-6.4-1.2-6.5-2.2-6.4-3.7-4.6-4-4.1-5.1-2.7-5.1-2.6-7.7-1.6-9-2.1-24.3-0.8-14.1 0.1-9 0.9-7.6 1.6-6.4 2.3-5.2 2-2.9 2.6-2.8 2.6-2 3.8-1.9 3.9-1.2 3.8-0.7 10.4-0.2 10.3 1.4 9.9 2.6 9.1 3.9 15.7 8.8 3.9 1.1 2.6 0 2.6-0.8 3.8-2.2 12.9-10.6 5.1-3.6 5.2-2.8 4.3-1.4z" fill="none" stroke="#1a1a1a" stroke-width="1.55"/><path d="M513.4 502.2l7.8-0.8 7.7 0.5 7.7 1.8 6.7 2.6 6.2 3.9 4.2 3.8 3.7 5.1 2.5 6.4 0.6 5.2-0.3 5.1-3.7 19.2-2.3 17.9-1.5 6.4-2.1 5.1-3.8 5.2-5 3.7-5.2 2-5.1 0.7-6.5-0.7-6.4-2.3-5.2-3.4-3.9-3.9-3.8-5.8-2.6-5.7-2.5-8.4-3-13.4-1.8-12.8-0.4-10.2 0.8-7.7 1.8-6.4 2-3.8 1.8-2.6 4.6-3.8 6-2.6zM611.3 503.7l5.2 0.1 3.9 1.2 3.8 2.2 3.2 3 2.8 3.8 2.5 5.1 1.4 5.2 0.7 5.1-0.1 5.1-0.8 5.1-1.7 5.1-2.6 5.2-2.9 3.8-3.8 3.3-3.8 2.3-3.9 1.2-5.1 0.3-3.9-0.9-3.9-1.9-3.8-3.1-3.9-5-2.6-5.2-2-6.4-0.8-5.1 0.1-5.1 0.8-3.8 2-5.2 2.5-4.1 3.9-4.5 3.8-3.2 3.9-2.1 4.7-1.4z" fill="none" stroke="#1a1a1a" stroke-width="1.55"/><path d="M516 509.9l5.2-0.8 5.1 0.1 5.2 1 6.1 2.5 4.2 3 3.2 3.4 2.1 3.9 1.1 3.8 0.4 5.1-0.7 6.4-2.3 8.3-3.8 11-2.6 6.2-2.6 4.7-2.7 3.1-3.7 2.2-3.9 0.4-3.8-1.1-3.9-2.4-3.9-4-3.8-5.6-2.6-5-2.6-6.3-2.2-7.6-1.1-6.4-0.2-5.1 0.5-5.2 0.9-3.8 2.1-4.4 2.6-3.2 3.8-2.6 3-1.3zM610.1 522.5l2.5-0.7 2.6 0.5 2.6 1.9 1.5 2.6 0.8 3.9-0.4 3.8-1 2.6-2.2 2.6-2.6 1.2-2.6-0.1-2.5-1.4-1.3-1.4-1.3-2.2-0.8-3.9 0.4-3.8 1.7-3.4 1.8-1.7z" fill="none" stroke="#1a1a1a" stroke-width="1.55"/><path d="M518.6 521.6l3.9-1.1 2.5 0.1 2.6 0.6 3.9 2.4 2.3 3.2 0.9 3.9-0.8 5.1-2.4 4.6-1.6 1.8-2.3 1.6-3.8 1.1-3.9-1.1-3.4-2.9-2.2-3.8-1-3.9 0.3-5.1 1.9-3.8 3-2.6z" fill="none" stroke="#1a1a1a" stroke-width="1.55"/></g><g clip-path="url(#l4)"><path d="M449 512.6l2.6 0.3 1.3 0.6 2.3 1.8 1.6 2.2 1.4 2.9 1.1 3.9 0.7 6.4-0.7 7.1-1.9 5.7-1.6 2.5-1.6 1.6-1.5 1-2.4 0.8-2.5-0.1-2.6-1.1-3.8-3.5-2.6-5.1-1.3-6.4 0.3-6.4 0.9-3.7 1.3-3.1 1.3-2.1 2.6-2.9 2.6-1.7 1.9-0.6z" fill="#5f7fae" fill-rule="evenodd"/><path d="M447.8 493.5l3.8-0.3 3.9 0.9 3.8 2.5 2.8 3.3 2.4 4.9 1.6 5.4 1.4 7.7 0.9 8.9 0 7.7-0.7 7.7-1.3 6.4-1.9 5.7-2.6 4.7-2.6 3.2-3.8 3.1-3.9 1.5-3.8 0.3-5.2-1.2-5.1-3-3.9-3.8-3.7-5.4-2.8-5.9-1.9-6.9-0.9-6.4 0.1-7.7 1.1-6.4 1.9-6.4 3-6.4 3.6-5.1 4.7-4.7 3.9-2.5 4.9-1.8zM448.4 512.7l-1.9 0.6-2.6 1.7-2.6 2.9-1.3 2.1-1.3 3.1-0.9 3.7-0.3 6.4 1.3 6.4 2.6 5.1 3.8 3.5 2.6 1.1 2.5 0.1 2.4-0.8 1.5-1 1.6-1.6 1.6-2.5 1.9-5.7 0.7-7.1-0.7-6.4-1.1-3.9-1.4-2.9-1.6-2.2-2.3-1.8-1.3-0.6-2.6-0.3z" fill="#6582ad" fill-rule="evenodd"/><path d="M530.2 443.5l7.7-0.8 5.2 0.4 3.8 0.8 3.9 1.3 3.9 1.9 2.5 1.7 2.8 2.5 2 2.5 1.1 2.6 0.5 2.6-0.1 2.5-1 2.6-2.3 2.5-1.9 1.3-3.6 1.4-3.9 0.6-5.2 0.1-10.3-1.3-5.1-1.3-5.6-2-2.5-1.3-3.6-2.6-2.1-2.5-0.9-2.6 0.2-2.6 1.1-2.5 2.3-2.6 3.4-2.4 3-1.4 4.2-1.3zM449 472.9l6.5-0.6 3.8 0.4 2.6 0.7 2.6 1.3 2.6 2 2.8 4 1.7 5.1 1.2 7.7 0.9 14.1 0.7 20.5-0.2 11.5-0.9 10.3-1.9 8.9-2.6 7.7-3.4 6.4-4.8 5.9-5.1 3.8-5.2 1.8-2.5 0.4-3.9-0.2-3.9-0.8-3.8-1.6-3.9-2.2-3.9-3-6.1-6.6-4.8-7.7-4.3-10.3-2.4-10.2-0.8-10.3 0.6-10.2 2.2-10.2 3.3-9 4.6-8.5 6.4-8.1 6.5-5.8 7.7-4.6 7.2-2.5zM447.5 493.5l-4.9 1.8-3.9 2.5-4.7 4.7-3.6 5.1-3 6.4-1.9 6.4-1.1 6.4-0.1 7.7 0.9 6.4 1.9 6.9 2.8 5.9 3.7 5.4 3.9 3.8 5.1 3 5.2 1.2 3.8-0.3 3.9-1.5 3.8-3.1 2.6-3.2 2.6-4.7 1.9-5.7 1.3-6.4 0.7-7.7 0-7.7-0.9-8.9-1.4-7.7-1.6-5.4-2.4-4.9-2.8-3.3-3.8-2.5-3.9-0.9-3.8 0.3z" fill="#6889ae" fill-rule="evenodd"/><path d="M382.1 378.3l251.1 0-8.2 20.5-7.7 17.9-7.7 16.6-7.9 15.4-6.7 11.5-6.1 9-5.3 6.4-5.7 5-3.9 2.3-3.9 1.5-3.8 0.7-5.2 0.1-7.7-0.9-36.1-5.8-7.7-0.8-6.5 0-5.1 0.9-5.1 2.1-3.9 3.2-2.6 3.4-1.9 3.7-1.9 5.1-2 10.2-0.8 11.6-0.2 24.3-0.6 11.5-1.6 12-2.6 11.4-3.9 12.7-3.8 10.9-32.3 83.6-54 0 0-306zM529.7 443.6l-4.2 1.3-3 1.4-3.4 2.4-2.3 2.6-1.1 2.5-0.2 2.6 0.9 2.6 2.1 2.5 3.6 2.6 2.5 1.3 5.6 2 5.1 1.3 10.3 1.3 5.2-0.1 3.9-0.6 3.6-1.4 1.9-1.3 2.3-2.5 1-2.6 0.1-2.5-0.5-2.6-1.1-2.6-2-2.5-2.8-2.5-2.5-1.7-3.9-1.9-3.9-1.3-3.8-0.8-5.2-0.4-7.7 0.8zM448.5 473l-7.2 2.5-7.7 4.6-6.5 5.8-6.4 8.1-4.6 8.5-3.3 9-2.2 10.2-0.6 10.2 0.8 10.3 2.4 10.2 4.3 10.3 4.8 7.7 6.1 6.6 3.9 3 3.9 2.2 3.8 1.6 3.9 0.8 3.9 0.2 2.5-0.4 5.2-1.8 5.1-3.8 4.8-5.9 3.4-6.4 2.6-7.7 1.9-8.9 0.9-10.3 0.2-11.5-0.7-20.5-0.9-14.1-1.2-7.7-1.7-5.1-2.8-4-2.6-2-2.6-1.3-2.6-0.7-3.8-0.4-6.5 0.6z" fill="#6a8fae" fill-rule="evenodd"/><path d="M633.2 378.3l55.4 0 0 306-253.8 0 32.3-83.6 3.8-10.9 3.9-12.7 2.6-11.4 1.6-12 0.6-11.5 0.2-24.3 0.8-11.6 2-10.2 1.9-5.1 1.9-3.7 2.6-3.4 3.9-3.2 5.1-2.1 5.1-0.9 6.5 0 7.7 0.8 36.1 5.8 7.7 0.9 5.2-0.1 3.8-0.7 3.9-1.5 3.9-2.3 5.7-5 5.3-6.4 6.1-9 6.7-11.5 7.9-15.4 7.7-16.6 7.7-17.9 8.2-20.5zM610.8 475.6l-4.6 1.7-5.2 2.7-19.3 14.1-3.8 1.9-3.9 1.2-3.9 0.3-5.1-0.5-20.6-5.8-11.6-2.4-11.6-1.4-9-0.2-7.8 1.2-3.7 1.3-2.7 1.4-2.6 1.9-2.6 2.6-2.1 3-2 3.9-2.6 9-1.2 10.2 0 34.6-0.8 25.6 0.2 6.4 0.8 6.4 1.3 5.1 2.1 5.1 4.3 6.4 5.2 5.1 6.4 4.4 9 3.9 9.1 2.3 9 0.9 10.3-0.6 9-2 7.7-2.8 6.7-3.5 6.2-4 12.9-9.7 6.4-3.7 6.5-2.5 20.6-5.3 6.4-2.6 6.5-3.5 7.7-5.8 6.1-6.4 5.4-7.7 4.5-9 2.7-7.7 1.7-7.6 0.9-7.7 0.1-7.7-0.8-7.7-1.6-7.7-2.5-7.6-3-6.5-4-6.4-4.4-5.3-5.1-4.8-5.2-3.5-5.1-2.3-5.2-1.4-6.4-0.3-5.2 0.8z" fill="#6fa1a8" fill-rule="evenodd"/><path d="M611.3 475.4l5.2-0.8 6.4 0.3 5.2 1.4 5.1 2.3 5.2 3.5 5.1 4.8 4.4 5.3 4 6.4 3 6.5 2.5 7.6 1.6 7.7 0.8 7.7-0.1 7.7-0.9 7.7-1.7 7.6-2.7 7.7-4.5 9-5.4 7.7-6.1 6.4-7.7 5.8-6.5 3.5-6.4 2.6-20.6 5.3-6.5 2.5-6.4 3.7-12.9 9.7-6.2 4-6.7 3.5-7.7 2.8-9 2-10.3 0.6-9-0.9-9.1-2.3-9-3.9-6.4-4.4-5.2-5.1-4.3-6.4-2.1-5.1-1.3-5.1-0.8-6.4-0.2-6.4 0.8-25.6 0-34.6 1.2-10.2 2.6-9 2-3.9 2.1-3 2.6-2.6 2.6-1.9 2.7-1.4 3.7-1.3 7.8-1.2 9 0.2 11.6 1.4 11.6 2.4 20.6 5.8 5.1 0.5 3.9-0.3 3.9-1.2 3.8-1.9 19.3-14.1 5.2-2.7 4.6-1.7zM609.2 491l-4.3 1.4-5.2 2.8-5.1 3.6-12.9 10.6-3.8 2.2-2.6 0.8-2.6 0-3.9-1.1-15.7-8.8-9.1-3.9-9.9-2.6-10.3-1.4-10.4 0.2-3.8 0.7-3.9 1.2-3.8 1.9-2.6 2-2.6 2.8-2 2.9-2.3 5.2-1.6 6.4-0.9 7.6-0.1 9 0.8 14.1 2.1 24.3 1.6 9 2.6 7.7 2.7 5.1 4.1 5.1 4.6 4 6.4 3.7 6.5 2.2 6.4 1.2 7.7 0.2 6.5-1 6.4-2.2 5.2-2.7 5.1-3.9 3.9-4 5.2-7.7 3-6.4 4.7-12 1.3-1.9 1.3-1.1 1.2-0.4 2.6 0.2 11.6 5.5 7.7 2.5 6.5 0.7 6.4-0.5 7.7-2.5 6.5-3.8 6.4-5.9 5.2-7.4 2.6-5.5 1.8-5.1 1.4-6.4 0.6-6.4-0.2-6.4-0.7-5.1-1.6-6.4-2-5.1-2.7-5.1-3.1-4.3-3.9-4-3.8-2.8-3.9-2-5.1-1.5-3.9-0.3-5.1 0.5z" fill="#72b0a2" fill-rule="evenodd"/><path d="M610.1 490.7l5.1-0.5 3.9 0.3 5.1 1.5 3.9 2 3.8 2.8 3.9 4 3.1 4.3 2.7 5.1 2 5.1 1.6 6.4 0.7 5.1 0.2 6.4-0.6 6.4-1.4 6.4-1.8 5.1-2.6 5.5-5.2 7.4-6.4 5.9-6.5 3.8-7.7 2.5-6.4 0.5-6.5-0.7-7.7-2.5-11.6-5.5-2.6-0.2-1.2 0.4-1.3 1.1-1.3 1.9-4.7 12-3 6.4-5.2 7.7-3.9 4-5.1 3.9-5.2 2.7-6.4 2.2-6.5 1-7.7-0.2-6.4-1.2-6.5-2.2-6.4-3.7-4.6-4-4.1-5.1-2.7-5.1-2.6-7.7-1.6-9-2.1-24.3-0.8-14.1 0.1-9 0.9-7.6 1.6-6.4 2.3-5.2 2-2.9 2.6-2.8 2.6-2 3.8-1.9 3.9-1.2 3.8-0.7 10.4-0.2 10.3 1.4 9.9 2.6 9.1 3.9 15.7 8.8 3.9 1.1 2.6 0 2.6-0.8 3.8-2.2 12.9-10.6 5.1-3.6 5.2-2.8 4.3-1.4zM512.4 502.5l-6 2.6-4.6 3.8-1.8 2.6-2 3.8-1.8 6.4-0.8 7.7 0.4 10.2 1.8 12.8 3 13.4 2.5 8.4 2.6 5.7 3.8 5.8 3.9 3.9 5.2 3.4 6.4 2.3 6.5 0.7 5.1-0.7 5.2-2 5-3.7 3.8-5.2 2.1-5.1 1.5-6.4 2.3-17.9 3.7-19.2 0.3-5.1-0.6-5.2-2.5-6.4-3.7-5.1-4.2-3.8-6.2-3.9-6.7-2.6-7.7-1.8-7.7-0.5-7.8 0.8zM610.9 503.8l-4.7 1.4-3.9 2.1-3.8 3.2-3.9 4.5-2.5 4.1-2 5.2-0.8 3.8-0.1 5.1 0.8 5.1 2 6.4 2.6 5.2 3.9 5 3.8 3.1 3.9 1.9 3.9 0.9 5.1-0.3 3.9-1.2 3.8-2.3 3.8-3.3 2.9-3.8 2.6-5.2 1.7-5.1 0.8-5.1 0.1-5.1-0.7-5.1-1.4-5.2-2.5-5.1-2.8-3.8-3.2-3-3.8-2.2-3.9-1.2-5.2-0.1z" fill="#80c29a" fill-rule="evenodd"/><path d="M513.4 502.2l7.8-0.8 7.7 0.5 7.7 1.8 6.7 2.6 6.2 3.9 4.2 3.8 3.7 5.1 2.5 6.4 0.6 5.2-0.3 5.1-3.7 19.2-2.3 17.9-1.5 6.4-2.1 5.1-3.8 5.2-5 3.7-5.2 2-5.1 0.7-6.5-0.7-6.4-2.3-5.2-3.4-3.9-3.9-3.8-5.8-2.6-5.7-2.5-8.4-3-13.4-1.8-12.8-0.4-10.2 0.8-7.7 1.8-6.4 2-3.8 1.8-2.6 4.6-3.8 6-2.6zM515.1 510.2l-3 1.3-3.8 2.6-2.6 3.2-2.1 4.4-0.9 3.8-0.5 5.2 0.2 5.1 1.1 6.4 2.2 7.6 2.6 6.3 2.6 5 3.8 5.6 3.9 4 3.9 2.4 3.8 1.1 3.9-0.4 3.7-2.2 2.7-3.1 2.6-4.7 2.6-6.2 3.8-11 2.3-8.3 0.7-6.4-0.4-5.1-1.1-3.8-2.1-3.9-3.2-3.4-4.2-3-6.1-2.5-5.2-1-5.1-0.1-5.2 0.8zM611.3 503.7l5.2 0.1 3.9 1.2 3.8 2.2 3.2 3 2.8 3.8 2.5 5.1 1.4 5.2 0.7 5.1-0.1 5.1-0.8 5.1-1.7 5.1-2.6 5.2-2.9 3.8-3.8 3.3-3.8 2.3-3.9 1.2-5.1 0.3-3.9-0.9-3.9-1.9-3.8-3.1-3.9-5-2.6-5.2-2-6.4-0.8-5.1 0.1-5.1 0.8-3.8 2-5.2 2.5-4.1 3.9-4.5 3.8-3.2 3.9-2.1 4.7-1.4zM609.3 523l-1.8 1.7-1.7 3.4-0.4 3.8 0.8 3.9 1.3 2.2 1.3 1.4 2.5 1.4 2.6 0.1 2.6-1.2 2.2-2.6 1-2.6 0.4-3.8-0.8-3.9-1.5-2.6-2.6-1.9-2.6-0.5-2.5 0.7z" fill="#9ccf88" fill-rule="evenodd"/><path d="M516 509.9l5.2-0.8 5.1 0.1 5.2 1 6.1 2.5 4.2 3 3.2 3.4 2.1 3.9 1.1 3.8 0.4 5.1-0.7 6.4-2.3 8.3-3.8 11-2.6 6.2-2.6 4.7-2.7 3.1-3.7 2.2-3.9 0.4-3.8-1.1-3.9-2.4-3.9-4-3.8-5.6-2.6-5-2.6-6.3-2.2-7.6-1.1-6.4-0.2-5.1 0.5-5.2 0.9-3.8 2.1-4.4 2.6-3.2 3.8-2.6 3-1.3zM518.5 521.7l-3 2.6-1.9 3.8-0.3 5.1 1 3.9 2.2 3.8 3.4 2.9 3.9 1.1 3.8-1.1 2.3-1.6 1.6-1.8 2.4-4.6 0.8-5.1-0.9-3.9-2.3-3.2-3.9-2.4-2.6-0.6-2.5-0.1-3.9 1.1zM610.1 522.5l2.5-0.7 2.6 0.5 2.6 1.9 1.5 2.6 0.8 3.9-0.4 3.8-1 2.6-2.2 2.6-2.6 1.2-2.6-0.1-2.5-1.4-1.3-1.4-1.3-2.2-0.8-3.9 0.4-3.8 1.7-3.4 1.8-1.7z" fill="#c7db6c" fill-rule="evenodd"/><path d="M518.6 521.6l3.9-1.1 2.5 0.1 2.6 0.6 3.9 2.4 2.3 3.2 0.9 3.9-0.8 5.1-2.4 4.6-1.6 1.8-2.3 1.6-3.8 1.1-3.9-1.1-3.4-2.9-2.2-3.8-1-3.9 0.3-5.1 1.9-3.8 3-2.6z" fill="#e2e35a" fill-rule="evenodd"/><path d="M449 512.6l-3.8 1.4-3.9 3.9-2.6 5.2-0.9 3.7-0.4 3.9 0.7 6.4 1.2 3.8 1.3 2.6 3.3 3.8 2.6 1.6 2.5 0.5 3.9-0.9 2.6-2.1 1.3-1.8 1.3-2.5 1.1-3.8 0.8-6.4-0.7-7.6-2.3-6.4-2.8-3.6-1.3-0.8-2.6-0.9z" fill="none" stroke="#eafff0" stroke-width="1.5"/><path d="M447.8 493.5l-5.2 1.8-3.9 2.5-3.8 3.7-3.9 5.1-3.1 6.1-2 6.1-1.3 6.7-0.3 6.4 0.4 6.4 1.4 6.4 2.4 6.4 2.9 5.2 4.4 5.1 4.2 3.2 4.3 1.9 4.7 0.6 3.9-0.7 3.9-1.9 3.8-3.7 2.9-4.5 2.3-5.4 1.5-6.2 1-7.6 0.1-7.7-0.5-9-1.2-7.7-1.7-6.4-2.1-5.1-2.8-3.8-3.3-2.7-3.9-1.4-5.1 0.2" fill="none" stroke="#eafff0" stroke-width="1.5"/><path d="M530.2 443.5l-4.7 1.4-4.3 2.2-3.4 2.9-1.7 2.6-0.6 3.8 0.9 2.6 2.1 2.5 2.7 2 3.8 2 7 2.4 7.2 1.5 7.7 0.6 6.5-0.5 3.8-1.1 3-1.8 2.3-2.5 1.1-3.9-0.1-2.5-0.9-2.6-2.6-3.8-4-3.4-5.2-2.7-6.4-1.8-7.8-0.7-6.4 0.8M449 472.9l-7.7 2.6-6.4 3.7-6.5 5.4-6.5 7.6-4.6 7.7-3.7 9-2.6 10.2-1 10.3 0.4 10.2 2 10.3 3.8 10.2 4.3 7.7 5.4 6.7 6.4 5.5 3.9 2.2 3.8 1.6 6.5 1 5.1-0.7 5.2-2.3 5.1-4.3 4.3-5.9 3.5-7.2 2.5-8.7 1.6-9.7 0.6-10.2-0.2-15.4-1.1-23-1-9-1.7-6.4-1.2-2.6-1.9-2.5-4.1-2.9-2.6-1-3.8-0.6-3.9 0-3.9 0.5" fill="none" stroke="#eafff0" stroke-width="1.5"/><path d="M434.8 684.3l32.3-83.6 3.8-10.9 3.9-12.7 2.6-11.4 1.6-12 0.6-11.5 0.2-24.3 0.8-11.6 2-10.2 1.9-5.1 1.9-3.7 2.6-3.4 3.9-3.2 5.1-2.1 5.1-0.9 6.5 0 7.7 0.8 36.1 5.8 7.7 0.9 5.2-0.1 3.8-0.7 3.9-1.5 3.9-2.3 5.7-5 5.3-6.4 6.1-9 6.7-11.5 7.9-15.4 7.7-16.6 7.7-17.9 8.2-20.5" fill="none" stroke="#eafff0" stroke-width="1.5"/><path d="M611.3 475.4l5.2-0.8 6.4 0.3 5.2 1.4 5.1 2.3 5.2 3.5 5.1 4.8 4.4 5.3 4 6.4 3 6.5 2.5 7.6 1.6 7.7 0.8 7.7-0.1 7.7-0.9 7.7-1.7 7.6-2.7 7.7-4.5 9-5.4 7.7-6.1 6.4-7.7 5.8-6.5 3.5-6.4 2.6-20.6 5.3-6.5 2.5-6.4 3.7-12.9 9.7-6.2 4-6.7 3.5-7.7 2.8-9 2-10.3 0.6-9-0.9-9.1-2.3-9-3.9-6.4-4.4-5.2-5.1-4.3-6.4-2.1-5.1-1.3-5.1-0.8-6.4-0.2-6.4 0.8-25.6 0-34.6 1.2-10.2 2.6-9 2-3.9 2.1-3 2.6-2.6 2.6-1.9 2.7-1.4 3.7-1.3 7.8-1.2 9 0.2 11.6 1.4 11.6 2.4 20.6 5.8 5.1 0.5 3.9-0.3 3.9-1.2 3.8-1.9 19.3-14.1 5.2-2.7 4.6-1.7z" fill="none" stroke="#eafff0" stroke-width="1.5"/><path d="M610.1 490.7l5.1-0.5 3.9 0.3 5.1 1.5 3.9 2 3.8 2.8 3.9 4 3.1 4.3 2.7 5.1 2 5.1 1.6 6.4 0.7 5.1 0.2 6.4-0.6 6.4-1.4 6.4-1.8 5.1-2.6 5.5-5.2 7.4-6.4 5.9-6.5 3.8-7.7 2.5-6.4 0.5-6.5-0.7-7.7-2.5-11.6-5.5-2.6-0.2-1.2 0.4-1.3 1.1-1.3 1.9-4.7 12-3 6.4-5.2 7.7-3.9 4-5.1 3.9-5.2 2.7-6.4 2.2-6.5 1-7.7-0.2-6.4-1.2-6.5-2.2-6.4-3.7-4.6-4-4.1-5.1-2.7-5.1-2.6-7.7-1.6-9-2.1-24.3-0.8-14.1 0.1-9 0.9-7.6 1.6-6.4 2.3-5.2 2-2.9 2.6-2.8 2.6-2 3.8-1.9 3.9-1.2 3.8-0.7 10.4-0.2 10.3 1.4 9.9 2.6 9.1 3.9 15.7 8.8 3.9 1.1 2.6 0 2.6-0.8 3.8-2.2 12.9-10.6 5.1-3.6 5.2-2.8 4.3-1.4z" fill="none" stroke="#eafff0" stroke-width="1.5"/><path d="M513.4 502.2l7.8-0.8 7.7 0.5 7.7 1.8 6.7 2.6 6.2 3.9 4.2 3.8 3.7 5.1 2.5 6.4 0.6 5.2-0.3 5.1-3.7 19.2-2.3 17.9-1.5 6.4-2.1 5.1-3.8 5.2-5 3.7-5.2 2-5.1 0.7-6.5-0.7-6.4-2.3-5.2-3.4-3.9-3.9-3.8-5.8-2.6-5.7-2.5-8.4-3-13.4-1.8-12.8-0.4-10.2 0.8-7.7 1.8-6.4 2-3.8 1.8-2.6 4.6-3.8 6-2.6zM611.3 503.7l5.2 0.1 3.9 1.2 3.8 2.2 3.2 3 2.8 3.8 2.5 5.1 1.4 5.2 0.7 5.1-0.1 5.1-0.8 5.1-1.7 5.1-2.6 5.2-2.9 3.8-3.8 3.3-3.8 2.3-3.9 1.2-5.1 0.3-3.9-0.9-3.9-1.9-3.8-3.1-3.9-5-2.6-5.2-2-6.4-0.8-5.1 0.1-5.1 0.8-3.8 2-5.2 2.5-4.1 3.9-4.5 3.8-3.2 3.9-2.1 4.7-1.4z" fill="none" stroke="#eafff0" stroke-width="1.5"/><path d="M516 509.9l5.2-0.8 5.1 0.1 5.2 1 6.1 2.5 4.2 3 3.2 3.4 2.1 3.9 1.1 3.8 0.4 5.1-0.7 6.4-2.3 8.3-3.8 11-2.6 6.2-2.6 4.7-2.7 3.1-3.7 2.2-3.9 0.4-3.8-1.1-3.9-2.4-3.9-4-3.8-5.6-2.6-5-2.6-6.3-2.2-7.6-1.1-6.4-0.2-5.1 0.5-5.2 0.9-3.8 2.1-4.4 2.6-3.2 3.8-2.6 3-1.3zM610.1 522.5l2.5-0.7 2.6 0.5 2.6 1.9 1.5 2.6 0.8 3.9-0.4 3.8-1 2.6-2.2 2.6-2.6 1.2-2.6-0.1-2.5-1.4-1.3-1.4-1.3-2.2-0.8-3.9 0.4-3.8 1.7-3.4 1.8-1.7z" fill="none" stroke="#eafff0" stroke-width="1.5"/><path d="M518.6 521.6l3.9-1.1 2.5 0.1 2.6 0.6 3.9 2.4 2.3 3.2 0.9 3.9-0.8 5.1-2.4 4.6-1.6 1.8-2.3 1.6-3.8 1.1-3.9-1.1-3.4-2.9-2.2-3.8-1-3.9 0.3-5.1 1.9-3.8 3-2.6z" fill="none" stroke="#eafff0" stroke-width="1.5"/></g><path d="M383.3 681.8L686.1 380.8" stroke="#000" stroke-width="1.1"/><rect x="383.3" y="380.8" width="302.8" height="301" fill="none" stroke="#000" stroke-width="1.9"/><text x="534.7" y="708.2" text-anchor="middle" textLength="142.8" lengthAdjust="spacingAndGlyphs">Contour plot</text><g clip-path="url(#u5)"><path d="M797.4 506V446.1M790.1 446.1H804.7M797.4 547.7V593.7M790.1 593.7H804.7" stroke="#000" stroke-width="2" fill="none"/><rect x="784.4" y="506" width="26" height="41.8" fill="#e6e6e6" stroke="#000" stroke-width="2"/><path d="M784.4 526.7H810.4" stroke="#000" stroke-width="2"/><circle cx="797.4" cy="435.1" r="6.9" fill="none" stroke="#000" stroke-width="2.1"/><path d="M847.8 509.2V458M840.5 458H855.1M847.8 551.3V597.2M840.5 597.2H855.1" stroke="#000" stroke-width="2" fill="none"/><rect x="834.8" y="509.2" width="26" height="42.1" fill="#e6e6e6" stroke="#000" stroke-width="2"/><path d="M834.8 525.5H860.8" stroke="#000" stroke-width="2"/><circle cx="847.8" cy="439.3" r="6.9" fill="none" stroke="#000" stroke-width="2.1"/><circle cx="847.8" cy="635.7" r="6.9" fill="none" stroke="#000" stroke-width="2.1"/><path d="M898.1 506.3V450M890.8 450H905.4M898.1 553.4V617.1M890.8 617.1H905.4" stroke="#000" stroke-width="2" fill="none"/><rect x="885.1" y="506.3" width="26" height="47.1" fill="#e6e6e6" stroke="#000" stroke-width="2"/><path d="M885.1 521.7H911.1" stroke="#000" stroke-width="2"/><path d="M948.5 507.4V442.6M941.2 442.6H955.8M948.5 556.6V620.3M941.2 620.3H955.8" stroke="#000" stroke-width="2" fill="none"/><rect x="935.5" y="507.4" width="26" height="49.2" fill="#e6e6e6" stroke="#000" stroke-width="2"/><path d="M935.5 532H961.5" stroke="#000" stroke-width="2"/><path d="M998.9 503.3V446.1M991.6 446.1H1006.2M998.9 558.1V611.1M991.6 611.1H1006.2" stroke="#000" stroke-width="2" fill="none"/><rect x="985.9" y="503.3" width="26" height="54.8" fill="#e6e6e6" stroke="#000" stroke-width="2"/><path d="M985.9 530.6H1011.9" stroke="#000" stroke-width="2"/></g><g clip-path="url(#l5)"><path d="M797.4 506V446.1M790.1 446.1H804.7M797.4 547.7V593.7M790.1 593.7H804.7" stroke="#e8372a" stroke-width="1.8" fill="none"/><rect x="783.9" y="505.5" width="27" height="42.8" fill="#e8372a"/><circle cx="797.4" cy="435.1" r="7.4" fill="#e8372a"/><path d="M847.8 509.2V458M840.5 458H855.1M847.8 551.3V597.2M840.5 597.2H855.1" stroke="#e8372a" stroke-width="1.8" fill="none"/><rect x="834.3" y="508.7" width="27" height="43.1" fill="#e8372a"/><circle cx="847.8" cy="439.3" r="7.4" fill="#e8372a"/><circle cx="847.8" cy="635.7" r="7.4" fill="#e8372a"/><path d="M898.1 506.3V450M890.8 450H905.4M898.1 553.4V617.1M890.8 617.1H905.4" stroke="#e8372a" stroke-width="1.8" fill="none"/><rect x="884.6" y="505.8" width="27" height="48.1" fill="#e8372a"/><path d="M948.5 507.4V442.6M941.2 442.6H955.8M948.5 556.6V620.3M941.2 620.3H955.8" stroke="#e8372a" stroke-width="1.8" fill="none"/><rect x="935" y="506.9" width="27" height="50.2" fill="#e8372a"/><path d="M998.9 503.3V446.1M991.6 446.1H1006.2M998.9 558.1V611.1M991.6 611.1H1006.2" stroke="#e8372a" stroke-width="1.8" fill="none"/><rect x="985.4" y="502.8" width="27" height="55.8" fill="#e8372a"/></g><path d="M746.7 681.8L1049.5 380.8" stroke="#000" stroke-width="1.1"/><rect x="746.7" y="380.8" width="302.8" height="301" fill="none" stroke="#000" stroke-width="1.9"/><text x="898.1" y="708.2" text-anchor="middle" textLength="94.6" lengthAdjust="spacingAndGlyphs">Box plot</text><g clip-path="url(#u6)"><path d="M51.4 776.6 44.7 769.8 43.2 774.4 32.6 754.6 52.4 765.2 47.8 766.7 54.6 773.4ZM85.1 776.3 79.5 768.5 77.3 772.8 70.1 751.6 87.8 765.2 83.1 766 88.6 773.7ZM118.7 775.9 114.9 767.1 111.8 770.8 109.4 748.5 123.8 765.6 119 765.4 122.7 774.1ZM152.4 775.3 151 765.9 147.1 768.6 150.5 746.5 159.9 766.8 155.4 765.3 156.7 774.7ZM186.2 774.7 187.6 765.3 183 766.8 192.5 746.5 195.9 768.6 191.9 765.9 190.6 775.3ZM220.2 774.1 224 765.4 219.2 765.6 233.6 748.5 231.1 770.8 228 767.1 224.3 775.9ZM254.3 773.7 259.8 766 255.1 765.2 272.8 751.6 265.7 772.8 263.4 768.5 257.9 776.3ZM288.4 773.4 295.1 766.7 290.6 765.2 310.3 754.6 299.8 774.4 298.2 769.8 291.5 776.6ZM51.7 810.4 44 804.9 43.2 809.6 29.6 791.9 50.8 799.1 46.5 801.3 54.3 806.9ZM85.3 810.2 78.6 803.5 77 808 66.5 788.3 86.2 798.8 81.7 800.4 88.4 807.1ZM118.8 809.8 113.9 801.6 111.3 805.6 105.9 784 122.5 799 117.7 799.4 122.6 807.5ZM152.4 809.1 150.5 799.8 146.7 802.7 148.9 780.4 159.5 800.1 154.8 798.9 156.7 808.2ZM186.2 808.2 188.1 798.9 183.5 800.1 194 780.4 196.2 802.7 192.4 799.8 190.6 809.1ZM220.4 807.5 225.3 799.4 220.5 799 237.1 784 231.6 805.6 229 801.6 224.1 809.8ZM254.5 807.1 261.3 800.4 256.7 798.8 276.5 788.3 265.9 808 264.4 803.5 257.7 810.2ZM288.7 806.9 296.4 801.3 292.2 799.1 313.4 791.9 299.7 809.6 299 804.9 291.2 810.4ZM52.1 844.3 43.4 840.6 43.6 845.4 26.5 831 48.8 833.4 45.1 836.5 53.9 840.3ZM85.7 844.2 77.6 839.3 77.2 844.1 62.2 827.5 83.8 832.9 79.8 835.5 88 840.4ZM119.1 843.9 112.4 837.1 110.9 841.7 100.3 821.9 120.1 832.5 115.5 834 122.3 840.7ZM152.5 843 149.5 834 146 837.3 145.4 815 158.4 833.2 153.6 832.6 156.6 841.6ZM186.3 841.6 189.3 832.6 184.6 833.2 197.5 815 196.9 837.3 193.5 834 190.5 843ZM220.7 840.7 227.4 834 222.9 832.5 242.6 821.9 232.1 841.7 230.5 837.1 223.8 843.9ZM255 840.4 263.1 835.5 259.1 832.9 280.8 827.5 265.8 844.1 265.4 839.3 257.2 844.2ZM289.1 840.3 297.8 836.5 294.2 833.4 316.4 831 299.3 845.4 299.5 840.6 290.8 844.3ZM52.7 878.1 43.3 876.8 44.8 881.3 24.5 871.9 46.6 868.5 43.9 872.4 53.3 873.8ZM86.4 878.1 77.1 876.2 78.3 880.9 58.6 870.3 80.9 868.1 78 871.9 87.3 873.8ZM120 878 111 875 111.6 879.8 93.4 866.8 115.7 867.4 112.4 870.9 121.4 873.9ZM153 877.5 146.3 870.8 144.7 875.3 134.2 855.6 153.9 866.1 149.4 867.7 156.1 874.4ZM186.8 874.4 193.6 867.7 189 866.1 208.8 855.6 198.2 875.3 196.7 870.8 190 877.5ZM221.6 873.9 230.6 870.9 227.2 867.4 249.6 866.8 231.3 879.8 232 875 222.9 878ZM255.7 873.8 265 871.9 262.1 868.1 284.3 870.3 264.6 880.9 265.8 876.2 256.5 878.1ZM289.6 873.8 299 872.4 296.4 868.5 318.5 871.9 298.2 881.3 299.7 876.8 290.3 878.1ZM53.3 911.8 43.9 913.1 46.6 917.1 24.5 913.7 44.8 904.2 43.3 908.8 52.7 907.4ZM87.3 911.8 78 913.6 80.9 917.4 58.6 915.2 78.3 904.7 77.1 909.3 86.4 907.4ZM121.4 911.7 112.4 914.7 115.7 918.1 93.4 918.7 111.6 905.8 111 910.5 120 907.5ZM156.1 911.2 149.4 917.9 153.9 919.4 134.2 930 144.7 910.2 146.3 914.8 153 908ZM190 908 196.7 914.8 198.2 910.2 208.8 930 189 919.4 193.6 917.9 186.8 911.2ZM222.9 907.5 232 910.5 231.3 905.8 249.6 918.7 227.2 918.1 230.6 914.7 221.6 911.7ZM256.5 907.4 265.8 909.3 264.6 904.7 284.3 915.2 262.1 917.4 265 913.6 255.7 911.8ZM290.3 907.4 299.7 908.8 298.2 904.2 318.5 913.7 296.4 917.1 299 913.1 289.6 911.8ZM53.9 945.3 45.1 949 48.8 952.1 26.5 954.6 43.6 940.2 43.4 945 52.1 941.2ZM88 945.1 79.8 950 83.8 952.6 62.2 958.1 77.2 941.5 77.6 946.3 85.7 941.4ZM122.3 944.8 115.5 951.5 120.1 953.1 100.3 963.6 110.9 943.9 112.4 948.4 119.1 941.7ZM156.6 943.9 153.6 953 158.4 952.3 145.4 970.6 146 948.2 149.5 951.6 152.5 942.6ZM190.5 942.6 193.5 951.6 196.9 948.2 197.5 970.6 184.6 952.3 189.3 953 186.3 943.9ZM223.8 941.7 230.5 948.4 232.1 943.9 242.6 963.6 222.9 953.1 227.4 951.5 220.7 944.8ZM257.2 941.4 265.4 946.3 265.8 941.5 280.8 958.1 259.1 952.6 263.1 950 255 945.1ZM290.8 941.2 299.5 945 299.3 940.2 316.4 954.6 294.2 952.1 297.8 949 289.1 945.3ZM54.3 978.7 46.5 984.2 50.8 986.5 29.6 993.6 43.2 975.9 44 980.6 51.7 975.1ZM88.4 978.5 81.7 985.2 86.2 986.7 66.5 997.3 77 977.5 78.6 982.1 85.3 975.3ZM122.6 978 117.7 986.2 122.5 986.6 105.9 1001.6 111.3 979.9 113.9 983.9 118.8 975.8ZM156.7 977.3 154.8 986.6 159.5 985.4 148.9 1005.1 146.7 982.9 150.5 985.8 152.4 976.5ZM190.6 976.5 192.4 985.8 196.2 982.9 194 1005.1 183.5 985.4 188.1 986.6 186.2 977.3ZM224.1 975.8 229 983.9 231.6 979.9 237.1 1001.6 220.5 986.6 225.3 986.2 220.4 978ZM257.7 975.3 264.4 982.1 265.9 977.5 276.5 997.3 256.7 986.7 261.3 985.2 254.5 978.5ZM291.2 975.1 299 980.6 299.7 975.9 313.4 993.6 292.2 986.5 296.4 984.2 288.7 978.7ZM54.6 1012.1 47.8 1018.8 52.4 1020.4 32.6 1030.9 43.2 1011.2 44.7 1015.7 51.4 1009ZM88.6 1011.8 83.1 1019.6 87.8 1020.3 70.1 1034 77.3 1012.8 79.5 1017 85.1 1009.3ZM122.7 1011.4 119 1020.1 123.8 1019.9 109.4 1037 111.8 1014.8 114.9 1018.4 118.7 1009.7ZM156.7 1010.9 155.4 1020.3 159.9 1018.8 150.5 1039.1 147.1 1017 151 1019.6 152.4 1010.2ZM190.6 1010.2 191.9 1019.6 195.9 1017 192.5 1039.1 183 1018.8 187.6 1020.3 186.2 1010.9ZM224.3 1009.7 228 1018.4 231.1 1014.8 233.6 1037 219.2 1019.9 224 1020.1 220.2 1011.4ZM257.9 1009.3 263.4 1017 265.7 1012.8 272.8 1034 255.1 1020.3 259.8 1019.6 254.3 1011.8ZM291.5 1009 298.2 1015.7 299.8 1011.2 310.3 1030.9 290.6 1020.4 295.1 1018.8 288.4 1012.1Z" fill="#e3e3e3" stroke="#000" stroke-width="1.1" stroke-linejoin="miter"/></g><g clip-path="url(#l6)"><g stroke="#000" stroke-width="1.1"><path d="M51.4 776.6 44.7 769.8 43.2 774.4 32.6 754.6 52.4 765.2 47.8 766.7 54.6 773.4Z" fill="#fad746"/><path d="M85.1 776.3 79.5 768.5 77.3 772.8 70.1 751.6 87.8 765.2 83.1 766 88.6 773.7Z" fill="#fad746"/><path d="M118.7 775.9 114.9 767.1 111.8 770.8 109.4 748.5 123.8 765.6 119 765.4 122.7 774.1Z" fill="#fad746"/><path d="M152.4 775.3 151 765.9 147.1 768.6 150.5 746.5 159.9 766.8 155.4 765.3 156.7 774.7Z" fill="#fad746"/><path d="M186.2 774.7 187.6 765.3 183 766.8 192.5 746.5 195.9 768.6 191.9 765.9 190.6 775.3Z" fill="#f7d145"/><path d="M220.2 774.1 224 765.4 219.2 765.6 233.6 748.5 231.1 770.8 228 767.1 224.3 775.9Z" fill="#f1c742"/><path d="M254.3 773.7 259.8 766 255.1 765.2 272.8 751.6 265.7 772.8 263.4 768.5 257.9 776.3Z" fill="#ecbe40"/><path d="M288.4 773.4 295.1 766.7 290.6 765.2 310.3 754.6 299.8 774.4 298.2 769.8 291.5 776.6Z" fill="#e8b73e"/><path d="M51.7 810.4 44 804.9 43.2 809.6 29.6 791.9 50.8 799.1 46.5 801.3 54.3 806.9Z" fill="#fad746"/><path d="M85.3 810.2 78.6 803.5 77 808 66.5 788.3 86.2 798.8 81.7 800.4 88.4 807.1Z" fill="#fad746"/><path d="M118.8 809.8 113.9 801.6 111.3 805.6 105.9 784 122.5 799 117.7 799.4 122.6 807.5Z" fill="#fad746"/><path d="M152.4 809.1 150.5 799.8 146.7 802.7 148.9 780.4 159.5 800.1 154.8 798.9 156.7 808.2Z" fill="#fad746"/><path d="M186.2 808.2 188.1 798.9 183.5 800.1 194 780.4 196.2 802.7 192.4 799.8 190.6 809.1Z" fill="#f5cf44"/><path d="M220.4 807.5 225.3 799.4 220.5 799 237.1 784 231.6 805.6 229 801.6 224.1 809.8Z" fill="#eec140"/><path d="M254.5 807.1 261.3 800.4 256.7 798.8 276.5 788.3 265.9 808 264.4 803.5 257.7 810.2Z" fill="#e8b73e"/><path d="M288.7 806.9 296.4 801.3 292.2 799.1 313.4 791.9 299.7 809.6 299 804.9 291.2 810.4Z" fill="#f0a93a"/><path d="M52.1 844.3 43.4 840.6 43.6 845.4 26.5 831 48.8 833.4 45.1 836.5 53.9 840.3Z" fill="#fad746"/><path d="M85.7 844.2 77.6 839.3 77.2 844.1 62.2 827.5 83.8 832.9 79.8 835.5 88 840.4Z" fill="#fad746"/><path d="M119.1 843.9 112.4 837.1 110.9 841.7 100.3 821.9 120.1 832.5 115.5 834 122.3 840.7Z" fill="#fad746"/><path d="M152.5 843 149.5 834 146 837.3 145.4 815 158.4 833.2 153.6 832.6 156.6 841.6Z" fill="#fad746"/><path d="M186.3 841.6 189.3 832.6 184.6 833.2 197.5 815 196.9 837.3 193.5 834 190.5 843Z" fill="#f3ca43"/><path d="M220.7 840.7 227.4 834 222.9 832.5 242.6 821.9 232.1 841.7 230.5 837.1 223.8 843.9Z" fill="#e8b73e"/><path d="M255 840.4 263.1 835.5 259.1 832.9 280.8 827.5 265.8 844.1 265.4 839.3 257.2 844.2Z" fill="#f0a439"/><path d="M289.1 840.3 297.8 836.5 294.2 833.4 316.4 831 299.3 845.4 299.5 840.6 290.8 844.3Z" fill="#f09b37"/><path d="M52.7 878.1 43.3 876.8 44.8 881.3 24.5 871.9 46.6 868.5 43.9 872.4 53.3 873.8Z" fill="#fad746"/><path d="M86.4 878.1 77.1 876.2 78.3 880.9 58.6 870.3 80.9 868.1 78 871.9 87.3 873.8Z" fill="#fad746"/><path d="M120 878 111 875 111.6 879.8 93.4 866.8 115.7 867.4 112.4 870.9 121.4 873.9Z" fill="#fad746"/><path d="M153 877.5 146.3 870.8 144.7 875.3 134.2 855.6 153.9 866.1 149.4 867.7 156.1 874.4Z" fill="#fad746"/><path d="M186.8 874.4 193.6 867.7 189 866.1 208.8 855.6 198.2 875.3 196.7 870.8 190 877.5Z" fill="#e8b73e"/><path d="M221.6 873.9 230.6 870.9 227.2 867.4 249.6 866.8 231.3 879.8 232 875 222.9 878Z" fill="#ef9235"/><path d="M255.7 873.8 265 871.9 262.1 868.1 284.3 870.3 264.6 880.9 265.8 876.2 256.5 878.1Z" fill="#ee8432"/><path d="M289.6 873.8 299 872.4 296.4 868.5 318.5 871.9 298.2 881.3 299.7 876.8 290.3 878.1Z" fill="#ee7d30"/><path d="M53.3 911.8 43.9 913.1 46.6 917.1 24.5 913.7 44.8 904.2 43.3 908.8 52.7 907.4Z" fill="#4d0808"/><path d="M87.3 911.8 78 913.6 80.9 917.4 58.6 915.2 78.3 904.7 77.1 909.3 86.4 907.4Z" fill="#500909"/><path d="M121.4 911.7 112.4 914.7 115.7 918.1 93.4 918.7 111.6 905.8 111 910.5 120 907.5Z" fill="#560b0b"/><path d="M156.1 911.2 149.4 917.9 153.9 919.4 134.2 930 144.7 910.2 146.3 914.8 153 908Z" fill="#6c1414"/><path d="M190 908 196.7 914.8 198.2 910.2 208.8 930 189 919.4 193.6 917.9 186.8 911.2Z" fill="#e83e2c"/><path d="M222.9 907.5 232 910.5 231.3 905.8 249.6 918.7 227.2 918.1 230.6 914.7 221.6 911.7Z" fill="#ea4d2b"/><path d="M256.5 907.4 265.8 909.3 264.6 904.7 284.3 915.2 262.1 917.4 265 913.6 255.7 911.8Z" fill="#eb562a"/><path d="M290.3 907.4 299.7 908.8 298.2 904.2 318.5 913.7 296.4 917.1 299 913.1 289.6 911.8Z" fill="#eb5a2a"/><path d="M53.9 945.3 45.1 949 48.8 952.1 26.5 954.6 43.6 940.2 43.4 945 52.1 941.2Z" fill="#5a0d0d"/><path d="M88 945.1 79.8 950 83.8 952.6 62.2 958.1 77.2 941.5 77.6 946.3 85.7 941.4Z" fill="#600f0f"/><path d="M122.3 944.8 115.5 951.5 120.1 953.1 100.3 963.6 110.9 943.9 112.4 948.4 119.1 941.7Z" fill="#6c1414"/><path d="M156.6 943.9 153.6 953 158.4 952.3 145.4 970.6 146 948.2 149.5 951.6 152.5 942.6Z" fill="#9d1e1e"/><path d="M190.5 942.6 193.5 951.6 196.9 948.2 197.5 970.6 184.6 952.3 189.3 953 186.3 943.9Z" fill="#d13228"/><path d="M223.8 941.7 230.5 948.4 232.1 943.9 242.6 963.6 222.9 953.1 227.4 951.5 220.7 944.8Z" fill="#e83e2c"/><path d="M257.2 941.4 265.4 946.3 265.8 941.5 280.8 958.1 259.1 952.6 263.1 950 255 945.1Z" fill="#e9442c"/><path d="M290.8 941.2 299.5 945 299.3 940.2 316.4 954.6 294.2 952.1 297.8 949 289.1 945.3Z" fill="#e9482c"/><path d="M54.3 978.7 46.5 984.2 50.8 986.5 29.6 993.6 43.2 975.9 44 980.6 51.7 975.1Z" fill="#641111"/><path d="M88.4 978.5 81.7 985.2 86.2 986.7 66.5 997.3 77 977.5 78.6 982.1 85.3 975.3Z" fill="#6c1414"/><path d="M122.6 978 117.7 986.2 122.5 986.6 105.9 1001.6 111.3 979.9 113.9 983.9 118.8 975.8Z" fill="#821919"/><path d="M156.7 977.3 154.8 986.6 159.5 985.4 148.9 1005.1 146.7 982.9 150.5 985.8 152.4 976.5Z" fill="#aa2121"/><path d="M190.6 976.5 192.4 985.8 196.2 982.9 194 1005.1 183.5 985.4 188.1 986.6 186.2 977.3Z" fill="#c92d26"/><path d="M224.1 975.8 229 983.9 231.6 979.9 237.1 1001.6 220.5 986.6 225.3 986.2 220.4 978Z" fill="#dd3a2b"/><path d="M257.7 975.3 264.4 982.1 265.9 977.5 276.5 997.3 256.7 986.7 261.3 985.2 254.5 978.5Z" fill="#e83e2c"/><path d="M291.2 975.1 299 980.6 299.7 975.9 313.4 993.6 292.2 986.5 296.4 984.2 288.7 978.7Z" fill="#e8422c"/><path d="M54.6 1012.1 47.8 1018.8 52.4 1020.4 32.6 1030.9 43.2 1011.2 44.7 1015.7 51.4 1009Z" fill="#6c1414"/><path d="M88.6 1011.8 83.1 1019.6 87.8 1020.3 70.1 1034 77.3 1012.8 79.5 1017 85.1 1009.3Z" fill="#771818"/><path d="M122.7 1011.4 119 1020.1 123.8 1019.9 109.4 1037 111.8 1014.8 114.9 1018.4 118.7 1009.7Z" fill="#951c1c"/><path d="M156.7 1010.9 155.4 1020.3 159.9 1018.8 150.5 1039.1 147.1 1017 151 1019.6 152.4 1010.2Z" fill="#b02222"/><path d="M190.6 1010.2 191.9 1019.6 195.9 1017 192.5 1039.1 183 1018.8 187.6 1020.3 186.2 1010.9Z" fill="#c52b25"/><path d="M224.3 1009.7 228 1018.4 231.1 1014.8 233.6 1037 219.2 1019.9 224 1020.1 220.2 1011.4Z" fill="#d6352a"/><path d="M257.9 1009.3 263.4 1017 265.7 1012.8 272.8 1034 255.1 1020.3 259.8 1019.6 254.3 1011.8Z" fill="#e03c2c"/><path d="M291.5 1009 298.2 1015.7 299.8 1011.2 310.3 1030.9 290.6 1020.4 295.1 1018.8 288.4 1012.1Z" fill="#e83e2c"/></g></g><path d="M20 1042.9L322.8 741.9" stroke="#000" stroke-width="1.1"/><rect x="20" y="741.9" width="302.8" height="301" fill="none" stroke="#000" stroke-width="1.9"/><text x="171.4" y="1069.3" text-anchor="middle" textLength="128.4" lengthAdjust="spacingAndGlyphs">Quiver plot</text><g clip-path="url(#u7)"><path d="M654.7 892.4A120 120 0 0 0 422.5 849.85L456.16 862.61A84 84 0 0 1 618.7 892.4Z" fill="#1a1a1a" stroke="#fff" stroke-width="2.3"/><path d="M422.5 849.85A120 120 0 0 0 580.62 1003.27L566.85 970.01A84 84 0 0 1 456.16 862.61Z" fill="#5c5c5c" stroke="#fff" stroke-width="2.3"/><path d="M580.62 1003.27A120 120 0 0 0 654.7 892.4L618.7 892.4A84 84 0 0 1 566.85 970.01Z" fill="#9a9a9a" stroke="#fff" stroke-width="2.3"/><path d="M618.7 892.4A84 84 0 0 0 514.6 810.84L523.21 845.79A48 48 0 0 1 582.7 892.4Z" fill="#1a1a1a" stroke="#fff" stroke-width="2.3"/><path d="M514.6 810.84A84 84 0 0 0 456.16 862.61L489.82 875.38A48 48 0 0 1 523.21 845.79Z" fill="#2f2f2f" stroke="#fff" stroke-width="2.3"/><path d="M456.16 862.61A84 84 0 0 0 473.54 949.98L499.75 925.3A48 48 0 0 1 489.82 875.38Z" fill="#6e6e6e" stroke="#fff" stroke-width="2.3"/><path d="M473.54 949.98A84 84 0 0 0 566.85 970.01L553.07 936.75A48 48 0 0 1 499.75 925.3Z" fill="#8a8a8a" stroke="#fff" stroke-width="2.3"/><path d="M566.85 970.01A84 84 0 0 0 614.9 917.39L580.53 906.68A48 48 0 0 1 553.07 936.75Z" fill="#b0b0b0" stroke="#fff" stroke-width="2.3"/><path d="M614.9 917.39A84 84 0 0 0 618.7 892.4L582.7 892.4A48 48 0 0 1 580.53 906.68Z" fill="#c8c8c8" stroke="#fff" stroke-width="2.3"/></g><g clip-path="url(#l7)"><path d="M654.7 892.4A120 120 0 0 0 422.5 849.85L456.16 862.61A84 84 0 0 1 618.7 892.4Z" fill="#3a7fbd" stroke="#fff" stroke-width="2.3"/><path d="M422.5 849.85A120 120 0 0 0 580.62 1003.27L566.85 970.01A84 84 0 0 1 456.16 862.61Z" fill="#74acd6" stroke="#fff" stroke-width="2.3"/><path d="M580.62 1003.27A120 120 0 0 0 654.7 892.4L618.7 892.4A84 84 0 0 1 566.85 970.01Z" fill="#a3c9e2" stroke="#fff" stroke-width="2.3"/><path d="M618.7 892.4A84 84 0 0 0 514.6 810.84L523.21 845.79A48 48 0 0 1 582.7 892.4Z" fill="#74acd6" stroke="#fff" stroke-width="2.3"/><path d="M514.6 810.84A84 84 0 0 0 456.16 862.61L489.82 875.38A48 48 0 0 1 523.21 845.79Z" fill="#a3c9e2" stroke="#fff" stroke-width="2.3"/><path d="M456.16 862.61A84 84 0 0 0 473.54 949.98L499.75 925.3A48 48 0 0 1 489.82 875.38Z" fill="#f0a05a" stroke="#fff" stroke-width="2.3"/><path d="M473.54 949.98A84 84 0 0 0 566.85 970.01L553.07 936.75A48 48 0 0 1 499.75 925.3Z" fill="#f2ad72" stroke="#fff" stroke-width="2.3"/><path d="M566.85 970.01A84 84 0 0 0 614.9 917.39L580.53 906.68A48 48 0 0 1 553.07 936.75Z" fill="#84c27a" stroke="#fff" stroke-width="2.3"/><path d="M614.9 917.39A84 84 0 0 0 618.7 892.4L582.7 892.4A48 48 0 0 1 580.53 906.68Z" fill="#a9d99f" stroke="#fff" stroke-width="2.3"/></g><path d="M383.3 1042.9L686.1 741.9" stroke="#000" stroke-width="1.1"/><rect x="383.3" y="741.9" width="302.8" height="301" fill="none" stroke="#000" stroke-width="1.9"/><text x="534.7" y="1069.3" text-anchor="middle" textLength="86.4" lengthAdjust="spacingAndGlyphs">Pie plot</text><g clip-path="url(#u8)"><g stroke="#000" stroke-width="0.8" stroke-linejoin="round"><path d="M901.1 860.2l-2.1 8-2 7 3.5 3.7 3.4 3.1 2-5.7 2-7.1-3.4-4.2z" fill="#595959"/><path d="M894.2 849.1l-2.1 8.5-2 7.9 3.5 5.2 3.4 4.5 2-7 2.1-8-3.5-5.3z" fill="#6d6d6d"/><path d="M890.1 865.5l-2 7-2 6 3.5 3.8 3.4 2.9 2-4.3 2-5.7-3.4-4.5z" fill="#505050"/><path d="M907.9 869.2l-2 7.1-2 5.7 3.5 2.4 3.4 2 2-4.2 2-6-3.4-3.2z" fill="#4b4b4b"/><path d="M883.2 853.2l-2 7.8-2 7.1 3.5 5.7 3.4 4.7 2-6 2-7-3.4-5.8z" fill="#666666"/><path d="M887.2 836.5l-2 8.5-2 8.2 3.5 6.5 3.4 5.8 2-7.9 2.1-8.5-3.5-6.2z" fill="#878787"/><path d="M897 875.2l-2 5.7-2 4.3 3.5 2 3.4 1.3 2-2.4 2-4.1-3.4-3.1z" fill="#434343"/><path d="M879.2 868.1l-2 6.3-2.1 5.4 3.5 4.2 3.4 3 2.1-3.7 2-4.8-3.4-4.7z" fill="#4e4e4e"/><path d="M914.8 876.2l-2 6-2 4.2 3.5 1.4 3.5 1.2 2-2.9 2-4.8-3.5-2.3z" fill="#434343"/><path d="M876.3 839.1l-2 7.9-2 7.5 3.4 7.2 3.5 6.4 2-7.1 2-7.8-3.4-6.9z" fill="#838383"/><path d="M880.3 823.5l-2 7.7-2 7.9 3.5 7.2 3.4 6.9 2-8.2 2-8.5-3.4-6.6z" fill="#a6a6a6"/><path d="M872.3 854.5l-2.1 7.1-2 6.5 3.5 6.4 3.4 5.3 2.1-5.4 2-6.3-3.5-6.4z" fill="#666666"/><path d="M886.1 878.5l-2 4.8-2.1 3.7 3.5 1.8 3.4 0.8 2.1-1.5 2-2.9-3.4-2.9z" fill="#404040"/><path d="M903.9 882l-2 4.1-2 2.4 3.5 0.6 3.4 0.2 2-0.6 2-2.3-3.4-2z" fill="#3e3e3e"/><path d="M868.2 868.1l-2 5.8-2.1 5.2 3.5 5 3.5 3.7 2-3.5 2-4.5-3.4-5.3z" fill="#505050"/><path d="M873.4 811.5l-2.1 6.4-2 6.8 3.5 7.1 3.5 7.3 2-7.9 2-7.7-3.5-6.3z" fill="#c6c6c6"/><path d="M869.3 824.7l-2 7.1-2 7.2 3.5 7.9 3.5 7.6 2-7.5 2-7.9-3.5-7.3z" fill="#a6a6a6"/><path d="M875.1 879.8l-2 4.5-2 3.5 3.4 2.3 3.4 0.8 2.1-1.4 2-2.5-3.4-3z" fill="#404040"/><path d="M865.3 839l-2 7.1-2.1 6.8 3.5 7.9 3.5 7.3 2-6.5 2.1-7.1-3.5-7.6z" fill="#878787"/><path d="M893 885.2l-2 2.9-2.1 1.5 3.5-0.1 3.5-0.8 2 0.6 2-0.8-3.4-1.3z" fill="#3d3d3d"/><path d="M861.2 852.9l-2 6.4-2 6 3.5 7.4 3.4 6.4 2.1-5.2 2-5.8-3.5-7.3z" fill="#6d6d6d"/><path d="M864.1 879.1l-2 4.4-2.1 3.8 3.5 3.4 3.4 1.8 2.1-2 2.1-2.7-3.5-3.7z" fill="#434343"/><path d="M882 887l-2 2.5-2.1 1.4 3.5-0.3 3.4-1.5 2.1 0.8 2-0.3-3.4-0.8z" fill="#3e3e3e"/><path d="M857.2 865.3l-2.1 5.5-2 4.9 3.5 6.5 3.4 5.1 2.1-3.8 2-4.4-3.4-6.4z" fill="#595959"/><path d="M899.9 888.5l-2 0.8-2-0.6 3.4-1.5 3.5-1.7 2 2.6 2 1.2-3.4-0.2z" fill="#424242"/><path d="M871.1 887.8l-2.1 2.7-2.1 2 3.5 0.1 3.4-1.3 2.1 0.2 2-0.6-3.4-0.8z" fill="#3d3d3d"/><path d="M853.1 875.7l-2.1 4.5-2.1 3.9 3.5 5.3 3.5 3.6 2.1-2.6 2-3.1-3.4-5.1z" fill="#4b4b4b"/><path d="M860 887.3l-2 3.1-2.1 2.6 3.4 1.7 3.4-0.1 2.1-0.8 2.1-1.3-3.4-1.8z" fill="#3e3e3e"/><path d="M888.9 889.6l-2 0.3-2.1-0.8 3.5-2.4 3.5-3 2 3 2.1 2-3.5 0.8z" fill="#474747"/><path d="M906.8 889.3l-2-1.2-2-2.6 3.5-2 3.5-1.9 2 4.3 2 2.9-3.5 0.3z" fill="#4c4c4c"/><path d="M877.9 890.9l-2 0.6-2.1-0.2 3.4-2.6 3.5-3.7 2.1 2.4 2 1.7-3.4 1.5z" fill="#474747"/><path d="M848.9 884.1l-2.1 3.4-2.1 3.1 3.5 4.2 3.5 2.2 2.1-1.8 2.1-2.2-3.5-3.6z" fill="#434343"/><path d="M866.9 892.5l-2.1 1.3-2.1 0.8 3.5-1.8 3.4-3.3 2.1 1.1 2.1 0.7-3.4 1.3z" fill="#424242"/><path d="M855.9 893l-2.1 2.2-2.1 1.8 3.4 0.2 3.4-1.8 2.1-0.3 2.1-0.5-3.4 0.1z" fill="#3e3e3e"/><path d="M895.9 888.7l-2.1-2-2-3 3.4-3.4 3.5-3.6 2.1 4.8 2 4-3.5 1.7z" fill="#575757"/><path d="M913.8 888.8l-2-2.9-2-4.3 3.5-1.8 3.5-1.5 2 5.5 2 4.2-3.5 0.3z" fill="#575757"/><path d="M844.7 890.6l-2.1 2.7-2.1 2.4 3.5 3.2 3.4 1.2 2.1-1.5 2.2-1.6-3.5-2.2z" fill="#3f3f3f"/><path d="M884.8 889.1l-2-1.7-2.1-2.4 3.4-4.4 3.5-4.9 2.1 4.2 2.1 3.8-3.5 3z" fill="#5b5b5b"/><path d="M873.8 891.3l-2.1-0.7-2.1-1.1 3.4-4.7 3.5-5.5 2.1 2.9 2.1 2.8-3.5 3.7z" fill="#575757"/><path d="M862.7 894.6l-2.1 0.5-2.1 0.3 3.4-3.5 3.4-5 2.2 1.3 2.1 1.3-3.4 3.3z" fill="#4c4c4c"/><path d="M851.7 897l-2.2 1.6-2.1 1.5 3.4-1.1 3.5-3 2.1-0.3 2.1-0.3-3.4 1.8z" fill="#414141"/><path d="M902.8 885.5l-2-4-2.1-4.8 3.5-3.6 3.6-3.3 2 6.3 2 5.5-3.5 1.9z" fill="#6a6a6a"/><path d="M840.5 895.7l-2.1 2.2-2.2 1.9 3.5 2.7 3.4 0.4 2.2-1.4 2.1-1.4-3.4-1.2z" fill="#3e3e3e"/><path d="M891.8 883.7l-2.1-3.8-2.1-4.2 3.5-5.1 3.5-5 2.1 5.6 2 5.5-3.5 3.6z" fill="#767676"/><path d="M847.4 900.1l-2.1 1.4-2.2 1.4 3.5-1.8 3.4-3.8 2.1-0.8 2.2-0.5-3.5 3z" fill="#444444"/><path d="M858.5 895.4l-2.1 0.3-2.1 0.3 3.4-4.8 3.4-6.2 2.1 0.8 2.1 1.1-3.4 5z" fill="#575757"/><path d="M836.2 899.8l-2.1 1.9-2.2 1.7 3.5 2.4 3.4 0.1 2.2-1.5 2.1-1.5-3.4-0.4z" fill="#3d3d3d"/><path d="M909.8 881.6l-2-5.5-2-6.3 3.5-2.8 3.5-2.3 2 7 2 6.6-3.5 1.5z" fill="#7c7c7c"/><path d="M880.7 885l-2.1-2.8-2.1-2.9 3.4-6.1 3.5-6.3 2.1 4.3 2.1 4.5-3.5 4.9z" fill="#767676"/><path d="M869.6 889.5l-2.1-1.3-2.2-1.3 3.5-6.2 3.4-6.9 2.1 2.6 2.2 2.9-3.5 5.5z" fill="#6a6a6a"/><path d="M843.1 902.9l-2.1 1.5-2.2 1.5 3.5-2 3.4-4.1 2.1-1.5 2.2-1-3.4 3.8z" fill="#474747"/><path d="M831.9 903.4l-2.2 1.5-2.1 1.5 3.5 2.6 3.4 0.4 2.2-1.8 2.1-1.7-3.4-0.1z" fill="#3d3d3d"/><path d="M916.8 878.3l-2-6.6-2-7 3.6-1.7 3.6-1 1.9 7.6 2 7.1-3.5 0.5z" fill="#8a8a8a"/><path d="M898.7 876.7l-2-5.5-2.1-5.6 3.5-4.6 3.5-4.1 2.1 6.4 2.1 6.5-3.6 3.3z" fill="#919191"/><path d="M854.3 896l-2.2 0.5-2.1 0.8 3.4-5.6 3.4-7 2.1-0.1 2.2 0.4-3.4 6.2z" fill="#606060"/><path d="M865.3 886.9l-2.1-1.1-2.1-0.8 3.4-7.3 3.4-7.7 2.2 1.6 2.1 2.2-3.4 6.9z" fill="#7c7c7c"/><path d="M887.6 875.7l-2.1-4.5-2.1-4.3 3.5-6.1 3.5-5.7 2.1 5 2.1 5.5-3.5 5z" fill="#989898"/><path d="M923.9 876.7l-2-7.1-1.9-7.6 3.5-0.2 3.6 0.6 2 7.6 1.9 7.3-3.5-0.6z" fill="#919191"/><path d="M838.8 905.9l-2.1 1.7-2.2 1.8 3.4-1.7 3.4-3.9 2.2-2.2 2.2-1.8-3.4 4.1z" fill="#474747"/><path d="M876.5 879.3l-2.2-2.9-2.1-2.6 3.4-7.2 3.5-7.1 2.2 3.4 2.1 4-3.5 6.3z" fill="#919191"/><path d="M827.6 906.4l-2.2 1.3-2.2 1 3.5 3.3 3.5 1.2 2.1-1.9 2.2-1.9-3.4-0.4z" fill="#3e3e3e"/><path d="M905.8 869.8l-2.1-6.5-2.1-6.4 3.6-3.4 3.6-2.6 2 6.6 2 7.2-3.5 2.3z" fill="#a8a8a8"/><path d="M850 897.3l-2.2 1-2.1 1.5 3.3-5.9 3.4-7.1 2.2-1.4 2.2-0.7-3.4 7z" fill="#656565"/><path d="M931 877.3l-1.9-7.3-2-7.6 3.6 1.3 3.6 2 1.9 7.6 1.9 7.1-3.5-1.8z" fill="#919191"/><path d="M834.5 909.4l-2.2 1.9-2.1 1.9 3.4-1 3.4-3.1 2.2-2.8 2.1-2.5-3.4 3.9z" fill="#444444"/><path d="M823.2 908.7l-2.2 0.9-2.3 0.5 3.6 4.3 3.5 2.3 2.2-1.7 2.2-1.8-3.5-1.2z" fill="#3f3f3f"/><path d="M861.1 885l-2.2-0.4-2.1 0.1 3.4-7.8 3.4-8.2 2.1 0.3 2.2 1-3.4 7.7z" fill="#8a8a8a"/><path d="M894.6 865.6l-2.1-5.5-2.1-5 3.5-5 3.6-4 2.1 4.9 2 5.9-3.5 4.1z" fill="#b8b8b8"/><path d="M845.7 899.8l-2.2 1.8-2.2 2.2 3.4-5.6 3.4-7 2.2-2.5 2.1-1.9-3.4 7.1z" fill="#656565"/><path d="M912.8 864.7l-2-7.2-2-6.6 3.6-1.8 3.5-1 2.1 6.6 2 7.3-3.6 1z" fill="#b8b8b8"/><path d="M872.2 873.8l-2.1-2.2-2.2-1.6 3.5-7.8 3.4-7.4 2.2 2 2.1 2.7-3.5 7.1z" fill="#a8a8a8"/><path d="M883.4 866.9l-2.1-4-2.2-3.4 3.5-6.5 3.6-5.6 2.1 3.4 2.1 4.3-3.5 5.7z" fill="#b8b8b8"/><path d="M830.2 913.2l-2.2 1.8-2.2 1.7 3.5 0.2 3.4-1.7 2.2-3.1 2.1-3-3.4 3.1z" fill="#414141"/><path d="M818.7 910.1l-2.2 0.2-2.3-0.2 3.6 5.5 3.6 3.7 2.2-1.1 2.2-1.5-3.5-2.3z" fill="#434343"/><path d="M841.3 903.8l-2.1 2.5-2.2 2.8 3.4-4.8 3.4-6.3 2.2-3.6 2.1-3.2-3.4 7z" fill="#606060"/><path d="M920 862l-2-7.3-2.1-6.6 3.6-0.2 3.6 0.5 2 6.6 2 7.4-3.6-0.6z" fill="#c0c0c0"/><path d="M856.8 884.7l-2.2 0.7-2.2 1.4 3.4-8.1 3.5-8.4 2.1-1.2 2.2-0.4-3.4 8.2z" fill="#919191"/><path d="M901.6 856.9l-2-5.9-2.1-4.9 3.6-3.2 3.5-2.1 2.1 4.4 2.1 5.7-3.6 2.6z" fill="#d0d0d0"/><path d="M825.8 916.7l-2.2 1.5-2.2 1.1 3.5 1.8 3.5-0.1 2.1-2.8 2.2-3-3.4 1.7z" fill="#3e3e3e"/><path d="M927.1 862.4l-2-7.4-2-6.6 3.6 1.3 3.6 2.1 2 6.6 2 7.3-3.6-2z" fill="#c0c0c0"/><path d="M837 909.1l-2.1 3-2.2 3.1 3.4-3.6 3.4-5.1 2.2-4.4 2.1-4.1-3.4 6.3z" fill="#575757"/><path d="M867.9 870l-2.2-1-2.1-0.3 3.4-8.1 3.5-7.2 2.2 0.3 2.1 1.1-3.4 7.4z" fill="#b8b8b8"/><path d="M934.3 865.7l-2-7.3-2-6.6 3.7 2.8 3.5 3.7 2 6.6 1.9 7.2-3.6-3.6z" fill="#b8b8b8"/><path d="M890.4 855.1l-2.1-4.3-2.1-3.4 3.5-4.5 3.6-3.3 2.1 2.6 2.1 3.9-3.6 4z" fill="#d7d7d7"/><path d="M852.4 886.8l-2.1 1.9-2.2 2.5 3.4-7.8 3.5-8.3 2.1-2.8 2.2-2-3.5 8.4z" fill="#919191"/><path d="M879.1 859.5l-2.1-2.7-2.2-2 3.5-6.3 3.6-5.1 2.1 1.5 2.2 2.5-3.6 5.6z" fill="#d0d0d0"/><path d="M814.2 910.1l-2.3-0.7-2.3-1.2 3.7 6.6 3.6 5.2 2.2-0.1 2.3-0.6-3.6-3.7z" fill="#4b4b4b"/><path d="M821.4 919.3l-2.3 0.6-2.2 0.1 3.5 3.6 3.5 1.9 2.3-2 2.2-2.5-3.5 0.1z" fill="#3e3e3e"/><path d="M908.8 850.9l-2.1-5.7-2.1-4.4 3.6-1.3 3.6-0.5 2.1 3.7 2 5.4-3.5 1z" fill="#dfdfdf"/><path d="M832.7 915.2l-2.2 3-2.1 2.8 3.4-1.8 3.4-3.4 2.2-4.6 2.1-4.7-3.4 5.1z" fill="#4c4c4c"/><path d="M848.1 891.2l-2.1 3.2-2.2 3.6 3.4-7.3 3.5-7.8 2.1-4.3 2.2-3.5-3.5 8.3z" fill="#8a8a8a"/><path d="M863.6 868.7l-2.2 0.4-2.1 1.2 3.4-8 3.5-7.3 2.2-1.2 2.1-0.4-3.5 7.2z" fill="#c0c0c0"/><path d="M828.4 921l-2.2 2.5-2.3 2 3.5 0.2 3.5-1.3 2.2-4.1 2.1-4.5-3.4 3.4z" fill="#424242"/><path d="M915.9 848.1l-2-5.4-2.1-3.7 3.7 0.1 3.6 0.7 2 3.4 2 5.2-3.6-0.5z" fill="#e6e6e6"/><path d="M897.5 846.1l-2.1-3.9-2.1-2.6 3.6-1.9 3.6-0.8 2.1 1.1 2 2.8-3.5 2.1z" fill="#ececec"/><path d="M843.8 898l-2.1 4.1-2.2 4.4 3.5-6.2 3.4-7 2.1-5.5 2.2-4.9-3.5 7.8z" fill="#7c7c7c"/><path d="M816.9 920l-2.3-0.5-2.3-1.2 3.6 5.2 3.6 3.9 2.2-0.6 2.2-1.3-3.5-1.9z" fill="#434343"/><path d="M809.6 908.2l-2.3-1.8-2.4-2.4 3.7 7.7 3.7 6.6 2.3 1.2 2.3 0.5-3.6-5.2z" fill="#595959"/><path d="M886.2 847.4l-2.2-2.5-2.1-1.5 3.5-3.5 3.6-1.7 2.2 0.1 2.1 1.3-3.6 3.3z" fill="#ececec"/><path d="M874.8 854.8l-2.1-1.1-2.2-0.3 3.5-6.1 3.6-4.4 2.1-0.1 2.2 0.6-3.6 5.1z" fill="#dfdfdf"/><path d="M923.1 848.4l-2-5.2-2-3.4 3.6 1.2 3.6 1.7 2.1 3.7 1.9 5.4-3.6-2.1z" fill="#e6e6e6"/><path d="M839.5 906.5l-2.1 4.7-2.2 4.6 3.5-4.7 3.4-5.6 2.1-6.2 2.2-6-3.4 7z" fill="#6a6a6a"/><path d="M823.9 925.5l-2.2 1.3-2.2 0.6 3.5 2.3 3.5 1 2.2-2.8 2.2-3.5-3.5 1.3z" fill="#3d3d3d"/><path d="M859.3 870.3l-2.2 2-2.1 2.8 3.4-8 3.5-7.4 2.1-2.7 2.2-2-3.5 7.3z" fill="#c0c0c0"/><path d="M904.6 840.8l-2-2.8-2.1-1.1 3.6 0.1 3.6 0.7 2.1-0.4 2 1.7-3.6 0.5z" fill="#f7f7f7"/><path d="M930.3 851.8l-1.9-5.4-2.1-3.7 3.7 2.3 3.6 3.1 2 4.4 1.9 5.8-3.5-3.7z" fill="#dfdfdf"/><path d="M937.5 858.3l-1.9-5.8-2-4.4 3.6 4 3.6 5 2 5 1.9 5.9-3.6-5.2z" fill="#d0d0d0"/><path d="M835.2 915.8l-2.1 4.5-2.2 4.1 3.5-2.7 3.4-3.7 2.2-6.2 2.1-6.3-3.4 5.6z" fill="#575757"/><path d="M893.3 839.6l-2.1-1.3-2.2-0.1 3.6-0.1 3.6 1.3 2.1-2 2.2-0.5-3.6 0.8z" fill="#fbfbfb"/><path d="M911.8 839l-2-1.7-2.1 0.4 3.6 0.9 3.6 1 2.1-1.1 2.1 1.3-3.6-0.7z" fill="#fbfbfb"/><path d="M830.9 924.4l-2.2 3.5-2.2 2.8 3.5-0.4 3.5-1.4 2.2-5.1 2.1-5.8-3.4 3.7z" fill="#474747"/><path d="M870.5 853.4l-2.1 0.4-2.2 1.2 3.5-5.9 3.6-4 2.1-1.4 2.2-0.8-3.6 4.4z" fill="#e6e6e6"/><path d="M855 875.1l-2.2 3.5-2.1 4.3 3.4-7.9 3.5-7.3 2.1-4.4 2.2-3.6-3.5 7.4z" fill="#b8b8b8"/><path d="M812.3 918.3l-2.4-2-2.4-2.7 3.7 6.6 3.6 5.6 2.4 1.2 2.3 0.4-3.6-3.9z" fill="#505050"/><path d="M881.9 843.4l-2.2-0.6-2.1 0.1 3.6-2.4 3.6-0.2 2.1-1.4 2.1-0.7-3.6 1.7z" fill="#f7f7f7"/><path d="M819.5 927.4l-2.3-0.4-2.4-1.2 3.7 4.3 3.5 3.2 2.3-0.8 2.2-1.8-3.5-1z" fill="#404040"/><path d="M804.9 904l-2.4-2.9-2.4-3.4 3.7 8.3 3.7 7.6 2.4 2.7 2.4 2-3.7-6.6z" fill="#6d6d6d"/><path d="M900.5 836.9l-2.2 0.5-2.1 2 3.7 2.4 3.6 2.9 2.1-4.5 2.1-2.5-3.6-0.7z" fill="#fcfcfc"/><path d="M850.7 882.9l-2.2 4.9-2.1 5.5 3.4-7.3 3.5-7.1 2.1-6 2.2-5.2-3.5 7.3z" fill="#a8a8a8"/><path d="M919.1 839.8l-2.1-1.3-2.1 1.1 3.7 0.9 3.6 0.8 2.1-0.4 2 1.8-3.6-1.7z" fill="#fbfbfb"/><path d="M826.5 930.7l-2.2 1.8-2.3 0.8 3.6 2 3.6 0.9 2.2-3.1 2.1-4.2-3.5 1.4z" fill="#3e3e3e"/><path d="M846.4 893.3l-2.2 6-2.1 6.2 3.5-6.2 3.4-6.4 2.2-7.3 2.1-6.7-3.5 7.1z" fill="#919191"/><path d="M889 838.2l-2.1 0.7-2.1 1.4 3.6 1.9 3.6 3.8 2.1-3.5 2.1-3.1-3.6-1.3z" fill="#fcfcfc"/><path d="M907.7 837.7l-2.1 2.5-2.1 4.5 3.6 2.5 3.6 1.5 2.1-5.7 2.1-3.4-3.6-1z" fill="#f9f9f9"/><path d="M842.1 905.5l-2.1 6.3-2.2 6.2 3.5-4.5 3.5-5 2.1-7.9 2.1-7.7-3.4 6.4z" fill="#767676"/><path d="M866.2 855l-2.2 2-2.1 2.7 3.5-6 3.5-4.4 2.2-2.4 2.2-1.8-3.6 4z" fill="#e6e6e6"/><path d="M926.3 842.7l-2-1.8-2.1 0.4 3.7 1.2 3.6 1.7 2.1 1.1 2 2.8-3.6-3.1z" fill="#f7f7f7"/><path d="M896.2 839.4l-2.1 3.1-2.1 3.5 3.6 5.3 3.7 6 2.1-6.7 2.1-5.9-3.6-2.9z" fill="#f2f2f2"/><path d="M837.8 918l-2.1 5.8-2.2 5.1 3.5-2.4 3.5-3.1 2.2-7.2 2.1-7.7-3.5 5z" fill="#5b5b5b"/><path d="M877.6 842.9l-2.2 0.8-2.1 1.4 3.6-2 3.6 0.4 2.1-1.6 2.2-1.6-3.6 0.2z" fill="#fbfbfb"/><path d="M940.8 857.1l-2-3.8-2-2.6 3.6 5.1 3.7 6.4 1.9 3.5 2 4.3-3.6-6.9z" fill="#d7d7d7"/><path d="M903.5 844.7l-2.1 5.9-2.1 6.7 3.6 5.5 3.6 2.9 2.1-9.3 2.1-7.7-3.6-1.5z" fill="#e3e3e3"/><path d="M933.6 848.1l-2-2.8-2.1-1.1 3.7 2.7 3.6 3.8 2 2.6 2 3.8-3.6-5z" fill="#ececec"/><path d="M899.3 857.3l-2.2 6.2-2.1 3.5 3.7 9.8 3.6 10.3 2.1-11 2.1-10.4-3.6-2.9z" fill="#c4c4c4"/><path d="M914.9 839.6l-2.1 3.4-2.1 5.7 3.7 0.3 3.6-0.6 2.1-4.5 2.1-2.6-3.6-0.8z" fill="#f9f9f9"/><path d="M833.5 928.9l-2.1 4.2-2.2 3.1 3.5-0.1 3.5-0.8 2.2-5.4 2.1-6.5-3.5 3.1z" fill="#474747"/><path d="M814.8 925.8l-2.3-2.3-2.4-3.2 3.7 6 3.6 4.9 2.3 1.7 2.3 0.4-3.5-3.2z" fill="#4e4e4e"/><path d="M892 846l-2.1 3.2-2.2 2.2 3.7 7 3.6 8.6 2.1-3.5 2.2-6.2-3.7-6z" fill="#e3e3e3"/><path d="M884.8 840.3l-2.2 1.6-2.1 1.6 3.6 2.8 3.6 5.1 2.2-2.2 2.1-3.2-3.6-3.8z" fill="#f9f9f9"/><path d="M807.5 913.6l-2.4-3.5-2.4-4 3.7 7.5 3.7 6.7 2.4 3.2 2.3 2.3-3.6-5.6z" fill="#666666"/><path d="M822 933.3l-2.3-0.4-2.3-1.7 3.6 4.1 3.6 3 2.3-0.3 2.3-1.8-3.6-0.9z" fill="#404040"/><path d="M861.9 859.7l-2.2 3.6-2.1 4.4 3.5-6.5 3.5-5.1 2.2-3.8 2.1-3-3.5 4.4z" fill="#dfdfdf"/><path d="M910.7 848.7l-2.1 7.7-2.1 9.3 3.6-1 3.7-3.6 2.1-6.7 2.1-6-3.6 0.6z" fill="#e3e3e3"/><path d="M906.5 865.7l-2.1 10.4-2.1 11 3.6-8.4 3.7-7.9 2.1-3.5 2.1-6.2-3.7 3.6z" fill="#c4c4c4"/><path d="M922.2 841.3l-2.1 2.6-2.1 4.5 3.7-1 3.7-0.6 2.1-2 2-0.6-3.6-1.7z" fill="#fcfcfc"/><path d="M800.1 897.7l-2.4-3.8-2.5-4.1 3.7 8.2 3.8 8.1 2.4 4 2.4 3.5-3.7-7.6z" fill="#878787"/><path d="M873.3 845.1l-2.2 1.8-2.2 2.4 3.6-2.4 3.6-0.3 2.2-1.5 2.2-1.6-3.6-0.4z" fill="#fbfbfb"/><path d="M829.2 936.2l-2.3 1.8-2.3 0.3 3.6 2.2 3.6 1.4 2.2-2.5 2.2-4.1-3.5 0.8z" fill="#3d3d3d"/><path d="M895 867l-2.1-0.3-2.2-2.9 3.7 5.5 3.6 2.9 2.2 7.2 2.1 7.7-3.6-10.3z" fill="#c4c4c4"/><path d="M857.6 867.7l-2.2 5.2-2.1 6 3.5-6.6 3.5-5.7 2.2-5.7 2.1-4.8-3.5 5.1z" fill="#d0d0d0"/><path d="M844.8 908.5l-2.1 7.7-2.2 7.2 3.5-3.5 3.6-3.6 2.1-9 2.1-9.1-3.5 5.1z" fill="#767676"/><path d="M853.3 878.9l-2.1 6.7-2.2 7.3 3.5-6.2 3.5-5.8 2.2-7.6 2.1-6.7-3.5 5.7z" fill="#b8b8b8"/><path d="M849 892.9l-2.1 7.7-2.1 7.9 3.5-5.2 3.5-5.1 2.1-8.9 2.1-8.4-3.5 5.8z" fill="#989898"/><path d="M840.5 923.4l-2.1 6.5-2.2 5.4 3.6-1.4 3.5-1.8 2.1-7.5 2.2-8.3-3.6 3.6z" fill="#575757"/><path d="M887.7 851.4l-2.1 1-2.2 0 3.7 5.3 3.6 6.1 2.2 2.9 2.1 0.3-3.6-8.6z" fill="#e3e3e3"/><path d="M929.5 844.2l-2 0.6-2.1 2 3.6 0.5 3.7 2 2.1 0.1 2 1.3-3.6-3.8z" fill="#fbfbfb"/><path d="M880.5 843.5l-2.2 1.6-2.2 1.5 3.7 1.9 3.6 3.9 2.2 0 2.1-1-3.6-5.1z" fill="#f9f9f9"/><path d="M918 848.4l-2.1 6-2.1 6.7 3.7-4.2 3.7-3.5 2.1-3.5 2.1-3.1-3.7 0.6z" fill="#f2f2f2"/><path d="M936.8 850.7l-2-1.3-2.1-0.1 3.7 3.6 3.6 5.4 2.1 1.5 2 2.4-3.7-6.4z" fill="#ececec"/><path d="M902.3 887.1l-2.1-7.7-2.2-7.2 3.7-1 3.6-3.6 2.2 2.9 2.1 0.3-3.7 7.9z" fill="#c4c4c4"/><path d="M836.2 935.3l-2.2 4.1-2.2 2.5 3.6 0.7 3.6 0.3 2.2-4.6 2.1-6.2-3.5 1.8z" fill="#424242"/><path d="M868.9 849.3l-2.1 3-2.2 3.8 3.6-3.5 3.6-1.7 2.2-2.4 2.1-1.9-3.6 0.3z" fill="#f7f7f7"/><path d="M817.4 931.2l-2.4-2.8-2.4-4 3.7 5.5 3.7 4.8 2.3 2.5 2.3 1.1-3.6-3z" fill="#505050"/><path d="M810.1 920.3l-2.4-4-2.5-4.8 3.7 6.8 3.7 6.1 2.4 4 2.4 2.8-3.6-4.9z" fill="#666666"/><path d="M913.8 861.1l-2.1 6.2-2.1 3.5 3.7-6.7 3.7-5.2 2.1-2.3 2.1-3.2-3.7 3.5z" fill="#e3e3e3"/><path d="M824.6 938.3l-2.3-1.1-2.3-2.5 3.6 4 3.6 3.2 2.3 0.9 2.3-0.9-3.6-1.4z" fill="#434343"/><path d="M802.7 906.1l-2.5-4.6-2.5-4.9 3.8 7.6 3.7 7.3 2.5 4.8 2.4 4-3.7-6.7z" fill="#838383"/><path d="M925.4 846.8l-2.1 3.1-2.1 3.5 3.7-1.9 3.7 0 2-1.4 2.1-0.8-3.7-2z" fill="#fcfcfc"/><path d="M864.6 856.1l-2.1 4.8-2.2 5.7 3.6-4.6 3.6-3.2 2.1-4.6 2.2-3.3-3.6 1.7z" fill="#ececec"/><path d="M847.6 916.3l-2.2 8.3-2.1 7.5 3.6-2 3.5-1.9 2.1-9.1 2.2-9.8-3.6 3.4z" fill="#6a6a6a"/><path d="M876.1 846.6l-2.1 1.9-2.2 2.4 3.6-0.1 3.7 1.4 2.1-0.1 2.2 0.3-3.6-3.9z" fill="#fcfcfc"/><path d="M831.8 941.9l-2.3 0.9-2.3-0.9 3.7 2.7 3.6 2.1 2.2-1 2.3-2.8-3.6-0.3z" fill="#3e3e3e"/><path d="M843.3 932.1l-2.1 6.2-2.2 4.6 3.5-0.1 3.6-0.4 2.2-6.3 2.1-7.9-3.5 1.9z" fill="#4c4c4c"/><path d="M851.8 898.2l-2.1 9.1-2.1 9 3.5-3.6 3.6-3.4 2.1-10 2.1-9.9-3.6 4.1z" fill="#919191"/><path d="M883.4 852.4l-2.2-0.3-2.1 0.1 3.6 2.4 3.7 2.9 2.2 2.8 2.1 3.5-3.6-6.1z" fill="#f2f2f2"/><path d="M795.2 889.8l-2.5-4.3-2.5-4.2 3.8 7.6 3.7 7.7 2.5 4.9 2.5 4.6-3.8-8.1z" fill="#a6a6a6"/><path d="M860.3 866.6l-2.1 6.7-2.2 7.6 3.6-5 3.5-4.1 2.2-7.2 2.2-5.8-3.6 3.2z" fill="#d7d7d7"/><path d="M856 880.9l-2.1 8.4-2.1 8.9 3.5-4.7 3.6-4.1 2.1-9.3 2.1-8.3-3.5 4.1z" fill="#b8b8b8"/><path d="M932.7 849.3l-2.1 0.8-2 1.4 3.7 2.1 3.6 4.3 2.1-0.2 2 0.6-3.6-5.4z" fill="#f7f7f7"/><path d="M890.7 863.8l-2.1-3.5-2.2-2.8 3.6 2.5 3.7 1.6 2.2 4.5 2.1 6.1-3.6-2.9z" fill="#e3e3e3"/><path d="M909.6 870.8l-2.1-0.3-2.2-2.9 3.7-4.2 3.7-3.5 2.1 0 2.2-1-3.7 5.2z" fill="#e3e3e3"/><path d="M839 942.9l-2.3 2.8-2.2 1 3.6 1.6 3.6 1.3 2.2-2.6 2.2-4.6-3.6 0.4z" fill="#3e3e3e"/><path d="M812.6 924.4l-2.4-4.9 3.7 6 3.7 5.3 2.4 3.9-3.7-4.8z" fill="#646464"/><path d="M820 934.7l-2.4-3.9 3.6 4.6 3.7 4 2.3 2.5-3.6-3.2z" fill="#515151"/><path d="M921.2 853.4l-2.1 3.2-2.1 2.3 3.7-3.2 3.7-0.9 2.1-1.7 2.1-1.6-3.7 0z" fill="#f9f9f9"/><path d="M871.8 850.9l-2.2 3.3-2.1 4.6 3.6-2 3.6-0.8 2.2-2.6 2.2-1.2-3.7-1.4z" fill="#fbfbfb"/><path d="M850.4 928.2l-2.1 7.9-2.2 6.3 3.6-0.3 3.6-0.3 2.2-7.7 2.1-9.2-3.6 1.5z" fill="#575757"/><path d="M805.2 911.5l-2.5-5.4 3.7 6.9 3.8 6.5 2.4 4.9-3.7-6.1z" fill="#7e7e7e"/><path d="M827.2 941.9l-2.3-2.5 3.6 3.4 3.7 2.9 2.3 1-3.6-2.1z" fill="#454545"/><path d="M898 872.2l-2.1-6.1-2.2-4.5 3.7 0.3 3.7-0.6 2.1 2.8 2.1 3.5-3.6 3.6z" fill="#e3e3e3"/><path d="M854.7 909.3l-2.2 9.8-2.1 9.1 3.6-1.8 3.6-1.5 2.1-10.1 2.1-10.7-3.6 2.3z" fill="#7c7c7c"/><path d="M846.1 942.4l-2.2 4.6-2.2 2.6 3.6 1 3.6 0.9 2.3-3.9 2.1-5.8-3.6 0.3z" fill="#414141"/><path d="M797.7 896.6l-2.5-5.1 3.8 7.4 3.7 7.2 2.5 5.4-3.7-7.3z" fill="#9d9d9d"/><path d="M834.5 946.7l-2.3-1 3.6 2.4 3.6 1.9 2.3-0.4-3.6-1.3z" fill="#3e3e3e"/><path d="M935.9 857.9l-2.1 0.8-2 1.4 3.6 6 3.7 7.9 2.1-1.3 2-0.5-3.6-8z" fill="#e6e6e6"/><path d="M858.9 889.4l-2.1 9.9-2.1 10 3.5-2.9 3.6-2.3 2.1-10.6 2.2-10.2-3.6 2.7z" fill="#a8a8a8"/><path d="M928.6 851.5l-2.1 1.6-2.1 1.7 3.7 1.5 3.7 3.8 2-1.4 2.1-0.8-3.6-4.3z" fill="#fbfbfb"/><path d="M867.5 858.8l-2.2 5.8-2.2 7.2 3.6-3.2 3.7-2.1 2.1-6.1 2.2-4.4-3.6 0.8z" fill="#ececec"/><path d="M879.1 852.2l-2.2 1.2-2.2 2.6 3.7 0.1 3.6 0.8 2.2-0.7 2.2 1.3-3.7-2.9z" fill="#fcfcfc"/><path d="M863.1 871.8l-2.1 8.3-2.1 9.3 3.6-3.4 3.6-2.7 2.1-9.1 2.2-7.7-3.7 2.1z" fill="#d0d0d0"/><path d="M790.2 881.3l-2.5-3.9 3.7 6.9 3.8 7.2 2.5 5.1-3.7-7.7z" fill="#bebebe"/><path d="M857.6 924.9l-2.1 9.2-2.2 7.7 3.6-0.2 3.7 0.2 2.1-8.5 2.1-9.9-3.6 0.5z" fill="#606060"/><path d="M917 858.9l-2.2 1-2.1 0 3.7-1.9 3.7 0 2.2-1.6 2.1-1.6-3.7 0.9z" fill="#f9f9f9"/><path d="M841.7 949.6l-2.3 0.4 3.7 1.7 3.6 1.4 2.2-1.6-3.6-0.9z" fill="#3c3c3c"/><path d="M905.3 867.6l-2.1-3.5-2.1-2.8 3.7-1 3.7-0.5 2.1-0.1 2.1 0.2-3.7 3.5z" fill="#f2f2f2"/><path d="M886.4 857.5l-2.2-1.3-2.2 0.7 3.7 1 3.7 1 2.1 0.2 2.2 2.5-3.7-1.6z" fill="#f9f9f9"/><path d="M861.8 904.1l-2.1 10.7-2.1 10.1 3.6-1 3.6-0.5 2.2-10.8 2.1-11.1-3.7 0.9z" fill="#8a8a8a"/><path d="M931.8 860.1l-2.1 1.9-2.2 2.4 3.7 6.4 3.7 8.1 2.1-2.9 2.1-2-3.7-7.9z" fill="#e6e6e6"/><path d="M874.7 856l-2.2 4.4-2.1 6.1 3.6-1.3 3.7-0.5 2.1-5 2.2-2.8-3.6-0.8z" fill="#f7f7f7"/><path d="M924.4 854.8l-2.1 1.6-2.2 1.6 3.8 2.1 3.6 4.3 2.2-2.4 2.1-1.9-3.7-3.8z" fill="#fbfbfb"/><path d="M866.1 883.3l-2.2 10.2-2.1 10.6 3.6-1.7 3.7-0.9 2.1-10.9 2.2-10.1-3.7 1z" fill="#b8b8b8"/><path d="M864.8 923.4l-2.1 9.9-2.1 8.5 3.6 0.4 3.7 0.9 2.1-8.8 2.1-10.1-3.6-0.7z" fill="#656565"/><path d="M893.7 861.6l-2.2-2.5-2.1-0.2 3.7 0.9 3.7 0.9 2.1-0.7 2.2 1.3-3.7 0.6z" fill="#f9f9f9"/><path d="M870.4 866.5l-2.2 7.7-2.1 9.1 3.6-1.8 3.7-1 2.1-8.7 2.2-7.1-3.7 0.5z" fill="#dfdfdf"/><path d="M869.1 901.5l-2.1 11.1-2.2 10.8 3.7 0.1 3.6 0.7 2.2-11 2.1-11.3-3.7-0.6z" fill="#919191"/><path d="M912.7 859.9l-2.1-0.2-2.1 0.1 3.7 0.5 3.7 2 2.1-2.5 2.1-1.8-3.7 0z" fill="#fcfcfc"/><path d="M882 856.9l-2.2 2.8-2.1 5 3.6 0.2 3.7 0.7 2.2-4.6 2.2-2.1-3.7-1z" fill="#fbfbfb"/><path d="M927.5 864.4l-2.1 3.1-2.1 3.9 3.7 7.1 3.7 8.5 2.1-4.5 2.1-3.6-3.7-8.1z" fill="#dfdfdf"/><path d="M873.4 880.5l-2.2 10.1-2.1 10.9 3.6-0.2 3.7 0.6 2.1-10.9 2.2-10.1-3.7-0.6z" fill="#c0c0c0"/><path d="M901.1 861.3l-2.2-1.3-2.1 0.7 3.7 1.2 3.7 1.8 2.1-2.7 2.2-1.2-3.7 0.5z" fill="#fcfcfc"/><path d="M920.1 858l-2.1 1.8-2.1 2.5 3.7 3.7 3.7 5.4 2.1-3.9 2.1-3.1-3.6-4.3z" fill="#f7f7f7"/><path d="M876.4 901.9l-2.1 11.3-2.2 11 3.7 1.3 3.7 2 2.1-10.8 2.2-11.2-3.7-2.2z" fill="#919191"/><path d="M877.7 864.7l-2.2 7.1-2.1 8.7 3.6-0.2 3.7 0.6 2.2-8.6 2.1-6.7-3.7-0.7z" fill="#e6e6e6"/><path d="M889.4 858.9l-2.2 2.1-2.2 4.6 3.7 1.2 3.7 1.8 2.2-5.1 2.2-2.8-3.7-0.9z" fill="#fbfbfb"/><path d="M883.8 905.5l-2.2 11.2-2.1 10.8 3.7 2.5 3.7 3.1 2.1-10.2 2.2-10.7-3.7-3.7z" fill="#8a8a8a"/><path d="M908.5 859.8l-2.2 1.2-2.1 2.7 3.7 2.7 3.7 3.9 2.1-4.6 2.2-3.4-3.7-2z" fill="#fbfbfb"/><path d="M880.7 880.9l-2.2 10.1-2.1 10.9 3.7 1.4 3.7 2.2 2.1-10.9 2.2-10.1-3.7-2.2z" fill="#c0c0c0"/><path d="M915.9 862.3l-2.2 3.4-2.1 4.6 3.7 5.2 3.7 6.6 2.2-5.9 2.1-4.8-3.7-5.4z" fill="#ececec"/><path d="M885 865.6l-2.1 6.7-2.2 8.6 3.7 1.4 3.7 2.2 2.1-8.8 2.2-7.1-3.7-1.8z" fill="#e6e6e6"/><path d="M896.8 860.7l-2.2 2.8-2.2 5.1 3.7 2.4 3.7 3.2 2.2-6.1 2.2-4.4-3.7-1.8z" fill="#f7f7f7"/><path d="M888.1 884.5l-2.2 10.1-2.1 10.9 3.7 3 3.7 3.7 2.1-10.8 2.2-10.2-3.7-3.8z" fill="#b8b8b8"/><path d="M895.5 891.2l-2.2 10.2-2.1 10.8 3.7 4.3 3.7 5 2.2-10.2 2.1-10-3.7-5.4z" fill="#a8a8a8"/><path d="M911.6 870.3l-2.2 5.9-2.1 7.3 3.7 6.1 3.7 7.1 2.1-7.8 2.2-6.8-3.7-6.6z" fill="#d7d7d7"/><path d="M907.3 883.5l-2.2 8.4-2.2 9.4 3.7 6.2 3.8 6.7 2.1-9 2.2-8.5-3.7-7.1z" fill="#b8b8b8"/><path d="M904.2 863.7l-2.2 4.4-2.2 6.1 3.8 4.1 3.7 5.2 2.1-7.3 2.2-5.9-3.7-3.9z" fill="#ececec"/><path d="M892.4 868.6l-2.2 7.1-2.1 8.8 3.7 2.9 3.7 3.8 2.2-9.2 2.1-7.8-3.7-3.2z" fill="#dfdfdf"/><path d="M899.8 874.2l-2.1 7.8-2.2 9.2 3.7 4.7 3.7 5.4 2.2-9.4 2.2-8.4-3.7-5.2z" fill="#d0d0d0"/></g></g><g clip-path="url(#l8)"><g stroke-width="0.5"><path d="M907.9 869.2l-2 7.1-2 5.7 3.5 2.4 3.4 2 2-4.2 2-6-3.4-3.2z" fill="#8c3086" stroke="#a3599e"/><path d="M914.8 876.2l-2 6-2 4.2 3.5 1.4 3.5 1.2 2-2.9 2-4.8-3.5-2.3z" fill="#822c87" stroke="#9b569f"/><path d="M903.9 882l-2 4.1-2 2.4 3.5 0.6 3.4 0.2 2-0.6 2-2.3-3.4-2z" fill="#7a2986" stroke="#95549f"/><path d="M921.8 881.3l-2 4.8-2 2.9 3.5 0.9 3.4 0.8 2-1.8 2-3.9-3.5-1.7z" fill="#7d2b87" stroke="#97559f"/><path d="M910.8 886.4l-2 2.3-2 0.6 3.5-0.2 3.5-0.3 2 1 2-0.8-3.5-1.2z" fill="#7a2986" stroke="#95549f"/><path d="M928.7 885l-2 3.9-2 1.8 3.5 0.7 3.5 0.7 2-1 2-3.3-3.5-1.3z" fill="#7a2986" stroke="#95549f"/><path d="M899.9 888.5l-2 0.8-2-0.6 3.4-1.5 3.5-1.7 2 2.6 2 1.2-3.4-0.2z" fill="#802c87" stroke="#9a569f"/><path d="M917.8 889l-2 0.8-2-1 3.5-0.5 3.5-0.3 2 2.3 1.9 0.4-3.4-0.8z" fill="#7f2b87" stroke="#98569f"/><path d="M935.7 887.8l-2 3.3-2 1 3.5 0.8 3.5 0.9 2-0.8 2-3.1-3.5-1z" fill="#7a2986" stroke="#95549f"/><path d="M942.7 889.9l-2 3.1-2 0.8 3.6 1 3.5 1 1.9-1 2-3.3-3.5-0.7z" fill="#7a2986" stroke="#95549f"/><path d="M924.7 890.7l-1.9-0.4-2-2.3 3.5-0.2 3.5 0 2 3.2 1.9 1.1-3.5-0.7z" fill="#832d87" stroke="#9c579f"/><path d="M906.8 889.3l-2-1.2-2-2.6 3.5-2 3.5-1.9 2 4.3 2 2.9-3.5 0.3z" fill="#8e3186" stroke="#a45a9e"/><path d="M949.7 891.5l-2 3.3-1.9 1 3.5 1.2 3.6 1.1 1.9-1.7 2-4-3.6-0.3z" fill="#7a2986" stroke="#95549f"/><path d="M931.7 892.1l-1.9-1.1-2-3.2 3.5 0.4 3.6 0.8 1.9 3.4 1.9 1.4-3.5-0.9z" fill="#862e87" stroke="#9e589f"/><path d="M913.8 888.8l-2-2.9-2-4.3 3.5-1.8 3.5-1.5 2 5.5 2 4.2-3.5 0.3z" fill="#9c3585" stroke="#b05e9d"/><path d="M956.8 892.4l-2 4-1.9 1.7 3.5 1.1 3.5 1 2-2.9 2-4.9-3.6 0.2z" fill="#7d2b87" stroke="#97559f"/><path d="M938.7 893.8l-1.9-1.4-1.9-3.4 3.5 1.1 3.5 1.5 2 3.1 1.9 1.1-3.5-1z" fill="#862e87" stroke="#9e589f"/><path d="M945.8 895.8l-1.9-1.1-2-3.1 3.6 1.8 3.5 2 1.9 2.4 2 0.3-3.6-1.1z" fill="#832d87" stroke="#9c579f"/><path d="M920.8 888l-2-4.2-2-5.5 3.6-1.1 3.5-0.5 2 6.3 1.9 4.8-3.5 0z" fill="#a83983" stroke="#ba619c"/><path d="M963.9 892.4l-2 4.9-2 2.9 3.6 0.7 3.6 0.4 2-4.3 2-6-3.6 0.9z" fill="#822c87" stroke="#9b569f"/><path d="M902.8 885.5l-2-4-2.1-4.8 3.5-3.6 3.6-3.3 2 6.3 2 5.5-3.5 1.9z" fill="#b63e7f" stroke="#c56499"/><path d="M952.9 898.1l-2-0.3-1.9-2.4 3.6 2.3 3.5 2.3 1.9 1.1 1.9-0.9-3.5-1z" fill="#7f2b87" stroke="#98569f"/><path d="M927.8 887.8l-1.9-4.8-2-6.3 3.6 0 3.5 0.6 1.9 6.5 2 5.2-3.6-0.8z" fill="#b03c81" stroke="#c0639a"/><path d="M971.1 891l-2 6-2 4.3 3.6-0.1 3.6-0.6 2-5.8 2-7.2-3.6 2z" fill="#8c3086" stroke="#a3599e"/><path d="M959.9 900.2l-1.9 0.9-1.9-1.1 3.5 2.3 3.6 2 1.9-0.6 2-2.4-3.6-0.4z" fill="#7a2986" stroke="#95549f"/><path d="M909.8 881.6l-2-5.5-2-6.3 3.5-2.8 3.5-2.3 2 7 2 6.6-3.5 1.5z" fill="#cf4776" stroke="#d96c92"/><path d="M934.9 889l-2-5.2-1.9-6.5 3.6 1.3 3.5 1.8 1.9 6.3 1.9 4.9-3.5-1.5z" fill="#b03c81" stroke="#c0639a"/><path d="M967.1 901.3l-2 2.4-1.9 0.6 3.6 1.8 3.6 1.2 1.9-2.5 2-4.2-3.6 0.6z" fill="#7a2986" stroke="#95549f"/><path d="M941.9 891.6l-1.9-4.9-1.9-6.3 3.6 2.4 3.5 3 1.9 5.5 1.9 4.1-3.5-2z" fill="#a83983" stroke="#ba619c"/><path d="M978.3 887.6l-2 7.2-2 5.8 3.6-1.2 3.7-2 2-7.1 2.1-8.2-3.7 3z" fill="#9f3684" stroke="#b25e9d"/><path d="M949 895.4l-1.9-4.1-1.9-5.5 3.6 3.3 3.5 3.7 1.9 4.3 1.9 2.9-3.5-2.3z" fill="#9c3585" stroke="#b05e9d"/><path d="M974.3 900.6l-2 4.2-1.9 2.5 3.6 0.6 3.6-0.2 2-4.4 2-5.9-3.7 2z" fill="#822c87" stroke="#9b569f"/><path d="M916.8 878.3l-2-6.6-2-7 3.6-1.7 3.6-1 1.9 7.6 2 7.1-3.5 0.5z" fill="#e0526e" stroke="#e6748b"/><path d="M956.1 900l-1.9-2.9-1.9-4.3 3.6 3.8 3.5 3.9 1.9 2.7 1.9 1.1-3.6-2z" fill="#8e3186" stroke="#a45a9e"/><path d="M963.2 904.3l-1.9-1.1-1.9-2.7 3.6 3.7 3.5 3.3 1.9 0.7 2-0.9-3.6-1.2z" fill="#802c87" stroke="#9a569f"/><path d="M970.4 907.3l-2 0.9-1.9-0.7 3.6 2.8 3.6 2 1.9-1.6 2-3-3.6 0.2z" fill="#7a2986" stroke="#95549f"/><path d="M985.7 882.1l-2.1 8.2-2 7.1 3.7-2.6 3.7-3.4 2.1-8.1 2.1-8.8-3.8 4z" fill="#ba3f7f" stroke="#c76598"/><path d="M923.9 876.7l-2-7.1-1.9-7.6 3.5-0.2 3.6 0.6 2 7.6 1.9 7.3-3.5-0.6z" fill="#e85869" stroke="#ec7a87"/><path d="M981.6 897.4l-2 5.9-2 4.4 3.6-1 3.7-2 2-6.1 2.1-7.2-3.7 3.4z" fill="#923286" stroke="#a85b9e"/><path d="M931 877.3l-1.9-7.3-2-7.6 3.6 1.3 3.6 2 1.9 7.6 1.9 7.1-3.5-1.8z" fill="#e85869" stroke="#ec7a87"/><path d="M977.6 907.7l-2 3-1.9 1.6 3.6 1.1 3.6 0 2-3.7 2-5-3.7 2z" fill="#7f2b87" stroke="#98569f"/><path d="M938.1 880.4l-1.9-7.1-1.9-7.6 3.5 2.8 3.6 3.6 1.9 7.1 1.9 6.6-3.5-3z" fill="#e0526e" stroke="#e6748b"/><path d="M945.2 885.8l-1.9-6.6-1.9-7.1 3.6 4.2 3.5 4.7 1.9 6.3 1.9 5.5-3.5-3.7z" fill="#cf4776" stroke="#d96c92"/><path d="M959.4 900.5l-1.9-3.9-1.9-4.9 3.6 5.5 3.5 5.4 1.9 3 1.9 1.9-3.5-3.3z" fill="#9c3585" stroke="#b05e9d"/><path d="M952.3 892.8l-1.9-5.5-1.9-6.3 3.6 5.2 3.5 5.5 1.9 4.9 1.9 3.9-3.5-3.9z" fill="#b63e7f" stroke="#c56499"/><path d="M966.5 907.5l-1.9-1.9-1.9-3 3.6 5 3.5 4.3 2 0.8 1.9-0.4-3.6-2z" fill="#862e87" stroke="#9e589f"/><path d="M989 891.4l-2.1 7.2-2 6.1 3.7-2.9 3.8-3.9 2.1-7.4 2-8-3.7 4.8z" fill="#b03c81" stroke="#c0639a"/><path d="M993.2 874.5l-2.1 8.8-2.1 8.1 3.8-4.1 3.7-4.8 2.1-8.5 2.1-8.7-3.8 4.7z" fill="#dc4f70" stroke="#e3728d"/><path d="M973.7 912.3l-1.9 0.4-2-0.8 3.6 3.4 3.6 2.3 2-1.5 1.9-2.7-3.6 0z" fill="#7a2986" stroke="#95549f"/><path d="M984.9 904.7l-2 5-2 3.7 3.7-1.1 3.7-2.4 2.1-5.5 2-6.5-3.8 3.9z" fill="#8f3186" stroke="#a65a9e"/><path d="M980.9 913.4l-1.9 2.7-2 1.5 3.7 1 3.6-0.3 2-3.7 2-4.7-3.7 2.4z" fill="#7f2b87" stroke="#98569f"/><path d="M920 862l-2-7.3-2.1-6.6 3.6-0.2 3.6 0.5 2 6.6 2 7.4-3.6-0.6z" fill="#fd9c6f" stroke="#feb08c"/><path d="M969.8 911.9l-1.9-1.7-1.9-2.4 3.6 5.7 3.6 4.6 1.9 0.1 1.9-0.6-3.6-2.3z" fill="#862e87" stroke="#9e589f"/><path d="M996.5 882.5l-2 8-2.1 7.4 3.8-4.8 3.8-5.4 2.1-7.8 2.1-8.1-3.8 5.5z" fill="#d84c72" stroke="#e0708e"/><path d="M962.7 902.6l-1.9-3.8-1.8-4.3 3.5 6.9 3.5 6.4 1.9 2.4 1.9 1.7-3.5-4.3z" fill="#a23784" stroke="#b55f9d"/><path d="M1000.7 865.3l-2.1 8.7-2.1 8.5 3.9-5.2 3.8-5.5 2.1-8.2 2.1-8.1-3.8 4.9z" fill="#f77462" stroke="#f89082"/><path d="M992.4 897.9l-2 6.5-2.1 5.5 3.8-3.5 3.8-4.6 2.1-6.8 2-7.3-3.8 5.4z" fill="#b03c81" stroke="#c0639a"/><path d="M927.1 862.4l-2-7.4-2-6.6 3.6 1.3 3.6 2.1 2 6.6 2 7.3-3.6-2z" fill="#fd9c6f" stroke="#feb08c"/><path d="M955.6 891.7l-1.8-5.5-1.9-5.7 3.5 7 3.6 7 1.8 4.3 1.9 3.8-3.5-5.4z" fill="#c6437a" stroke="#d16995"/><path d="M977 917.6l-1.9 0.6-1.9-0.1 3.6 3.3 3.6 1.8 2-2.1 1.9-2.8-3.6 0.3z" fill="#7a2986" stroke="#95549f"/><path d="M988.3 909.9l-2 4.7-2 3.7 3.8-1.9 3.7-3.2 2.1-5.4 2-6-3.8 4.6z" fill="#923286" stroke="#a85b9e"/><path d="M948.5 881l-1.9-6.5-1.9-6.5 3.6 6 3.6 6.5 1.9 5.7 1.8 5.5-3.5-5.5z" fill="#e85869" stroke="#ec7a87"/><path d="M934.3 865.7l-2-7.3-2-6.6 3.7 2.8 3.5 3.7 2 6.6 1.9 7.2-3.6-3.6z" fill="#fc8f68" stroke="#fda687"/><path d="M941.4 872.1l-1.9-7.2-2-6.6 3.6 4.5 3.6 5.2 1.9 6.5 1.9 6.5-3.5-4.7z" fill="#f87862" stroke="#f99382"/><path d="M984.3 918.3l-1.9 2.8-2 2.1 3.7 0.1 3.7-1.6 2-3.9 2-4.6-3.7 3.2z" fill="#822c87" stroke="#9b569f"/><path d="M1004.2 871.8l-2.1 8.1-2.1 7.8 3.9-6 2.1-7.7 2.1-7.9z" fill="#f16764" stroke="#f48583"/><path d="M1008.4 855.5l-2.1 8.1-2.1 8.2 3.9-5.7 2.1-7.7 2-7.4z" fill="#fd9a6e" stroke="#fdae8b"/><path d="M1000 887.7l-2 7.3-2.1 6.8 3.8-5.6 2.1-7 2.1-7.5z" fill="#d14876" stroke="#da6d91"/><path d="M973.2 918.1l-1.9-0.7-2-1.1 3.6 5.4 3.6 3.8 2-0.9 1.9-1.4-3.6-1.8z" fill="#802c87" stroke="#9a569f"/><path d="M995.9 901.8l-2 6-2.1 5.4 3.8-4.6 2.1-5.9 2-6.5z" fill="#af3b82" stroke="#bf629b"/><path d="M966 907.8l-1.9-2.7-1.9-3 3.6 7.6 3.5 6.6 2 1.1 1.9 0.7-3.6-4.6z" fill="#9c3585" stroke="#b05e9d"/><path d="M959 894.5l-2-4.4-1.9-4.4 3.6 8.3 3.5 8.1 1.9 3 1.9 2.7-3.5-6.4z" fill="#c6437a" stroke="#d16995"/><path d="M980.4 923.2l-1.9 1.4-2 0.9 3.7 2 3.7 0.2 1.9-2.7 2-3.3-3.7 1.6z" fill="#7a2986" stroke="#95549f"/><path d="M991.8 913.2l-2 4.6-2 3.9 3.8-3.2 2-4.7 2-5.2z" fill="#943386" stroke="#a95c9e"/><path d="M951.9 880.5l-2-5.5-1.9-5 3.6 7.6 3.5 8.1 1.9 4.4 2 4.4-3.6-7z" fill="#ee6165" stroke="#f18084"/><path d="M987.8 921.7l-2 3.3-1.9 2.7 3.7-1.7 2-3.5 2-4z" fill="#852d87" stroke="#9d579f"/><path d="M944.7 868l-1.9-5.9-2-5 3.6 6 3.6 6.9 1.9 5 2 5.5-3.6-6.5z" fill="#fc8f68" stroke="#fda687"/><path d="M930.3 851.8l-1.9-5.4-2.1-3.7 3.7 2.3 3.6 3.1 2 4.4 1.9 5.8-3.5-3.7z" fill="#fece93" stroke="#fed8a9"/><path d="M969.3 916.3l-1.9-1.2-1.9-1.3 3.5 7.1 3.6 5.6 2-0.4 1.9-0.6-3.6-3.8z" fill="#8e3186" stroke="#a45a9e"/><path d="M937.5 858.3l-1.9-5.8-2-4.4 3.6 4 3.6 5 2 5 1.9 5.9-3.6-5.2z" fill="#feb57f" stroke="#fec499"/><path d="M976.5 925.5l-1.9 0.6-2 0.4 3.6 3.7 3.7 1.8 2-2 2-2.3-3.7-0.2z" fill="#7a2986" stroke="#95549f"/><path d="M962.2 902.1l-1.9-2.9-1.9-2.6 3.5 9 3.6 8.2 1.9 1.3 1.9 1.2-3.5-6.6z" fill="#b63e7f" stroke="#c56499"/><path d="M983.9 927.7l-2 2.3-2 2 3.7-0.3 2-2.7 2-3z" fill="#7c2a86" stroke="#96559f"/><path d="M955.1 885.7l-1.9-4-2-3.4 3.6 9.1 3.6 9.2 1.9 2.6 1.9 2.9-3.5-8.1z" fill="#e85869" stroke="#ec7a87"/><path d="M972.6 926.5l-1.9 0.3-2 0.4 3.6 5 3.7 3.1 1.9-1.6 2-1.7-3.7-1.8z" fill="#7f2b87" stroke="#98569f"/><path d="M965.5 913.8l-2-1.1-2-0.7 3.6 8.3 3.6 6.9 2-0.4 1.9-0.3-3.6-5.6z" fill="#9c3585" stroke="#b05e9d"/><path d="M979.9 932l-2 1.7-1.9 1.6 3.7 0.8 1.9-2.1 2-2.3z" fill="#792986" stroke="#94549e"/><path d="M948 870l-2-4.3-1.9-3.5 3.6 7.6 3.5 8.5 2 3.4 1.9 4-3.5-8.1z" fill="#fc8f68" stroke="#fda687"/><path d="M958.4 896.6l-2-2.2-2-1.6 3.6 9.9 3.5 9.3 2 0.7 2 1.1-3.6-8.2z" fill="#cf4776" stroke="#d96c92"/><path d="M940.8 857.1l-2-3.8-2-2.6 3.6 5.1 3.7 6.4 1.9 3.5 2 4.3-3.6-6.9z" fill="#fec189" stroke="#fecea0"/><path d="M933.6 848.1l-2-2.8-2.1-1.1 3.7 2.7 3.6 3.8 2 2.6 2 3.8-3.6-5z" fill="#fde1a5" stroke="#fee7b7"/><path d="M899.3 857.3l-2.2 6.2-2.1 3.5 3.7 9.8 3.6 10.3 2.1-11 2.1-10.4-3.6-2.9z" fill="#fea373" stroke="#feb58f"/><path d="M968.7 927.2l-2 0.5-2 0.9 3.6 5.9 3.7 3.8 2-1.5 2-1.5-3.7-3.1z" fill="#832d87" stroke="#9c579f"/><path d="M976 935.3l-2 1.5-2 1.5 3.7 1.6 2-1.9 2-1.9z" fill="#792986" stroke="#94549e"/><path d="M906.5 865.7l-2.1 10.4-2.1 11 3.6-8.4 3.7-7.9 2.1-3.5 2.1-6.2-3.7 3.6z" fill="#fea373" stroke="#feb58f"/><path d="M961.5 912l-1.9-0.3-2 0.1 3.5 9.1 3.6 7.7 2-0.9 2-0.5-3.6-6.9z" fill="#a83983" stroke="#ba619c"/><path d="M951.2 878.3l-1.9-2.7-2-2 3.6 9.4 3.5 9.8 2 1.6 2 2.2-3.6-9.2z" fill="#f87862" stroke="#f99382"/><path d="M895 867l-2.1-0.3-2.2-2.9 3.7 5.5 3.6 2.9 2.2 7.2 2.1 7.7-3.6-10.3z" fill="#fea373" stroke="#feb58f"/><path d="M944.1 862.2l-2-2.4-2.1-1.5 3.7 7 3.6 8.3 2 2 1.9 2.7-3.5-8.5z" fill="#feb57f" stroke="#fec499"/><path d="M954.4 892.8l-2-1-2-0.2 3.6 10.3 3.6 9.9 2-0.1 1.9 0.3-3.5-9.3z" fill="#e0526e" stroke="#e6748b"/><path d="M964.7 928.6l-2 1.2-2 1.5 3.6 6.2 3.7 4.1 2-1.7 2-1.6-3.7-3.8z" fill="#862e87" stroke="#9e589f"/><path d="M972 938.3l-2 1.6-2 1.7 3.7 1.9 2-1.8 2-1.8z" fill="#792986" stroke="#94549e"/><path d="M936.8 850.7l-2-1.3-2.1-0.1 3.7 3.6 3.6 5.4 2.1 1.5 2 2.4-3.7-6.4z" fill="#fde1a5" stroke="#fee7b7"/><path d="M902.3 887.1l-2.1-7.7-2.2-7.2 3.7-1 3.6-3.6 2.2 2.9 2.1 0.3-3.7 7.9z" fill="#fea373" stroke="#feb58f"/><path d="M957.6 911.8l-2.1 0.8-2 1.4 3.6 9.4 3.6 7.9 2-1.5 2-1.2-3.6-7.7z" fill="#b03c81" stroke="#c0639a"/><path d="M947.3 873.6l-2.1-1.1-2-0.3 3.6 9.3 3.6 10.1 2 0.2 2 1-3.5-9.8z" fill="#fc8f68" stroke="#fda687"/><path d="M960.7 931.3l-2 2-2.1 2.3 3.7 5.9 3.6 3.9 2.1-2 2-1.8-3.7-4.1z" fill="#862e87" stroke="#9e589f"/><path d="M950.4 891.6l-2 0.5-2.1 1.3 3.6 10.5 3.6 10.1 2-1.4 2.1-0.8-3.6-9.9z" fill="#e85869" stroke="#ec7a87"/><path d="M968 941.6l-2 1.8-2.1 2 3.7 1.6 2.1-1.8 2-1.7z" fill="#792986" stroke="#94549e"/><path d="M940 858.3l-2-0.6-2.1 0.2 3.7 6.3 3.6 8 2 0.3 2.1 1.1-3.6-8.3z" fill="#fece93" stroke="#fed8a9"/><path d="M953.5 914l-2.1 2.1-2 2.6 3.6 9.1 3.6 7.8 2.1-2.3 2-2-3.6-7.9z" fill="#b03c81" stroke="#c0639a"/><path d="M932.7 849.3l-2.1 0.8-2 1.4 3.7 2.1 3.6 4.3 2.1-0.2 2 0.6-3.6-5.4z" fill="#fcf2b7" stroke="#fdf5c5"/><path d="M839 942.9l-2.3 2.8-2.2 1 3.6 1.6 3.6 1.3 2.2-2.6 2.2-4.6-3.6 0.4z" fill="#7a2986" stroke="#95549f"/><path d="M956.6 935.6l-2 2.6-2.1 2.9 3.7 5.2 3.7 3.1 2-2 2-2-3.6-3.9z" fill="#832d87" stroke="#9c579f"/><path d="M943.2 872.2l-2 0.5-2.1 1.3 3.6 9.2 3.6 10.2 2.1-1.3 2-0.5-3.6-10.1z" fill="#fd9c6f" stroke="#feb08c"/><path d="M850.4 928.2l-2.1 7.9-2.2 6.3 3.6-0.3 3.6-0.3 2.2-7.7 2.1-9.2-3.6 1.5z" fill="#9c3585" stroke="#b05e9d"/><path d="M963.9 945.4l-2 2-2 2 3.7 0.8 2-1.6 2-1.6z" fill="#792986" stroke="#94549e"/><path d="M946.3 893.4l-2.1 2.1-2 2.9 3.6 10.3 3.6 10 2-2.6 2.1-2.1-3.6-10.1z" fill="#e85869" stroke="#ec7a87"/><path d="M949.4 918.7l-2.1 3.3-2.1 3.8 3.6 8.4 3.7 6.9 2.1-2.9 2-2.6-3.6-7.8z" fill="#a83983" stroke="#ba619c"/><path d="M846.1 942.4l-2.2 4.6-2.2 2.6 3.6 1 3.6 0.9 2.3-3.9 2.1-5.8-3.6 0.3z" fill="#7f2b87" stroke="#98569f"/><path d="M834.5 946.7l-2.3-1 3.6 2.4 3.6 1.9 2.3-0.4-3.6-1.3z" fill="#7c2a86" stroke="#96559f"/><path d="M935.9 857.9l-2.1 0.8-2 1.4 3.6 6 3.7 7.9 2.1-1.3 2-0.5-3.6-8z" fill="#fed89d" stroke="#fee0b0"/><path d="M928.6 851.5l-2.1 1.6-2.1 1.7 3.7 1.5 3.7 3.8 2-1.4 2.1-0.8-3.6-4.3z" fill="#fcf8bc" stroke="#fdf9ca"/><path d="M952.5 941.1l-2.1 3.2-2.1 3.2 3.7 3.8 3.8 1.8 2-1.8 2.1-1.9-3.7-3.1z" fill="#7f2b87" stroke="#98569f"/><path d="M942.2 898.4l-2.1 3.6-2.1 4.4 3.6 9.9 3.6 9.5 2.1-3.8 2.1-3.3-3.6-10z" fill="#e0526e" stroke="#e6748b"/><path d="M945.2 925.8l-2.1 4.2-2.1 4.6 3.7 7.2 3.6 5.7 2.1-3.2 2.1-3.2-3.7-6.9z" fill="#9c3585" stroke="#b05e9d"/><path d="M857.6 924.9l-2.1 9.2-2.2 7.7 3.6-0.2 3.7 0.2 2.1-8.5 2.1-9.9-3.6 0.5z" fill="#a83983" stroke="#ba619c"/><path d="M939.1 874l-2.1 2-2.1 2.9 3.6 9.3 3.7 10.2 2-2.9 2.1-2.1-3.6-10.2z" fill="#fd9c6f" stroke="#feb08c"/><path d="M841.7 949.6l-2.3 0.4 3.7 1.7 3.6 1.4 2.2-1.6-3.6-0.9z" fill="#792986" stroke="#94549e"/><path d="M853.3 941.8l-2.1 5.8-2.3 3.9 3.7 0.8 3.6 0.8 2.2-4.6 2.2-6.7-3.7-0.2z" fill="#832d87" stroke="#9c579f"/><path d="M959.9 949.4l-2.1 1.9-2 1.8 3.7-0.3 2.1-1.1 2-1.5z" fill="#792986" stroke="#94549e"/><path d="M938 906.4l-2.2 5-2.1 5.7 3.7 9.1 3.6 8.4 2.1-4.6 2.1-4.2-3.6-9.5z" fill="#cf4776" stroke="#d96c92"/><path d="M931.8 860.1l-2.1 1.9-2.2 2.4 3.7 6.4 3.7 8.1 2.1-2.9 2.1-2-3.7-7.9z" fill="#fed89d" stroke="#fee0b0"/><path d="M924.4 854.8l-2.1 1.6-2.2 1.6 3.8 2.1 3.6 4.3 2.2-2.4 2.1-1.9-3.7-3.8z" fill="#fcf8bc" stroke="#fdf9ca"/><path d="M941 934.6l-2.1 4.7-2.1 4.8 3.7 5.5 3.7 4 2-3 2.1-3.1-3.6-5.7z" fill="#8e3186" stroke="#a45a9e"/><path d="M848.9 951.5l-2.2 1.6 3.6 1.2 3.7 1.2 2.2-2.4-3.6-0.8z" fill="#792986" stroke="#94549e"/><path d="M864.8 923.4l-2.1 9.9-2.1 8.5 3.6 0.4 3.7 0.9 2.1-8.8 2.1-10.1-3.6-0.7z" fill="#b03c81" stroke="#c0639a"/><path d="M934.9 878.9l-2.1 3.6-2.1 4.5 3.6 9.4 3.7 10 2.1-4.4 2.1-3.6-3.7-10.2z" fill="#fc8f68" stroke="#fda687"/><path d="M948.3 947.5l-2.1 3.1-2 3 3.7 2.1 3.7 0.2 2.1-1.2 2.1-1.6-3.8-1.8z" fill="#7a2986" stroke="#95549f"/><path d="M860.6 941.8l-2.2 6.7-2.2 4.6 3.7 0.9 3.6 1 2.2-4.9 2.2-7-3.7-0.9z" fill="#862e87" stroke="#9e589f"/><path d="M933.7 917.1l-2.1 6.1-2.2 6.4 3.7 7.7 3.7 6.8 2.1-4.8 2.1-4.7-3.6-8.4z" fill="#b63e7f" stroke="#c56499"/><path d="M869.1 901.5l-2.1 11.1-2.2 10.8 3.7 0.1 3.6 0.7 2.2-11 2.1-11.3-3.7-0.6z" fill="#e85869" stroke="#ec7a87"/><path d="M856.2 953.1l-2.2 2.4 3.6 1.1 3.7 1.1 2.2-2.7-3.6-1z" fill="#792986" stroke="#94549e"/><path d="M955.8 953.1l-2.1 1.6-2.1 1.2 3.8-1.7 2.1-0.5 2-0.9z" fill="#7c2a86" stroke="#96559f"/><path d="M930.7 887l-2.2 5.3-2.1 6.1 3.6 9.3 3.7 9.4 2.1-5.7 2.2-5-3.7-10z" fill="#f87862" stroke="#f99382"/><path d="M872.1 924.2l-2.1 10.1-2.1 8.8 3.6 1.2 3.7 1.6 2.2-8.5 2.1-9.9-3.7-2z" fill="#b03c81" stroke="#c0639a"/><path d="M936.8 944.1l-2.1 4.7-2.2 4.2 3.7 3.4 3.8 1.9 2.1-2.1 2.1-2.6-3.7-4z" fill="#802c87" stroke="#9a569f"/><path d="M927.5 864.4l-2.1 3.1-2.1 3.9 3.7 7.1 3.7 8.5 2.1-4.5 2.1-3.6-3.7-8.1z" fill="#fece93" stroke="#fed8a9"/><path d="M929.4 929.6l-2.1 6.5-2.2 6.3 3.7 5.8 3.7 4.8 2.2-4.2 2.1-4.7-3.7-6.8z" fill="#9c3585" stroke="#b05e9d"/><path d="M867.9 943.1l-2.2 7-2.2 4.9 3.7 1.1 3.6 1.2 2.2-4.6 2.2-6.8-3.7-1.6z" fill="#862e87" stroke="#9e589f"/><path d="M920.1 858l-2.1 1.8-2.1 2.5 3.7 3.7 3.7 5.4 2.1-3.9 2.1-3.1-3.6-4.3z" fill="#fcf2b7" stroke="#fdf5c5"/><path d="M926.4 898.4l-2.2 6.9-2.1 7.5 3.7 8.5 3.6 8.3 2.2-6.4 2.1-6.1-3.7-9.4z" fill="#e85869" stroke="#ec7a87"/><path d="M876.4 901.9l-2.1 11.3-2.2 11 3.7 1.3 3.7 2 2.1-10.8 2.2-11.2-3.7-2.2z" fill="#e85869" stroke="#ec7a87"/><path d="M879.5 927.5l-2.1 9.9-2.2 8.5 3.7 2 3.7 2.2 2.1-7.8 2.2-9.2-3.7-3.1z" fill="#a83983" stroke="#ba619c"/><path d="M922.1 912.8l-2.2 7.8-2.1 8 3.6 7.2 3.7 6.6 2.2-6.3 2.1-6.5-3.6-8.3z" fill="#c6437a" stroke="#d16995"/><path d="M944.2 953.6l-2.1 2.6-2.1 2.1 3.7 0.1 3.8-1.5 2.1-0.2 2-0.8-3.7-0.2z" fill="#7a2986" stroke="#95549f"/><path d="M863.5 955l-2.2 2.7 3.7 1 3.6 1 2.2-2.4-3.6-1.2z" fill="#792986" stroke="#94549e"/><path d="M925.1 942.4l-2.1 5.9-2.1 5.3 3.7 3.6 3.7 2.4 2.1-2.9 2.1-3.7-3.7-4.8z" fill="#862e87" stroke="#9e589f"/><path d="M875.2 945.9l-2.2 6.8-2.2 4.6 3.7 1.3 3.7 1.3 2.2-3.9 2.2-5.9-3.7-2.2z" fill="#832d87" stroke="#9c579f"/><path d="M923.3 871.4l-2.1 4.8-2.2 5.9 3.7 7.7 3.7 8.6 2.1-6.1 2.2-5.3-3.7-8.5z" fill="#feb57f" stroke="#fec499"/><path d="M917.8 928.6l-2.2 7.9-2.2 7.4 3.7 5.2 3.8 4.5 2.1-5.3 2.1-5.9-3.7-6.6z" fill="#a23784" stroke="#b55f9d"/><path d="M883.8 905.5l-2.2 11.2-2.1 10.8 3.7 2.5 3.7 3.1 2.1-10.2 2.2-10.7-3.7-3.7z" fill="#e0526e" stroke="#e6748b"/><path d="M886.9 933.1l-2.2 9.2-2.1 7.8 3.7 2.4 3.7 2.5 2.1-6.5 2.2-8-3.7-3.8z" fill="#9c3585" stroke="#b05e9d"/><path d="M880.7 880.9l-2.2 10.1-2.1 10.9 3.7 1.4 3.7 2.2 2.1-10.9 2.2-10.1-3.7-2.2z" fill="#fd9c6f" stroke="#feb08c"/><path d="M910.4 914.2l-2.2 9.3-2.2 9 3.7 5.8 3.7 5.6 2.2-7.4 2.2-7.9-3.7-7.2z" fill="#c6437a" stroke="#d16995"/><path d="M919 882.1l-2.2 6.8-2.1 7.8 3.7 7.8 3.7 8.3 2.1-7.5 2.2-6.9-3.7-8.6z" fill="#fc8f68" stroke="#fda687"/><path d="M932.5 953l-2.1 3.7-2.1 2.9 3.7 1.1 3.8-0.3 2.1-0.7 2.1-1.4-3.8-1.9z" fill="#7a2986" stroke="#95549f"/><path d="M891.2 912.2l-2.2 10.7-2.1 10.2 3.7 3.6 3.7 3.8 2.1-9.1 2.2-9.9-3.7-5z" fill="#cf4776" stroke="#d96c92"/><path d="M915.9 862.3l-2.2 3.4-2.1 4.6 3.7 5.2 3.7 6.6 2.2-5.9 2.1-4.8-3.7-5.4z" fill="#fde1a5" stroke="#fee7b7"/><path d="M914.7 896.7l-2.2 8.5-2.1 9 3.7 7.2 3.7 7.2 2.1-8 2.2-7.8-3.7-8.3z" fill="#ee6165" stroke="#f18084"/><path d="M906 932.5l-2.1 8.6-2.2 7.5 3.7 3.9 3.7 3.5 2.2-5.5 2.1-6.6-3.7-5.6z" fill="#9c3585" stroke="#b05e9d"/><path d="M898.6 921.5l-2.2 9.9-2.1 9.1 3.7 4.1 3.7 4 2.2-7.5 2.1-8.6-3.7-5.6z" fill="#b63e7f" stroke="#c56499"/><path d="M913.4 943.9l-2.1 6.6-2.2 5.5 3.7 3 3.8 2.1 2.1-3.2 2.2-4.3-3.8-4.5z" fill="#862e87" stroke="#9e589f"/><path d="M894.3 940.5l-2.2 8-2.1 6.5 3.7 2.4 3.7 2.2 2.1-4.7 2.2-6.3-3.7-4z" fill="#8e3186" stroke="#a45a9e"/><path d="M882.6 950.1l-2.2 5.9-2.2 3.9 3.7 1.2 3.7 1.1 2.2-2.6 2.2-4.6-3.7-2.5z" fill="#7f2b87" stroke="#98569f"/><path d="M870.8 957.3l-2.2 2.4 3.7 1 3.7 0.8 2.2-1.6-3.7-1.3z" fill="#792986" stroke="#94549e"/><path d="M902.9 901.3l-2.1 10-2.2 10.2 3.7 5.4 3.7 5.6 2.2-9 2.2-9.3-3.8-6.7z" fill="#e85869" stroke="#ec7a87"/><path d="M888.1 884.5l-2.2 10.1-2.1 10.9 3.7 3 3.7 3.7 2.1-10.8 2.2-10.2-3.7-3.8z" fill="#fc8f68" stroke="#fda687"/><path d="M951.6 955.9l-2 0.8-2.1 0.2 3.8-3.3 2.1 0.6 2 0z" fill="#852d87" stroke="#9d579f"/><path d="M895.5 891.2l-2.2 10.2-2.1 10.8 3.7 4.3 3.7 5 2.2-10.2 2.1-10-3.7-5.4z" fill="#f87862" stroke="#f99382"/><path d="M911.6 870.3l-2.2 5.9-2.1 7.3 3.7 6.1 3.7 7.1 2.1-7.8 2.2-6.8-3.7-6.6z" fill="#fec189" stroke="#fecea0"/><path d="M907.3 883.5l-2.2 8.4-2.2 9.4 3.7 6.2 3.8 6.7 2.1-9 2.2-8.5-3.7-7.1z" fill="#fc8f68" stroke="#fda687"/><path d="M901.7 948.6l-2.2 6.3-2.1 4.7 3.7 1.9 3.7 1.3 2.2-2.6 2.1-4.2-3.7-3.5z" fill="#802c87" stroke="#9a569f"/><path d="M920.9 953.6l-2.2 4.3-2.1 3.2 3.7 1.2 3.7 0.1 2.2-0.9 2.1-1.9-3.7-2.4z" fill="#7a2986" stroke="#95549f"/><path d="M904.2 863.7l-2.2 4.4-2.2 6.1 3.8 4.1 3.7 5.2 2.1-7.3 2.2-5.9-3.7-3.9z" fill="#fde1a5" stroke="#fee7b7"/><path d="M899.8 874.2l-2.1 7.8-2.2 9.2 3.7 4.7 3.7 5.4 2.2-9.4 2.2-8.4-3.7-5.2z" fill="#feb57f" stroke="#fec499"/><path d="M890 955l-2.2 4.6-2.2 2.6 3.7 0.8 3.7 0.5 2.2-1 2.2-2.9-3.7-2.2z" fill="#7a2986" stroke="#95549f"/><path d="M940 958.3l-2.1 1.4-2.1 0.7 3.8-1.9 3.8-3.3 2.1 1.2 2 0.5-3.8 1.5z" fill="#822c87" stroke="#9b569f"/><path d="M878.2 959.9l-2.2 1.6 3.7 0.7 3.7 0.5 2.2-0.5-3.7-1.1z" fill="#792986" stroke="#94549e"/><path d="M909.1 956l-2.1 4.2-2.2 2.6 3.7 0.7 3.8-0.1 2.1-0.4 2.2-1.9-3.8-2.1z" fill="#7a2986" stroke="#95549f"/><path d="M928.3 959.6l-2.1 1.9-2.2 0.9 3.8-1.1 3.8-2.4 2.1 1.2 2.1 0.3-3.8 0.3z" fill="#7f2b87" stroke="#98569f"/><path d="M897.4 959.6l-2.2 2.9-2.2 1 3.7 0 3.8-0.5 2.1 0.8 2.2-1-3.7-1.3z" fill="#7a2986" stroke="#95549f"/><path d="M885.6 962.2l-2.2 0.5 3.7 0.1 3.7-0.2 2.2 0.9-3.7-0.5z" fill="#7c2a86" stroke="#96559f"/><path d="M916.6 961.1l-2.2 1.9-2.1 0.4 3.7-1 3.8-2 2.1 1.6 2.1 0.4-3.7-0.1z" fill="#7f2b87" stroke="#98569f"/><path d="M947.5 956.9l-2-0.5-2.1-1.2 3.9-4.7 2 1.9 2 1.2z" fill="#943386" stroke="#a95c9e"/><path d="M904.8 962.8l-2.2 1-2.1-0.8 3.7-1.2 3.8-2 2.1 2.6 2.2 1-3.8 0.1z" fill="#822c87" stroke="#9b569f"/><path d="M935.8 960.4l-2.1-0.3-2.1-1.2 3.8-3.6 3.9-4.7 2 2.7 2.1 1.9-3.8 3.3z" fill="#923286" stroke="#a85b9e"/><path d="M893 963.5l-2.2-0.9 3.7-0.8 3.8-1.3 2.2 2.5-3.8 0.5z" fill="#852d87" stroke="#9d579f"/><path d="M924 962.4l-2.1-0.4-2.1-1.6 3.8-3 3.8-3.9 2.1 3.2 2.1 2.2-3.8 2.4z" fill="#8f3186" stroke="#a65a9e"/><path d="M912.3 963.4l-2.2-1-2.1-2.6 3.7-2.7 3.8-3.5 2.2 4 2.1 2.8-3.8 2z" fill="#923286" stroke="#a85b9e"/><path d="M900.5 963l-2.2-2.5 3.7-2 3.8-2.6 2.2 3.9-3.8 2z" fill="#943386" stroke="#a95c9e"/><path d="M943.4 955.2l-2.1-1.9-2-2.7 3.8-5.8 2.1 3.2 2.1 2.5z" fill="#af3b82" stroke="#bf629b"/><path d="M931.6 958.9l-2.1-2.2-2.1-3.2 3.8-4.9 3.9-5.6 2.1 4.1 2.1 3.5-3.9 4.7z" fill="#b03c81" stroke="#c0639a"/><path d="M919.8 960.4l-2.1-2.8-2.2-4 3.8-4.2 3.9-4.9 2.1 4.9 2.1 4.1-3.8 3.9z" fill="#b03c81" stroke="#c0639a"/><path d="M908 959.8l-2.2-3.9 3.8-3.3 3.8-3.9 2.1 4.9-3.8 3.5z" fill="#af3b82" stroke="#bf629b"/><path d="M939.3 950.6l-2.1-3.5-2.1-4.1 3.9-6.1 2.1 4.2 2 3.7z" fill="#d14876" stroke="#da6d91"/><path d="M915.5 953.6l-2.1-4.9 3.8-4.6 3.8-5 2.2 5.4-3.9 4.9z" fill="#d14876" stroke="#da6d91"/><path d="M927.4 953.5l-2.1-4.1-2.1-4.9 3.8-5.3 3.9-5.8 2.1 5 2.1 4.6-3.9 5.6z" fill="#d84c72" stroke="#e0708e"/><path d="M935.1 943l-2.1-4.6-2.1-5 3.9-5.8 2.1 4.7 2.1 4.6z" fill="#f16764" stroke="#f48583"/><path d="M923.2 944.5l-2.2-5.4 3.9-5.3 3.9-5.4 2.1 5-3.9 5.8z" fill="#f16764" stroke="#f48583"/><path d="M930.9 933.4l-2.1-5 3.9-5.4 2.1 4.6z" fill="#fc8d68" stroke="#fca486"/></g></g><path d="M746.7 1042.9L1049.5 741.9" stroke="#000" stroke-width="1.1"/><rect x="746.7" y="741.9" width="302.8" height="301" fill="none" stroke="#000" stroke-width="1.9"/><text x="898.1" y="1069.3" text-anchor="middle" textLength="84.6" lengthAdjust="spacingAndGlyphs">3D plot</text></svg></body></html>
